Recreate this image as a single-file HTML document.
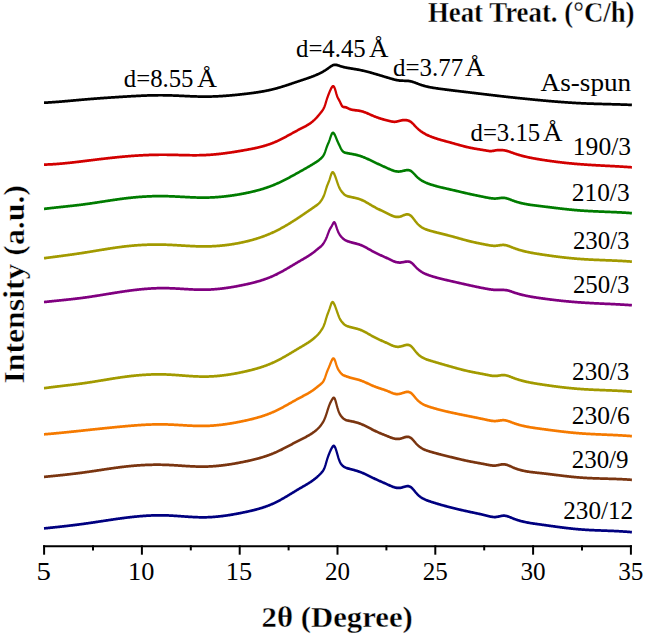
<!DOCTYPE html>
<html><head><meta charset="utf-8"><style>
html,body{margin:0;padding:0;background:#fff;}
svg{display:block;}
</style></head><body>
<svg width="645" height="638" viewBox="0 0 645 638">
<rect width="645" height="638" fill="#fff"/>
<g fill="none" stroke-width="2.2" stroke-linejoin="round" stroke-linecap="butt" transform="scale(1,1.24)">
<path d="M44.0,82.86 L44.5,82.84 L45.0,82.82 L45.5,82.79 L46.0,82.77 L46.5,82.75 L47.0,82.73 L47.5,82.70 L48.0,82.68 L48.5,82.65 L49.0,82.63 L49.5,82.60 L50.0,82.58 L50.5,82.55 L51.0,82.52 L51.5,82.50 L52.0,82.47 L52.5,82.44 L53.0,82.41 L53.5,82.38 L54.0,82.35 L54.5,82.32 L55.0,82.30 L55.5,82.26 L56.0,82.23 L56.5,82.20 L57.0,82.17 L57.5,82.14 L58.0,82.11 L58.5,82.08 L59.0,82.05 L59.5,82.01 L60.0,81.98 L60.5,81.95 L61.0,81.91 L61.5,81.88 L62.0,81.85 L62.5,81.81 L63.0,81.78 L63.5,81.75 L64.0,81.71 L64.5,81.68 L65.0,81.64 L65.5,81.61 L66.0,81.57 L66.5,81.54 L67.0,81.50 L67.5,81.47 L68.0,81.43 L68.5,81.39 L69.0,81.36 L69.5,81.32 L70.0,81.29 L70.5,81.25 L71.0,81.21 L71.5,81.18 L72.0,81.14 L72.5,81.11 L73.0,81.07 L73.5,81.03 L74.0,81.00 L74.5,80.96 L75.0,80.92 L75.5,80.89 L76.0,80.85 L76.5,80.81 L77.0,80.78 L77.5,80.74 L78.0,80.71 L78.5,80.67 L79.0,80.63 L79.5,80.60 L80.0,80.56 L80.5,80.53 L81.0,80.49 L81.5,80.45 L82.0,80.42 L82.5,80.38 L83.0,80.35 L83.5,80.31 L84.0,80.28 L84.5,80.24 L85.0,80.21 L85.5,80.18 L86.0,80.14 L86.5,80.11 L87.0,80.07 L87.5,80.04 L88.0,80.01 L88.5,79.97 L89.0,79.94 L89.5,79.91 L90.0,79.87 L90.5,79.84 L91.0,79.81 L91.5,79.78 L92.0,79.74 L92.5,79.71 L93.0,79.68 L93.5,79.65 L94.0,79.62 L94.5,79.59 L95.0,79.56 L95.5,79.52 L96.0,79.49 L96.5,79.46 L97.0,79.43 L97.5,79.40 L98.0,79.37 L98.5,79.34 L99.0,79.31 L99.5,79.28 L100.0,79.25 L100.5,79.22 L101.0,79.19 L101.5,79.16 L102.0,79.13 L102.5,79.10 L103.0,79.08 L103.5,79.05 L104.0,79.02 L104.5,78.99 L105.0,78.96 L105.5,78.93 L106.0,78.91 L106.5,78.88 L107.0,78.85 L107.5,78.82 L108.0,78.79 L108.5,78.77 L109.0,78.74 L109.5,78.71 L110.0,78.68 L110.5,78.66 L111.0,78.63 L111.5,78.60 L112.0,78.58 L112.5,78.55 L113.0,78.52 L113.5,78.50 L114.0,78.47 L114.5,78.44 L115.0,78.42 L115.5,78.39 L116.0,78.37 L116.5,78.34 L117.0,78.31 L117.5,78.29 L118.0,78.26 L118.5,78.24 L119.0,78.21 L119.5,78.19 L120.0,78.16 L120.5,78.14 L121.0,78.11 L121.5,78.09 L122.0,78.06 L122.5,78.04 L123.0,78.01 L123.5,77.99 L124.0,77.96 L124.5,77.94 L125.0,77.91 L125.5,77.89 L126.0,77.86 L126.5,77.84 L127.0,77.82 L127.5,77.79 L128.0,77.77 L128.5,77.74 L129.0,77.72 L129.5,77.70 L130.0,77.67 L130.5,77.65 L131.0,77.63 L131.5,77.60 L132.0,77.58 L132.5,77.56 L133.0,77.54 L133.5,77.51 L134.0,77.49 L134.5,77.47 L135.0,77.45 L135.5,77.43 L136.0,77.41 L136.5,77.38 L137.0,77.36 L137.5,77.34 L138.0,77.32 L138.5,77.30 L139.0,77.28 L139.5,77.26 L140.0,77.25 L140.5,77.23 L141.0,77.21 L141.5,77.19 L142.0,77.17 L142.5,77.16 L143.0,77.14 L143.5,77.12 L144.0,77.11 L144.5,77.09 L145.0,77.07 L145.5,77.06 L146.0,77.04 L146.5,77.03 L147.0,77.02 L147.5,77.00 L148.0,76.99 L148.5,76.98 L149.0,76.96 L149.5,76.95 L150.0,76.94 L150.5,76.93 L151.0,76.92 L151.5,76.91 L152.0,76.90 L152.5,76.89 L153.0,76.88 L153.5,76.87 L154.0,76.87 L154.5,76.86 L155.0,76.85 L155.5,76.85 L156.0,76.84 L156.5,76.84 L157.0,76.83 L157.5,76.83 L158.0,76.83 L158.5,76.82 L159.0,76.82 L159.5,76.82 L160.0,76.82 L160.5,76.82 L161.0,76.82 L161.5,76.82 L162.0,76.82 L162.5,76.82 L163.0,76.83 L163.5,76.83 L164.0,76.84 L164.5,76.84 L165.0,76.85 L165.5,76.85 L166.0,76.86 L166.5,76.87 L167.0,76.88 L167.5,76.89 L168.0,76.90 L168.5,76.91 L169.0,76.92 L169.5,76.93 L170.0,76.94 L170.5,76.95 L171.0,76.96 L171.5,76.98 L172.0,76.99 L172.5,77.01 L173.0,77.02 L173.5,77.04 L174.0,77.05 L174.5,77.07 L175.0,77.08 L175.5,77.10 L176.0,77.12 L176.5,77.13 L177.0,77.15 L177.5,77.17 L178.0,77.18 L178.5,77.20 L179.0,77.22 L179.5,77.24 L180.0,77.26 L180.5,77.27 L181.0,77.29 L181.5,77.31 L182.0,77.33 L182.5,77.35 L183.0,77.37 L183.5,77.39 L184.0,77.40 L184.5,77.42 L185.0,77.44 L185.5,77.46 L186.0,77.48 L186.5,77.50 L187.0,77.52 L187.5,77.53 L188.0,77.55 L188.5,77.57 L189.0,77.59 L189.5,77.60 L190.0,77.62 L190.5,77.64 L191.0,77.65 L191.5,77.67 L192.0,77.68 L192.5,77.70 L193.0,77.71 L193.5,77.73 L194.0,77.74 L194.5,77.76 L195.0,77.77 L195.5,77.78 L196.0,77.79 L196.5,77.81 L197.0,77.82 L197.5,77.83 L198.0,77.84 L198.5,77.85 L199.0,77.86 L199.5,77.87 L200.0,77.87 L200.5,77.88 L201.0,77.89 L201.5,77.89 L202.0,77.90 L202.5,77.90 L203.0,77.90 L203.5,77.91 L204.0,77.91 L204.5,77.91 L205.0,77.91 L205.5,77.91 L206.0,77.91 L206.5,77.91 L207.0,77.90 L207.5,77.90 L208.0,77.89 L208.5,77.89 L209.0,77.88 L209.5,77.88 L210.0,77.87 L210.5,77.86 L211.0,77.85 L211.5,77.84 L212.0,77.83 L212.5,77.82 L213.0,77.80 L213.5,77.79 L214.0,77.78 L214.5,77.76 L215.0,77.74 L215.5,77.73 L216.0,77.71 L216.5,77.69 L217.0,77.68 L217.5,77.66 L218.0,77.64 L218.5,77.62 L219.0,77.59 L219.5,77.57 L220.0,77.55 L220.5,77.53 L221.0,77.50 L221.5,77.48 L222.0,77.45 L222.5,77.43 L223.0,77.40 L223.5,77.38 L224.0,77.35 L224.5,77.32 L225.0,77.29 L225.5,77.26 L226.0,77.23 L226.5,77.20 L227.0,77.17 L227.5,77.14 L228.0,77.11 L228.5,77.08 L229.0,77.04 L229.5,77.01 L230.0,76.97 L230.5,76.94 L231.0,76.90 L231.5,76.87 L232.0,76.83 L232.5,76.80 L233.0,76.76 L233.5,76.72 L234.0,76.68 L234.5,76.64 L235.0,76.61 L235.5,76.57 L236.0,76.53 L236.5,76.49 L237.0,76.45 L237.5,76.40 L238.0,76.36 L238.5,76.32 L239.0,76.28 L239.5,76.24 L240.0,76.19 L240.5,76.15 L241.0,76.10 L241.5,76.06 L242.0,76.02 L242.5,75.97 L243.0,75.93 L243.5,75.88 L244.0,75.83 L244.5,75.79 L245.0,75.74 L245.5,75.69 L246.0,75.65 L246.5,75.60 L247.0,75.55 L247.5,75.50 L248.0,75.45 L248.5,75.40 L249.0,75.35 L249.5,75.30 L250.0,75.25 L250.5,75.20 L251.0,75.15 L251.5,75.10 L252.0,75.05 L252.5,74.99 L253.0,74.94 L253.5,74.88 L254.0,74.83 L254.5,74.77 L255.0,74.71 L255.5,74.66 L256.0,74.60 L256.5,74.54 L257.0,74.48 L257.5,74.42 L258.0,74.35 L258.5,74.29 L259.0,74.23 L259.5,74.16 L260.0,74.10 L260.5,74.03 L261.0,73.96 L261.5,73.89 L262.0,73.83 L262.5,73.75 L263.0,73.68 L263.5,73.61 L264.0,73.54 L264.5,73.46 L265.0,73.38 L265.5,73.31 L266.0,73.23 L266.5,73.15 L267.0,73.07 L267.5,72.98 L268.0,72.90 L268.5,72.81 L269.0,72.73 L269.5,72.64 L270.0,72.55 L270.5,72.46 L271.0,72.37 L271.5,72.27 L272.0,72.18 L272.5,72.08 L273.0,71.98 L273.5,71.88 L274.0,71.78 L274.5,71.68 L275.0,71.57 L275.5,71.47 L276.0,71.36 L276.5,71.25 L277.0,71.14 L277.5,71.03 L278.0,70.91 L278.5,70.80 L279.0,70.68 L279.5,70.56 L280.0,70.45 L280.5,70.33 L281.0,70.20 L281.5,70.08 L282.0,69.96 L282.5,69.83 L283.0,69.71 L283.5,69.58 L284.0,69.45 L284.5,69.32 L285.0,69.19 L285.5,69.06 L286.0,68.93 L286.5,68.80 L287.0,68.67 L287.5,68.54 L288.0,68.40 L288.5,68.27 L289.0,68.14 L289.5,68.00 L290.0,67.87 L290.5,67.73 L291.0,67.59 L291.5,67.46 L292.0,67.32 L292.5,67.18 L293.0,67.05 L293.5,66.91 L294.0,66.77 L294.5,66.64 L295.0,66.50 L295.5,66.36 L296.0,66.23 L296.5,66.09 L297.0,65.95 L297.5,65.82 L298.0,65.68 L298.5,65.55 L299.0,65.41 L299.5,65.28 L300.0,65.14 L300.5,65.01 L301.0,64.88 L301.5,64.74 L302.0,64.61 L302.5,64.48 L303.0,64.34 L303.5,64.21 L304.0,64.08 L304.5,63.94 L305.0,63.81 L305.5,63.67 L306.0,63.54 L306.5,63.40 L307.0,63.27 L307.5,63.13 L308.0,62.99 L308.5,62.85 L309.0,62.71 L309.5,62.57 L310.0,62.42 L310.5,62.27 L311.0,62.13 L311.5,61.98 L312.0,61.83 L312.5,61.67 L313.0,61.52 L313.5,61.36 L314.0,61.20 L314.5,61.03 L315.0,60.87 L315.5,60.70 L316.0,60.53 L316.5,60.36 L317.0,60.18 L317.5,60.00 L318.0,59.82 L318.5,59.63 L319.0,59.44 L319.5,59.25 L320.0,59.05 L320.5,58.85 L321.0,58.64 L321.5,58.43 L322.0,58.22 L322.5,58.00 L323.0,57.78 L323.5,57.55 L324.0,57.31 L324.5,57.07 L325.0,56.83 L325.5,56.57 L326.0,56.31 L326.5,56.05 L327.0,55.77 L327.5,55.49 L328.0,55.20 L328.5,54.90 L329.0,54.60 L329.5,54.30 L330.0,54.00 L330.5,53.71 L331.0,53.44 L331.5,53.18 L332.0,52.95 L332.5,52.74 L333.0,52.56 L333.5,52.42 L334.0,52.32 L334.5,52.26 L335.0,52.24 L335.5,52.25 L336.0,52.29 L336.5,52.36 L337.0,52.46 L337.5,52.57 L338.0,52.69 L338.5,52.83 L339.0,52.97 L339.5,53.11 L340.0,53.25 L340.5,53.39 L341.0,53.52 L341.5,53.64 L342.0,53.75 L342.5,53.86 L343.0,53.97 L343.5,54.07 L344.0,54.16 L344.5,54.26 L345.0,54.34 L345.5,54.43 L346.0,54.51 L346.5,54.59 L347.0,54.66 L347.5,54.74 L348.0,54.81 L348.5,54.88 L349.0,54.95 L349.5,55.02 L350.0,55.09 L350.5,55.15 L351.0,55.22 L351.5,55.29 L352.0,55.35 L352.5,55.42 L353.0,55.48 L353.5,55.55 L354.0,55.61 L354.5,55.68 L355.0,55.74 L355.5,55.81 L356.0,55.88 L356.5,55.95 L357.0,56.01 L357.5,56.09 L358.0,56.16 L358.5,56.23 L359.0,56.31 L359.5,56.38 L360.0,56.46 L360.5,56.54 L361.0,56.63 L361.5,56.71 L362.0,56.80 L362.5,56.89 L363.0,56.98 L363.5,57.07 L364.0,57.16 L364.5,57.26 L365.0,57.36 L365.5,57.46 L366.0,57.56 L366.5,57.66 L367.0,57.76 L367.5,57.87 L368.0,57.97 L368.5,58.08 L369.0,58.19 L369.5,58.30 L370.0,58.41 L370.5,58.52 L371.0,58.63 L371.5,58.75 L372.0,58.86 L372.5,58.97 L373.0,59.09 L373.5,59.21 L374.0,59.32 L374.5,59.44 L375.0,59.56 L375.5,59.68 L376.0,59.80 L376.5,59.92 L377.0,60.04 L377.5,60.16 L378.0,60.28 L378.5,60.40 L379.0,60.52 L379.5,60.64 L380.0,60.76 L380.5,60.88 L381.0,61.00 L381.5,61.13 L382.0,61.25 L382.5,61.37 L383.0,61.49 L383.5,61.61 L384.0,61.73 L384.5,61.86 L385.0,61.98 L385.5,62.10 L386.0,62.22 L386.5,62.34 L387.0,62.46 L387.5,62.58 L388.0,62.70 L388.5,62.82 L389.0,62.94 L389.5,63.06 L390.0,63.18 L390.5,63.30 L391.0,63.42 L391.5,63.53 L392.0,63.65 L392.5,63.76 L393.0,63.87 L393.5,63.98 L394.0,64.09 L394.5,64.19 L395.0,64.29 L395.5,64.38 L396.0,64.47 L396.5,64.55 L397.0,64.63 L397.5,64.71 L398.0,64.78 L398.5,64.84 L399.0,64.90 L399.5,64.95 L400.0,64.99 L400.5,65.02 L401.0,65.05 L401.5,65.07 L402.0,65.09 L402.5,65.10 L403.0,65.11 L403.5,65.12 L404.0,65.13 L404.5,65.13 L405.0,65.14 L405.5,65.15 L406.0,65.17 L406.5,65.18 L407.0,65.20 L407.5,65.23 L408.0,65.26 L408.5,65.30 L409.0,65.35 L409.5,65.41 L410.0,65.48 L410.5,65.56 L411.0,65.65 L411.5,65.75 L412.0,65.86 L412.5,65.98 L413.0,66.10 L413.5,66.23 L414.0,66.37 L414.5,66.51 L415.0,66.66 L415.5,66.81 L416.0,66.96 L416.5,67.11 L417.0,67.27 L417.5,67.42 L418.0,67.58 L418.5,67.73 L419.0,67.89 L419.5,68.04 L420.0,68.18 L420.5,68.32 L421.0,68.46 L421.5,68.60 L422.0,68.73 L422.5,68.85 L423.0,68.97 L423.5,69.09 L424.0,69.21 L424.5,69.32 L425.0,69.43 L425.5,69.53 L426.0,69.63 L426.5,69.73 L427.0,69.83 L427.5,69.92 L428.0,70.01 L428.5,70.10 L429.0,70.19 L429.5,70.27 L430.0,70.35 L430.5,70.43 L431.0,70.50 L431.5,70.58 L432.0,70.65 L432.5,70.72 L433.0,70.79 L433.5,70.85 L434.0,70.92 L434.5,70.98 L435.0,71.04 L435.5,71.11 L436.0,71.17 L436.5,71.22 L437.0,71.28 L437.5,71.34 L438.0,71.40 L438.5,71.45 L439.0,71.51 L439.5,71.56 L440.0,71.62 L440.5,71.67 L441.0,71.72 L441.5,71.78 L442.0,71.83 L442.5,71.88 L443.0,71.94 L443.5,71.99 L444.0,72.04 L444.5,72.09 L445.0,72.15 L445.5,72.20 L446.0,72.25 L446.5,72.30 L447.0,72.35 L447.5,72.40 L448.0,72.45 L448.5,72.50 L449.0,72.55 L449.5,72.61 L450.0,72.66 L450.5,72.71 L451.0,72.76 L451.5,72.81 L452.0,72.86 L452.5,72.90 L453.0,72.95 L453.5,73.00 L454.0,73.05 L454.5,73.10 L455.0,73.15 L455.5,73.20 L456.0,73.25 L456.5,73.30 L457.0,73.35 L457.5,73.39 L458.0,73.44 L458.5,73.49 L459.0,73.54 L459.5,73.59 L460.0,73.64 L460.5,73.68 L461.0,73.73 L461.5,73.78 L462.0,73.83 L462.5,73.88 L463.0,73.92 L463.5,73.97 L464.0,74.02 L464.5,74.07 L465.0,74.12 L465.5,74.16 L466.0,74.21 L466.5,74.26 L467.0,74.31 L467.5,74.35 L468.0,74.40 L468.5,74.45 L469.0,74.50 L469.5,74.55 L470.0,74.59 L470.5,74.64 L471.0,74.69 L471.5,74.74 L472.0,74.79 L472.5,74.84 L473.0,74.88 L473.5,74.93 L474.0,74.98 L474.5,75.03 L475.0,75.08 L475.5,75.13 L476.0,75.17 L476.5,75.22 L477.0,75.27 L477.5,75.32 L478.0,75.37 L478.5,75.42 L479.0,75.47 L479.5,75.51 L480.0,75.56 L480.5,75.61 L481.0,75.66 L481.5,75.71 L482.0,75.76 L482.5,75.80 L483.0,75.85 L483.5,75.90 L484.0,75.95 L484.5,76.00 L485.0,76.05 L485.5,76.09 L486.0,76.14 L486.5,76.19 L487.0,76.24 L487.5,76.29 L488.0,76.34 L488.5,76.38 L489.0,76.43 L489.5,76.48 L490.0,76.53 L490.5,76.58 L491.0,76.62 L491.5,76.67 L492.0,76.72 L492.5,76.77 L493.0,76.81 L493.5,76.86 L494.0,76.91 L494.5,76.96 L495.0,77.00 L495.5,77.05 L496.0,77.10 L496.5,77.14 L497.0,77.19 L497.5,77.24 L498.0,77.28 L498.5,77.33 L499.0,77.38 L499.5,77.42 L500.0,77.47 L500.5,77.52 L501.0,77.56 L501.5,77.61 L502.0,77.65 L502.5,77.70 L503.0,77.75 L503.5,77.79 L504.0,77.84 L504.5,77.88 L505.0,77.93 L505.5,77.97 L506.0,78.02 L506.5,78.06 L507.0,78.11 L507.5,78.15 L508.0,78.20 L508.5,78.24 L509.0,78.28 L509.5,78.33 L510.0,78.37 L510.5,78.42 L511.0,78.46 L511.5,78.50 L512.0,78.55 L512.5,78.59 L513.0,78.63 L513.5,78.68 L514.0,78.72 L514.5,78.76 L515.0,78.81 L515.5,78.85 L516.0,78.89 L516.5,78.94 L517.0,78.98 L517.5,79.02 L518.0,79.06 L518.5,79.11 L519.0,79.15 L519.5,79.19 L520.0,79.23 L520.5,79.27 L521.0,79.31 L521.5,79.36 L522.0,79.40 L522.5,79.44 L523.0,79.48 L523.5,79.52 L524.0,79.56 L524.5,79.60 L525.0,79.64 L525.5,79.68 L526.0,79.73 L526.5,79.77 L527.0,79.81 L527.5,79.85 L528.0,79.89 L528.5,79.93 L529.0,79.97 L529.5,80.01 L530.0,80.05 L530.5,80.09 L531.0,80.13 L531.5,80.16 L532.0,80.20 L532.5,80.24 L533.0,80.28 L533.5,80.32 L534.0,80.36 L534.5,80.40 L535.0,80.44 L535.5,80.48 L536.0,80.51 L536.5,80.55 L537.0,80.59 L537.5,80.63 L538.0,80.67 L538.5,80.70 L539.0,80.74 L539.5,80.78 L540.0,80.82 L540.5,80.85 L541.0,80.89 L541.5,80.93 L542.0,80.97 L542.5,81.00 L543.0,81.04 L543.5,81.08 L544.0,81.11 L544.5,81.15 L545.0,81.19 L545.5,81.22 L546.0,81.26 L546.5,81.29 L547.0,81.33 L547.5,81.37 L548.0,81.40 L548.5,81.44 L549.0,81.47 L549.5,81.51 L550.0,81.54 L550.5,81.58 L551.0,81.61 L551.5,81.65 L552.0,81.68 L552.5,81.71 L553.0,81.75 L553.5,81.78 L554.0,81.81 L554.5,81.85 L555.0,81.88 L555.5,81.91 L556.0,81.95 L556.5,81.98 L557.0,82.01 L557.5,82.04 L558.0,82.08 L558.5,82.11 L559.0,82.14 L559.5,82.17 L560.0,82.20 L560.5,82.23 L561.0,82.26 L561.5,82.29 L562.0,82.32 L562.5,82.35 L563.0,82.38 L563.5,82.41 L564.0,82.44 L564.5,82.47 L565.0,82.50 L565.5,82.53 L566.0,82.55 L566.5,82.58 L567.0,82.61 L567.5,82.64 L568.0,82.66 L568.5,82.69 L569.0,82.72 L569.5,82.74 L570.0,82.77 L570.5,82.80 L571.0,82.82 L571.5,82.85 L572.0,82.87 L572.5,82.90 L573.0,82.92 L573.5,82.95 L574.0,82.97 L574.5,82.99 L575.0,83.02 L575.5,83.04 L576.0,83.06 L576.5,83.08 L577.0,83.11 L577.5,83.13 L578.0,83.15 L578.5,83.17 L579.0,83.19 L579.5,83.21 L580.0,83.23 L580.5,83.25 L581.0,83.27 L581.5,83.29 L582.0,83.31 L582.5,83.33 L583.0,83.34 L583.5,83.36 L584.0,83.38 L584.5,83.40 L585.0,83.41 L585.5,83.43 L586.0,83.45 L586.5,83.46 L587.0,83.48 L587.5,83.49 L588.0,83.51 L588.5,83.52 L589.0,83.54 L589.5,83.55 L590.0,83.57 L590.5,83.58 L591.0,83.60 L591.5,83.61 L592.0,83.62 L592.5,83.64 L593.0,83.65 L593.5,83.66 L594.0,83.68 L594.5,83.69 L595.0,83.70 L595.5,83.72 L596.0,83.73 L596.5,83.74 L597.0,83.75 L597.5,83.76 L598.0,83.78 L598.5,83.79 L599.0,83.80 L599.5,83.81 L600.0,83.82 L600.5,83.83 L601.0,83.84 L601.5,83.86 L602.0,83.87 L602.5,83.88 L603.0,83.89 L603.5,83.90 L604.0,83.91 L604.5,83.92 L605.0,83.93 L605.5,83.94 L606.0,83.95 L606.5,83.96 L607.0,83.97 L607.5,83.98 L608.0,83.99 L608.5,84.01 L609.0,84.02 L609.5,84.03 L610.0,84.04 L610.5,84.05 L611.0,84.06 L611.5,84.07 L612.0,84.08 L612.5,84.09 L613.0,84.10 L613.5,84.11 L614.0,84.12 L614.5,84.13 L615.0,84.15 L615.5,84.16 L616.0,84.17 L616.5,84.18 L617.0,84.19 L617.5,84.20 L618.0,84.21 L618.5,84.23 L619.0,84.24 L619.5,84.25 L620.0,84.26 L620.5,84.27 L621.0,84.29 L621.5,84.30 L622.0,84.31 L622.5,84.32 L623.0,84.34 L623.5,84.35 L624.0,84.36 L624.5,84.38 L625.0,84.39 L625.5,84.41 L626.0,84.42 L626.5,84.44 L627.0,84.45 L627.5,84.47 L628.0,84.48 L628.5,84.50 L629.0,84.51 L629.5,84.53 L630.0,84.54 L630.5,84.56 L631.0,84.58 L631.5,84.59 L631.9,84.61" stroke="#000000"/>
<path d="M44.0,132.75 L44.5,132.74 L45.0,132.73 L45.5,132.72 L46.0,132.71 L46.5,132.69 L47.0,132.68 L47.5,132.66 L48.0,132.65 L48.5,132.63 L49.0,132.61 L49.5,132.59 L50.0,132.58 L50.5,132.56 L51.0,132.53 L51.5,132.51 L52.0,132.49 L52.5,132.47 L53.0,132.44 L53.5,132.42 L54.0,132.39 L54.5,132.37 L55.0,132.34 L55.5,132.31 L56.0,132.28 L56.5,132.25 L57.0,132.22 L57.5,132.19 L58.0,132.16 L58.5,132.13 L59.0,132.10 L59.5,132.06 L60.0,132.03 L60.5,132.00 L61.0,131.96 L61.5,131.93 L62.0,131.89 L62.5,131.85 L63.0,131.82 L63.5,131.78 L64.0,131.74 L64.5,131.70 L65.0,131.66 L65.5,131.62 L66.0,131.58 L66.5,131.54 L67.0,131.50 L67.5,131.46 L68.0,131.42 L68.5,131.37 L69.0,131.33 L69.5,131.29 L70.0,131.24 L70.5,131.20 L71.0,131.16 L71.5,131.11 L72.0,131.07 L72.5,131.02 L73.0,130.98 L73.5,130.93 L74.0,130.88 L74.5,130.84 L75.0,130.79 L75.5,130.74 L76.0,130.70 L76.5,130.65 L77.0,130.60 L77.5,130.55 L78.0,130.50 L78.5,130.46 L79.0,130.41 L79.5,130.36 L80.0,130.31 L80.5,130.26 L81.0,130.21 L81.5,130.16 L82.0,130.11 L82.5,130.07 L83.0,130.02 L83.5,129.97 L84.0,129.92 L84.5,129.87 L85.0,129.82 L85.5,129.77 L86.0,129.72 L86.5,129.67 L87.0,129.62 L87.5,129.57 L88.0,129.52 L88.5,129.47 L89.0,129.42 L89.5,129.37 L90.0,129.32 L90.5,129.27 L91.0,129.22 L91.5,129.17 L92.0,129.12 L92.5,129.07 L93.0,129.03 L93.5,128.98 L94.0,128.93 L94.5,128.88 L95.0,128.83 L95.5,128.78 L96.0,128.73 L96.5,128.68 L97.0,128.63 L97.5,128.59 L98.0,128.54 L98.5,128.49 L99.0,128.44 L99.5,128.39 L100.0,128.34 L100.5,128.30 L101.0,128.25 L101.5,128.20 L102.0,128.15 L102.5,128.11 L103.0,128.06 L103.5,128.01 L104.0,127.96 L104.5,127.92 L105.0,127.87 L105.5,127.83 L106.0,127.78 L106.5,127.73 L107.0,127.69 L107.5,127.64 L108.0,127.60 L108.5,127.55 L109.0,127.51 L109.5,127.46 L110.0,127.42 L110.5,127.37 L111.0,127.33 L111.5,127.28 L112.0,127.24 L112.5,127.20 L113.0,127.15 L113.5,127.11 L114.0,127.07 L114.5,127.03 L115.0,126.98 L115.5,126.94 L116.0,126.90 L116.5,126.86 L117.0,126.82 L117.5,126.78 L118.0,126.74 L118.5,126.70 L119.0,126.66 L119.5,126.62 L120.0,126.58 L120.5,126.54 L121.0,126.50 L121.5,126.47 L122.0,126.43 L122.5,126.39 L123.0,126.35 L123.5,126.32 L124.0,126.28 L124.5,126.25 L125.0,126.21 L125.5,126.17 L126.0,126.14 L126.5,126.11 L127.0,126.07 L127.5,126.04 L128.0,126.00 L128.5,125.97 L129.0,125.94 L129.5,125.91 L130.0,125.88 L130.5,125.84 L131.0,125.81 L131.5,125.78 L132.0,125.75 L132.5,125.72 L133.0,125.69 L133.5,125.67 L134.0,125.64 L134.5,125.61 L135.0,125.58 L135.5,125.55 L136.0,125.53 L136.5,125.50 L137.0,125.48 L137.5,125.45 L138.0,125.42 L138.5,125.40 L139.0,125.38 L139.5,125.35 L140.0,125.33 L140.5,125.31 L141.0,125.28 L141.5,125.26 L142.0,125.24 L142.5,125.22 L143.0,125.20 L143.5,125.18 L144.0,125.16 L144.5,125.14 L145.0,125.12 L145.5,125.10 L146.0,125.09 L146.5,125.07 L147.0,125.05 L147.5,125.04 L148.0,125.02 L148.5,125.01 L149.0,124.99 L149.5,124.98 L150.0,124.96 L150.5,124.95 L151.0,124.94 L151.5,124.92 L152.0,124.91 L152.5,124.90 L153.0,124.89 L153.5,124.88 L154.0,124.87 L154.5,124.86 L155.0,124.85 L155.5,124.84 L156.0,124.84 L156.5,124.83 L157.0,124.82 L157.5,124.82 L158.0,124.81 L158.5,124.81 L159.0,124.80 L159.5,124.80 L160.0,124.80 L160.5,124.79 L161.0,124.79 L161.5,124.79 L162.0,124.79 L162.5,124.79 L163.0,124.79 L163.5,124.79 L164.0,124.79 L164.5,124.79 L165.0,124.79 L165.5,124.79 L166.0,124.80 L166.5,124.80 L167.0,124.81 L167.5,124.81 L168.0,124.82 L168.5,124.82 L169.0,124.83 L169.5,124.83 L170.0,124.84 L170.5,124.85 L171.0,124.86 L171.5,124.86 L172.0,124.87 L172.5,124.88 L173.0,124.89 L173.5,124.90 L174.0,124.91 L174.5,124.92 L175.0,124.93 L175.5,124.94 L176.0,124.95 L176.5,124.96 L177.0,124.97 L177.5,124.98 L178.0,124.99 L178.5,125.00 L179.0,125.01 L179.5,125.02 L180.0,125.03 L180.5,125.04 L181.0,125.05 L181.5,125.06 L182.0,125.07 L182.5,125.08 L183.0,125.09 L183.5,125.10 L184.0,125.11 L184.5,125.12 L185.0,125.13 L185.5,125.13 L186.0,125.14 L186.5,125.15 L187.0,125.16 L187.5,125.17 L188.0,125.17 L188.5,125.18 L189.0,125.19 L189.5,125.19 L190.0,125.20 L190.5,125.20 L191.0,125.21 L191.5,125.21 L192.0,125.21 L192.5,125.22 L193.0,125.22 L193.5,125.22 L194.0,125.22 L194.5,125.22 L195.0,125.22 L195.5,125.22 L196.0,125.22 L196.5,125.22 L197.0,125.21 L197.5,125.21 L198.0,125.21 L198.5,125.20 L199.0,125.20 L199.5,125.19 L200.0,125.18 L200.5,125.17 L201.0,125.16 L201.5,125.15 L202.0,125.14 L202.5,125.13 L203.0,125.12 L203.5,125.10 L204.0,125.09 L204.5,125.07 L205.0,125.05 L205.5,125.03 L206.0,125.01 L206.5,124.99 L207.0,124.97 L207.5,124.95 L208.0,124.93 L208.5,124.90 L209.0,124.88 L209.5,124.85 L210.0,124.82 L210.5,124.79 L211.0,124.76 L211.5,124.73 L212.0,124.70 L212.5,124.67 L213.0,124.64 L213.5,124.60 L214.0,124.57 L214.5,124.53 L215.0,124.49 L215.5,124.46 L216.0,124.42 L216.5,124.38 L217.0,124.34 L217.5,124.30 L218.0,124.25 L218.5,124.21 L219.0,124.17 L219.5,124.12 L220.0,124.08 L220.5,124.03 L221.0,123.98 L221.5,123.94 L222.0,123.89 L222.5,123.84 L223.0,123.79 L223.5,123.74 L224.0,123.69 L224.5,123.64 L225.0,123.58 L225.5,123.53 L226.0,123.48 L226.5,123.42 L227.0,123.37 L227.5,123.31 L228.0,123.26 L228.5,123.20 L229.0,123.14 L229.5,123.08 L230.0,123.02 L230.5,122.97 L231.0,122.91 L231.5,122.84 L232.0,122.78 L232.5,122.72 L233.0,122.66 L233.5,122.60 L234.0,122.53 L234.5,122.47 L235.0,122.41 L235.5,122.34 L236.0,122.28 L236.5,122.21 L237.0,122.15 L237.5,122.08 L238.0,122.01 L238.5,121.95 L239.0,121.88 L239.5,121.81 L240.0,121.74 L240.5,121.67 L241.0,121.61 L241.5,121.54 L242.0,121.47 L242.5,121.40 L243.0,121.33 L243.5,121.26 L244.0,121.18 L244.5,121.11 L245.0,121.04 L245.5,120.97 L246.0,120.90 L246.5,120.83 L247.0,120.75 L247.5,120.68 L248.0,120.61 L248.5,120.53 L249.0,120.46 L249.5,120.38 L250.0,120.30 L250.5,120.23 L251.0,120.15 L251.5,120.07 L252.0,119.99 L252.5,119.91 L253.0,119.83 L253.5,119.75 L254.0,119.66 L254.5,119.58 L255.0,119.49 L255.5,119.41 L256.0,119.32 L256.5,119.23 L257.0,119.14 L257.5,119.05 L258.0,118.95 L258.5,118.86 L259.0,118.76 L259.5,118.66 L260.0,118.56 L260.5,118.46 L261.0,118.36 L261.5,118.25 L262.0,118.14 L262.5,118.04 L263.0,117.93 L263.5,117.81 L264.0,117.70 L264.5,117.58 L265.0,117.46 L265.5,117.34 L266.0,117.22 L266.5,117.09 L267.0,116.96 L267.5,116.83 L268.0,116.70 L268.5,116.57 L269.0,116.43 L269.5,116.29 L270.0,116.15 L270.5,116.00 L271.0,115.86 L271.5,115.70 L272.0,115.55 L272.5,115.40 L273.0,115.24 L273.5,115.08 L274.0,114.91 L274.5,114.74 L275.0,114.57 L275.5,114.40 L276.0,114.22 L276.5,114.04 L277.0,113.86 L277.5,113.67 L278.0,113.49 L278.5,113.30 L279.0,113.10 L279.5,112.91 L280.0,112.71 L280.5,112.51 L281.0,112.31 L281.5,112.11 L282.0,111.90 L282.5,111.70 L283.0,111.49 L283.5,111.28 L284.0,111.07 L284.5,110.85 L285.0,110.64 L285.5,110.42 L286.0,110.21 L286.5,109.99 L287.0,109.77 L287.5,109.55 L288.0,109.33 L288.5,109.11 L289.0,108.89 L289.5,108.67 L290.0,108.45 L290.5,108.22 L291.0,108.00 L291.5,107.78 L292.0,107.56 L292.5,107.34 L293.0,107.11 L293.5,106.89 L294.0,106.67 L294.5,106.45 L295.0,106.23 L295.5,106.01 L296.0,105.79 L296.5,105.58 L297.0,105.36 L297.5,105.14 L298.0,104.93 L298.5,104.72 L299.0,104.50 L299.5,104.29 L300.0,104.09 L300.5,103.88 L301.0,103.67 L301.5,103.47 L302.0,103.26 L302.5,103.06 L303.0,102.85 L303.5,102.64 L304.0,102.43 L304.5,102.22 L305.0,102.00 L305.5,101.79 L306.0,101.56 L306.5,101.33 L307.0,101.10 L307.5,100.86 L308.0,100.61 L308.5,100.36 L309.0,100.10 L309.5,99.83 L310.0,99.56 L310.5,99.27 L311.0,98.98 L311.5,98.67 L312.0,98.35 L312.5,98.03 L313.0,97.69 L313.5,97.34 L314.0,96.98 L314.5,96.60 L315.0,96.21 L315.5,95.80 L316.0,95.39 L316.5,94.95 L317.0,94.51 L317.5,94.06 L318.0,93.60 L318.5,93.12 L319.0,92.64 L319.5,92.16 L320.0,91.66 L320.5,91.15 L321.0,90.64 L321.5,90.11 L322.0,89.57 L322.5,89.02 L323.0,88.41 L323.5,87.73 L324.0,86.92 L324.5,85.97 L325.0,84.85 L325.5,83.60 L326.0,82.28 L326.5,80.95 L327.0,79.67 L327.5,78.49 L328.0,77.38 L328.5,76.34 L329.0,75.34 L329.5,74.36 L330.0,73.38 L330.5,72.43 L331.0,71.56 L331.5,70.79 L332.0,70.18 L332.5,69.76 L333.0,69.56 L333.5,69.63 L334.0,70.01 L334.5,70.73 L335.0,71.80 L335.5,73.12 L336.0,74.57 L336.5,76.00 L337.0,77.28 L337.5,78.33 L338.0,79.18 L338.5,79.91 L339.0,80.61 L339.5,81.35 L340.0,82.18 L340.5,83.07 L341.0,83.94 L341.5,84.73 L342.0,85.38 L342.5,85.83 L343.0,86.12 L343.5,86.27 L344.0,86.35 L344.5,86.38 L345.0,86.42 L345.5,86.50 L346.0,86.62 L346.5,86.77 L347.0,86.95 L347.5,87.14 L348.0,87.33 L348.5,87.53 L349.0,87.71 L349.5,87.88 L350.0,88.03 L350.5,88.17 L351.0,88.29 L351.5,88.39 L352.0,88.49 L352.5,88.57 L353.0,88.65 L353.5,88.72 L354.0,88.78 L354.5,88.83 L355.0,88.88 L355.5,88.93 L356.0,88.97 L356.5,89.02 L357.0,89.06 L357.5,89.11 L358.0,89.16 L358.5,89.22 L359.0,89.28 L359.5,89.34 L360.0,89.42 L360.5,89.50 L361.0,89.60 L361.5,89.70 L362.0,89.81 L362.5,89.93 L363.0,90.05 L363.5,90.19 L364.0,90.32 L364.5,90.47 L365.0,90.62 L365.5,90.77 L366.0,90.93 L366.5,91.10 L367.0,91.26 L367.5,91.43 L368.0,91.60 L368.5,91.78 L369.0,91.96 L369.5,92.13 L370.0,92.31 L370.5,92.49 L371.0,92.67 L371.5,92.85 L372.0,93.03 L372.5,93.20 L373.0,93.38 L373.5,93.55 L374.0,93.72 L374.5,93.89 L375.0,94.05 L375.5,94.21 L376.0,94.37 L376.5,94.52 L377.0,94.66 L377.5,94.81 L378.0,94.95 L378.5,95.09 L379.0,95.22 L379.5,95.35 L380.0,95.48 L380.5,95.61 L381.0,95.73 L381.5,95.86 L382.0,95.98 L382.5,96.09 L383.0,96.21 L383.5,96.32 L384.0,96.44 L384.5,96.55 L385.0,96.66 L385.5,96.77 L386.0,96.88 L386.5,96.98 L387.0,97.09 L387.5,97.20 L388.0,97.30 L388.5,97.41 L389.0,97.51 L389.5,97.61 L390.0,97.71 L390.5,97.80 L391.0,97.89 L391.5,97.97 L392.0,98.04 L392.5,98.10 L393.0,98.15 L393.5,98.19 L394.0,98.21 L394.5,98.22 L395.0,98.21 L395.5,98.19 L396.0,98.14 L396.5,98.08 L397.0,98.00 L397.5,97.91 L398.0,97.81 L398.5,97.70 L399.0,97.58 L399.5,97.47 L400.0,97.36 L400.5,97.26 L401.0,97.16 L401.5,97.08 L402.0,97.01 L402.5,96.95 L403.0,96.90 L403.5,96.87 L404.0,96.85 L404.5,96.84 L405.0,96.85 L405.5,96.87 L406.0,96.91 L406.5,96.95 L407.0,97.02 L407.5,97.10 L408.0,97.20 L408.5,97.33 L409.0,97.48 L409.5,97.66 L410.0,97.87 L410.5,98.12 L411.0,98.40 L411.5,98.71 L412.0,99.06 L412.5,99.44 L413.0,99.84 L413.5,100.26 L414.0,100.69 L414.5,101.12 L415.0,101.56 L415.5,101.99 L416.0,102.41 L416.5,102.82 L417.0,103.22 L417.5,103.60 L418.0,103.97 L418.5,104.33 L419.0,104.67 L419.5,105.00 L420.0,105.32 L420.5,105.63 L421.0,105.93 L421.5,106.21 L422.0,106.49 L422.5,106.76 L423.0,107.02 L423.5,107.27 L424.0,107.51 L424.5,107.74 L425.0,107.96 L425.5,108.18 L426.0,108.39 L426.5,108.59 L427.0,108.79 L427.5,108.98 L428.0,109.17 L428.5,109.35 L429.0,109.52 L429.5,109.70 L430.0,109.86 L430.5,110.03 L431.0,110.19 L431.5,110.35 L432.0,110.50 L432.5,110.65 L433.0,110.80 L433.5,110.95 L434.0,111.09 L434.5,111.23 L435.0,111.37 L435.5,111.51 L436.0,111.64 L436.5,111.77 L437.0,111.90 L437.5,112.03 L438.0,112.15 L438.5,112.27 L439.0,112.40 L439.5,112.52 L440.0,112.63 L440.5,112.75 L441.0,112.87 L441.5,112.98 L442.0,113.10 L442.5,113.21 L443.0,113.32 L443.5,113.43 L444.0,113.54 L444.5,113.65 L445.0,113.76 L445.5,113.87 L446.0,113.98 L446.5,114.09 L447.0,114.20 L447.5,114.30 L448.0,114.41 L448.5,114.52 L449.0,114.63 L449.5,114.74 L450.0,114.85 L450.5,114.96 L451.0,115.07 L451.5,115.19 L452.0,115.30 L452.5,115.41 L453.0,115.53 L453.5,115.64 L454.0,115.76 L454.5,115.87 L455.0,115.98 L455.5,116.10 L456.0,116.21 L456.5,116.33 L457.0,116.44 L457.5,116.55 L458.0,116.67 L458.5,116.78 L459.0,116.89 L459.5,117.01 L460.0,117.12 L460.5,117.23 L461.0,117.34 L461.5,117.45 L462.0,117.56 L462.5,117.67 L463.0,117.77 L463.5,117.88 L464.0,117.98 L464.5,118.09 L465.0,118.19 L465.5,118.29 L466.0,118.39 L466.5,118.49 L467.0,118.58 L467.5,118.68 L468.0,118.77 L468.5,118.86 L469.0,118.95 L469.5,119.04 L470.0,119.12 L470.5,119.21 L471.0,119.29 L471.5,119.37 L472.0,119.45 L472.5,119.53 L473.0,119.60 L473.5,119.68 L474.0,119.75 L474.5,119.82 L475.0,119.89 L475.5,119.96 L476.0,120.03 L476.5,120.10 L477.0,120.16 L477.5,120.23 L478.0,120.30 L478.5,120.36 L479.0,120.43 L479.5,120.49 L480.0,120.56 L480.5,120.62 L481.0,120.69 L481.5,120.75 L482.0,120.82 L482.5,120.88 L483.0,120.95 L483.5,121.02 L484.0,121.09 L484.5,121.16 L485.0,121.23 L485.5,121.30 L486.0,121.37 L486.5,121.44 L487.0,121.51 L487.5,121.58 L488.0,121.65 L488.5,121.71 L489.0,121.76 L489.5,121.80 L490.0,121.82 L490.5,121.84 L491.0,121.83 L491.5,121.81 L492.0,121.77 L492.5,121.72 L493.0,121.66 L493.5,121.60 L494.0,121.52 L494.5,121.45 L495.0,121.37 L495.5,121.30 L496.0,121.23 L496.5,121.17 L497.0,121.12 L497.5,121.08 L498.0,121.04 L498.5,121.02 L499.0,121.00 L499.5,120.98 L500.0,120.98 L500.5,120.99 L501.0,121.00 L501.5,121.02 L502.0,121.05 L502.5,121.08 L503.0,121.12 L503.5,121.17 L504.0,121.23 L504.5,121.30 L505.0,121.37 L505.5,121.45 L506.0,121.54 L506.5,121.64 L507.0,121.74 L507.5,121.85 L508.0,121.97 L508.5,122.09 L509.0,122.22 L509.5,122.36 L510.0,122.50 L510.5,122.65 L511.0,122.79 L511.5,122.94 L512.0,123.09 L512.5,123.24 L513.0,123.38 L513.5,123.53 L514.0,123.67 L514.5,123.81 L515.0,123.95 L515.5,124.08 L516.0,124.21 L516.5,124.34 L517.0,124.47 L517.5,124.60 L518.0,124.72 L518.5,124.84 L519.0,124.96 L519.5,125.08 L520.0,125.19 L520.5,125.31 L521.0,125.42 L521.5,125.53 L522.0,125.64 L522.5,125.74 L523.0,125.85 L523.5,125.95 L524.0,126.05 L524.5,126.15 L525.0,126.24 L525.5,126.34 L526.0,126.43 L526.5,126.53 L527.0,126.62 L527.5,126.71 L528.0,126.80 L528.5,126.88 L529.0,126.97 L529.5,127.05 L530.0,127.14 L530.5,127.22 L531.0,127.30 L531.5,127.38 L532.0,127.46 L532.5,127.53 L533.0,127.61 L533.5,127.69 L534.0,127.76 L534.5,127.83 L535.0,127.91 L535.5,127.98 L536.0,128.05 L536.5,128.12 L537.0,128.19 L537.5,128.26 L538.0,128.33 L538.5,128.39 L539.0,128.46 L539.5,128.53 L540.0,128.59 L540.5,128.66 L541.0,128.72 L541.5,128.79 L542.0,128.85 L542.5,128.91 L543.0,128.98 L543.5,129.04 L544.0,129.10 L544.5,129.16 L545.0,129.23 L545.5,129.29 L546.0,129.35 L546.5,129.41 L547.0,129.47 L547.5,129.53 L548.0,129.58 L548.5,129.64 L549.0,129.70 L549.5,129.76 L550.0,129.81 L550.5,129.87 L551.0,129.93 L551.5,129.98 L552.0,130.04 L552.5,130.09 L553.0,130.14 L553.5,130.20 L554.0,130.25 L554.5,130.30 L555.0,130.36 L555.5,130.41 L556.0,130.46 L556.5,130.51 L557.0,130.56 L557.5,130.61 L558.0,130.66 L558.5,130.71 L559.0,130.76 L559.5,130.81 L560.0,130.86 L560.5,130.90 L561.0,130.95 L561.5,131.00 L562.0,131.04 L562.5,131.09 L563.0,131.14 L563.5,131.18 L564.0,131.23 L564.5,131.27 L565.0,131.31 L565.5,131.36 L566.0,131.40 L566.5,131.44 L567.0,131.48 L567.5,131.53 L568.0,131.57 L568.5,131.61 L569.0,131.65 L569.5,131.69 L570.0,131.73 L570.5,131.77 L571.0,131.81 L571.5,131.84 L572.0,131.88 L572.5,131.92 L573.0,131.96 L573.5,131.99 L574.0,132.03 L574.5,132.07 L575.0,132.10 L575.5,132.14 L576.0,132.17 L576.5,132.21 L577.0,132.24 L577.5,132.27 L578.0,132.31 L578.5,132.34 L579.0,132.37 L579.5,132.40 L580.0,132.43 L580.5,132.47 L581.0,132.50 L581.5,132.53 L582.0,132.56 L582.5,132.59 L583.0,132.62 L583.5,132.64 L584.0,132.67 L584.5,132.70 L585.0,132.73 L585.5,132.76 L586.0,132.78 L586.5,132.81 L587.0,132.84 L587.5,132.86 L588.0,132.89 L588.5,132.92 L589.0,132.94 L589.5,132.97 L590.0,132.99 L590.5,133.02 L591.0,133.04 L591.5,133.07 L592.0,133.09 L592.5,133.11 L593.0,133.14 L593.5,133.16 L594.0,133.18 L594.5,133.21 L595.0,133.23 L595.5,133.25 L596.0,133.28 L596.5,133.30 L597.0,133.32 L597.5,133.34 L598.0,133.36 L598.5,133.39 L599.0,133.41 L599.5,133.43 L600.0,133.45 L600.5,133.47 L601.0,133.49 L601.5,133.52 L602.0,133.54 L602.5,133.56 L603.0,133.58 L603.5,133.60 L604.0,133.62 L604.5,133.64 L605.0,133.66 L605.5,133.68 L606.0,133.70 L606.5,133.72 L607.0,133.75 L607.5,133.77 L608.0,133.79 L608.5,133.81 L609.0,133.83 L609.5,133.85 L610.0,133.87 L610.5,133.89 L611.0,133.91 L611.5,133.93 L612.0,133.95 L612.5,133.98 L613.0,134.00 L613.5,134.02 L614.0,134.04 L614.5,134.06 L615.0,134.08 L615.5,134.11 L616.0,134.13 L616.5,134.15 L617.0,134.17 L617.5,134.19 L618.0,134.22 L618.5,134.24 L619.0,134.26 L619.5,134.28 L620.0,134.31 L620.5,134.33 L621.0,134.36 L621.5,134.38 L622.0,134.40 L622.5,134.43 L623.0,134.45 L623.5,134.48 L624.0,134.50 L624.5,134.53 L625.0,134.55 L625.5,134.58 L626.0,134.60 L626.5,134.63 L627.0,134.66 L627.5,134.68 L628.0,134.71 L628.5,134.74 L629.0,134.77 L629.5,134.79 L630.0,134.82 L630.5,134.85 L631.0,134.88 L631.5,134.91 L631.9,134.93" stroke="#d20000"/>
<path d="M44.0,168.47 L44.5,168.42 L45.0,168.37 L45.5,168.32 L46.0,168.27 L46.5,168.22 L47.0,168.18 L47.5,168.13 L48.0,168.08 L48.5,168.03 L49.0,167.99 L49.5,167.94 L50.0,167.89 L50.5,167.85 L51.0,167.80 L51.5,167.75 L52.0,167.71 L52.5,167.66 L53.0,167.62 L53.5,167.57 L54.0,167.53 L54.5,167.48 L55.0,167.44 L55.5,167.40 L56.0,167.35 L56.5,167.31 L57.0,167.26 L57.5,167.22 L58.0,167.18 L58.5,167.13 L59.0,167.09 L59.5,167.05 L60.0,167.00 L60.5,166.96 L61.0,166.92 L61.5,166.88 L62.0,166.83 L62.5,166.79 L63.0,166.75 L63.5,166.70 L64.0,166.66 L64.5,166.62 L65.0,166.57 L65.5,166.53 L66.0,166.49 L66.5,166.45 L67.0,166.40 L67.5,166.36 L68.0,166.31 L68.5,166.27 L69.0,166.23 L69.5,166.18 L70.0,166.14 L70.5,166.10 L71.0,166.05 L71.5,166.01 L72.0,165.96 L72.5,165.92 L73.0,165.87 L73.5,165.83 L74.0,165.78 L74.5,165.73 L75.0,165.69 L75.5,165.64 L76.0,165.60 L76.5,165.55 L77.0,165.50 L77.5,165.45 L78.0,165.41 L78.5,165.36 L79.0,165.31 L79.5,165.26 L80.0,165.21 L80.5,165.16 L81.0,165.11 L81.5,165.06 L82.0,165.01 L82.5,164.96 L83.0,164.91 L83.5,164.85 L84.0,164.80 L84.5,164.75 L85.0,164.70 L85.5,164.64 L86.0,164.59 L86.5,164.53 L87.0,164.48 L87.5,164.42 L88.0,164.36 L88.5,164.31 L89.0,164.25 L89.5,164.19 L90.0,164.14 L90.5,164.08 L91.0,164.02 L91.5,163.96 L92.0,163.90 L92.5,163.84 L93.0,163.78 L93.5,163.72 L94.0,163.66 L94.5,163.60 L95.0,163.54 L95.5,163.48 L96.0,163.42 L96.5,163.36 L97.0,163.30 L97.5,163.23 L98.0,163.17 L98.5,163.11 L99.0,163.05 L99.5,162.99 L100.0,162.92 L100.5,162.86 L101.0,162.80 L101.5,162.74 L102.0,162.67 L102.5,162.61 L103.0,162.55 L103.5,162.49 L104.0,162.42 L104.5,162.36 L105.0,162.30 L105.5,162.24 L106.0,162.18 L106.5,162.11 L107.0,162.05 L107.5,161.99 L108.0,161.93 L108.5,161.87 L109.0,161.80 L109.5,161.74 L110.0,161.68 L110.5,161.62 L111.0,161.56 L111.5,161.50 L112.0,161.44 L112.5,161.38 L113.0,161.32 L113.5,161.26 L114.0,161.20 L114.5,161.14 L115.0,161.08 L115.5,161.02 L116.0,160.96 L116.5,160.91 L117.0,160.85 L117.5,160.79 L118.0,160.74 L118.5,160.68 L119.0,160.62 L119.5,160.57 L120.0,160.51 L120.5,160.46 L121.0,160.41 L121.5,160.35 L122.0,160.30 L122.5,160.25 L123.0,160.19 L123.5,160.14 L124.0,160.09 L124.5,160.04 L125.0,159.99 L125.5,159.94 L126.0,159.90 L126.5,159.85 L127.0,159.80 L127.5,159.75 L128.0,159.71 L128.5,159.66 L129.0,159.62 L129.5,159.57 L130.0,159.53 L130.5,159.49 L131.0,159.44 L131.5,159.40 L132.0,159.36 L132.5,159.32 L133.0,159.28 L133.5,159.24 L134.0,159.20 L134.5,159.16 L135.0,159.13 L135.5,159.09 L136.0,159.05 L136.5,159.02 L137.0,158.98 L137.5,158.95 L138.0,158.92 L138.5,158.88 L139.0,158.85 L139.5,158.82 L140.0,158.79 L140.5,158.76 L141.0,158.73 L141.5,158.70 L142.0,158.68 L142.5,158.65 L143.0,158.62 L143.5,158.60 L144.0,158.57 L144.5,158.55 L145.0,158.52 L145.5,158.50 L146.0,158.48 L146.5,158.46 L147.0,158.43 L147.5,158.41 L148.0,158.40 L148.5,158.38 L149.0,158.36 L149.5,158.34 L150.0,158.33 L150.5,158.31 L151.0,158.29 L151.5,158.28 L152.0,158.27 L152.5,158.25 L153.0,158.24 L153.5,158.23 L154.0,158.22 L154.5,158.21 L155.0,158.20 L155.5,158.19 L156.0,158.19 L156.5,158.18 L157.0,158.17 L157.5,158.17 L158.0,158.16 L158.5,158.16 L159.0,158.16 L159.5,158.16 L160.0,158.15 L160.5,158.15 L161.0,158.15 L161.5,158.16 L162.0,158.16 L162.5,158.16 L163.0,158.16 L163.5,158.17 L164.0,158.17 L164.5,158.18 L165.0,158.19 L165.5,158.19 L166.0,158.20 L166.5,158.21 L167.0,158.22 L167.5,158.23 L168.0,158.24 L168.5,158.26 L169.0,158.27 L169.5,158.28 L170.0,158.30 L170.5,158.31 L171.0,158.33 L171.5,158.34 L172.0,158.36 L172.5,158.38 L173.0,158.39 L173.5,158.41 L174.0,158.43 L174.5,158.45 L175.0,158.47 L175.5,158.48 L176.0,158.50 L176.5,158.52 L177.0,158.54 L177.5,158.56 L178.0,158.58 L178.5,158.60 L179.0,158.63 L179.5,158.65 L180.0,158.67 L180.5,158.69 L181.0,158.71 L181.5,158.73 L182.0,158.75 L182.5,158.77 L183.0,158.80 L183.5,158.82 L184.0,158.84 L184.5,158.86 L185.0,158.88 L185.5,158.90 L186.0,158.92 L186.5,158.94 L187.0,158.96 L187.5,158.98 L188.0,159.00 L188.5,159.02 L189.0,159.04 L189.5,159.06 L190.0,159.08 L190.5,159.10 L191.0,159.12 L191.5,159.13 L192.0,159.15 L192.5,159.17 L193.0,159.18 L193.5,159.20 L194.0,159.21 L194.5,159.23 L195.0,159.24 L195.5,159.26 L196.0,159.27 L196.5,159.28 L197.0,159.29 L197.5,159.30 L198.0,159.31 L198.5,159.32 L199.0,159.33 L199.5,159.34 L200.0,159.34 L200.5,159.35 L201.0,159.35 L201.5,159.36 L202.0,159.36 L202.5,159.36 L203.0,159.36 L203.5,159.36 L204.0,159.36 L204.5,159.36 L205.0,159.36 L205.5,159.35 L206.0,159.35 L206.5,159.34 L207.0,159.34 L207.5,159.33 L208.0,159.32 L208.5,159.31 L209.0,159.30 L209.5,159.28 L210.0,159.27 L210.5,159.25 L211.0,159.24 L211.5,159.22 L212.0,159.20 L212.5,159.18 L213.0,159.16 L213.5,159.14 L214.0,159.12 L214.5,159.10 L215.0,159.07 L215.5,159.05 L216.0,159.02 L216.5,158.99 L217.0,158.97 L217.5,158.94 L218.0,158.91 L218.5,158.87 L219.0,158.84 L219.5,158.81 L220.0,158.77 L220.5,158.74 L221.0,158.70 L221.5,158.67 L222.0,158.63 L222.5,158.59 L223.0,158.55 L223.5,158.51 L224.0,158.46 L224.5,158.42 L225.0,158.38 L225.5,158.33 L226.0,158.29 L226.5,158.24 L227.0,158.19 L227.5,158.14 L228.0,158.09 L228.5,158.04 L229.0,157.99 L229.5,157.94 L230.0,157.88 L230.5,157.83 L231.0,157.77 L231.5,157.72 L232.0,157.66 L232.5,157.60 L233.0,157.54 L233.5,157.48 L234.0,157.42 L234.5,157.36 L235.0,157.30 L235.5,157.24 L236.0,157.17 L236.5,157.11 L237.0,157.04 L237.5,156.97 L238.0,156.90 L238.5,156.84 L239.0,156.77 L239.5,156.70 L240.0,156.62 L240.5,156.55 L241.0,156.48 L241.5,156.41 L242.0,156.33 L242.5,156.26 L243.0,156.18 L243.5,156.10 L244.0,156.02 L244.5,155.95 L245.0,155.87 L245.5,155.78 L246.0,155.70 L246.5,155.62 L247.0,155.54 L247.5,155.45 L248.0,155.37 L248.5,155.28 L249.0,155.20 L249.5,155.11 L250.0,155.02 L250.5,154.93 L251.0,154.84 L251.5,154.75 L252.0,154.65 L252.5,154.56 L253.0,154.46 L253.5,154.37 L254.0,154.27 L254.5,154.17 L255.0,154.07 L255.5,153.97 L256.0,153.86 L256.5,153.76 L257.0,153.65 L257.5,153.55 L258.0,153.44 L258.5,153.33 L259.0,153.22 L259.5,153.11 L260.0,152.99 L260.5,152.88 L261.0,152.76 L261.5,152.64 L262.0,152.52 L262.5,152.40 L263.0,152.27 L263.5,152.15 L264.0,152.02 L264.5,151.89 L265.0,151.76 L265.5,151.63 L266.0,151.50 L266.5,151.36 L267.0,151.22 L267.5,151.08 L268.0,150.94 L268.5,150.80 L269.0,150.65 L269.5,150.51 L270.0,150.36 L270.5,150.21 L271.0,150.05 L271.5,149.90 L272.0,149.74 L272.5,149.58 L273.0,149.42 L273.5,149.26 L274.0,149.09 L274.5,148.92 L275.0,148.75 L275.5,148.58 L276.0,148.41 L276.5,148.23 L277.0,148.05 L277.5,147.87 L278.0,147.69 L278.5,147.51 L279.0,147.32 L279.5,147.13 L280.0,146.94 L280.5,146.75 L281.0,146.56 L281.5,146.36 L282.0,146.17 L282.5,145.97 L283.0,145.77 L283.5,145.57 L284.0,145.36 L284.5,145.16 L285.0,144.96 L285.5,144.75 L286.0,144.54 L286.5,144.33 L287.0,144.12 L287.5,143.91 L288.0,143.70 L288.5,143.48 L289.0,143.27 L289.5,143.05 L290.0,142.84 L290.5,142.62 L291.0,142.40 L291.5,142.18 L292.0,141.96 L292.5,141.74 L293.0,141.52 L293.5,141.30 L294.0,141.08 L294.5,140.85 L295.0,140.63 L295.5,140.41 L296.0,140.18 L296.5,139.96 L297.0,139.73 L297.5,139.51 L298.0,139.28 L298.5,139.06 L299.0,138.83 L299.5,138.61 L300.0,138.38 L300.5,138.15 L301.0,137.93 L301.5,137.70 L302.0,137.48 L302.5,137.25 L303.0,137.03 L303.5,136.80 L304.0,136.57 L304.5,136.34 L305.0,136.11 L305.5,135.89 L306.0,135.66 L306.5,135.43 L307.0,135.19 L307.5,134.96 L308.0,134.73 L308.5,134.49 L309.0,134.26 L309.5,134.02 L310.0,133.78 L310.5,133.54 L311.0,133.30 L311.5,133.06 L312.0,132.82 L312.5,132.57 L313.0,132.33 L313.5,132.08 L314.0,131.83 L314.5,131.57 L315.0,131.32 L315.5,131.06 L316.0,130.80 L316.5,130.54 L317.0,130.27 L317.5,129.99 L318.0,129.70 L318.5,129.40 L319.0,129.09 L319.5,128.76 L320.0,128.42 L320.5,128.07 L321.0,127.69 L321.5,127.30 L322.0,126.88 L322.5,126.44 L323.0,125.94 L323.5,125.35 L324.0,124.65 L324.5,123.79 L325.0,122.76 L325.5,121.62 L326.0,120.41 L326.5,119.20 L327.0,118.07 L327.5,117.04 L328.0,116.08 L328.5,115.14 L329.0,114.17 L329.5,113.10 L330.0,111.91 L330.5,110.68 L331.0,109.50 L331.5,108.47 L332.0,107.71 L332.5,107.27 L333.0,107.16 L333.5,107.33 L334.0,107.74 L334.5,108.36 L335.0,109.13 L335.5,110.03 L336.0,111.00 L336.5,112.00 L337.0,112.99 L337.5,113.93 L338.0,114.82 L338.5,115.69 L339.0,116.54 L339.5,117.39 L340.0,118.26 L340.5,119.11 L341.0,119.91 L341.5,120.65 L342.0,121.28 L342.5,121.79 L343.0,122.19 L343.5,122.49 L344.0,122.73 L344.5,122.90 L345.0,123.05 L345.5,123.17 L346.0,123.28 L346.5,123.38 L347.0,123.47 L347.5,123.55 L348.0,123.63 L348.5,123.70 L349.0,123.77 L349.5,123.84 L350.0,123.91 L350.5,123.98 L351.0,124.05 L351.5,124.13 L352.0,124.20 L352.5,124.28 L353.0,124.35 L353.5,124.43 L354.0,124.51 L354.5,124.60 L355.0,124.68 L355.5,124.77 L356.0,124.86 L356.5,124.96 L357.0,125.06 L357.5,125.16 L358.0,125.27 L358.5,125.38 L359.0,125.49 L359.5,125.61 L360.0,125.74 L360.5,125.87 L361.0,126.01 L361.5,126.15 L362.0,126.29 L362.5,126.44 L363.0,126.60 L363.5,126.76 L364.0,126.92 L364.5,127.08 L365.0,127.25 L365.5,127.42 L366.0,127.60 L366.5,127.78 L367.0,127.96 L367.5,128.14 L368.0,128.33 L368.5,128.51 L369.0,128.70 L369.5,128.89 L370.0,129.08 L370.5,129.28 L371.0,129.47 L371.5,129.66 L372.0,129.86 L372.5,130.05 L373.0,130.25 L373.5,130.44 L374.0,130.64 L374.5,130.83 L375.0,131.03 L375.5,131.22 L376.0,131.41 L376.5,131.60 L377.0,131.79 L377.5,131.98 L378.0,132.17 L378.5,132.35 L379.0,132.54 L379.5,132.73 L380.0,132.91 L380.5,133.10 L381.0,133.28 L381.5,133.46 L382.0,133.65 L382.5,133.83 L383.0,134.01 L383.5,134.20 L384.0,134.38 L384.5,134.56 L385.0,134.74 L385.5,134.92 L386.0,135.11 L386.5,135.29 L387.0,135.47 L387.5,135.65 L388.0,135.84 L388.5,136.02 L389.0,136.20 L389.5,136.38 L390.0,136.56 L390.5,136.73 L391.0,136.90 L391.5,137.07 L392.0,137.22 L392.5,137.38 L393.0,137.52 L393.5,137.65 L394.0,137.78 L394.5,137.89 L395.0,138.00 L395.5,138.09 L396.0,138.16 L396.5,138.22 L397.0,138.27 L397.5,138.31 L398.0,138.33 L398.5,138.33 L399.0,138.32 L399.5,138.30 L400.0,138.27 L400.5,138.22 L401.0,138.16 L401.5,138.09 L402.0,138.01 L402.5,137.91 L403.0,137.82 L403.5,137.72 L404.0,137.62 L404.5,137.53 L405.0,137.44 L405.5,137.36 L406.0,137.29 L406.5,137.23 L407.0,137.19 L407.5,137.17 L408.0,137.18 L408.5,137.21 L409.0,137.28 L409.5,137.38 L410.0,137.52 L410.5,137.70 L411.0,137.93 L411.5,138.21 L412.0,138.53 L412.5,138.89 L413.0,139.28 L413.5,139.69 L414.0,140.12 L414.5,140.56 L415.0,141.00 L415.5,141.43 L416.0,141.86 L416.5,142.27 L417.0,142.66 L417.5,143.03 L418.0,143.39 L418.5,143.73 L419.0,144.06 L419.5,144.38 L420.0,144.68 L420.5,144.96 L421.0,145.23 L421.5,145.50 L422.0,145.74 L422.5,145.98 L423.0,146.21 L423.5,146.43 L424.0,146.64 L424.5,146.83 L425.0,147.02 L425.5,147.21 L426.0,147.38 L426.5,147.55 L427.0,147.71 L427.5,147.87 L428.0,148.02 L428.5,148.17 L429.0,148.31 L429.5,148.45 L430.0,148.58 L430.5,148.72 L431.0,148.85 L431.5,148.98 L432.0,149.10 L432.5,149.23 L433.0,149.35 L433.5,149.47 L434.0,149.59 L434.5,149.70 L435.0,149.82 L435.5,149.93 L436.0,150.04 L436.5,150.15 L437.0,150.26 L437.5,150.37 L438.0,150.47 L438.5,150.58 L439.0,150.68 L439.5,150.78 L440.0,150.88 L440.5,150.98 L441.0,151.08 L441.5,151.18 L442.0,151.27 L442.5,151.37 L443.0,151.46 L443.5,151.56 L444.0,151.65 L444.5,151.74 L445.0,151.84 L445.5,151.93 L446.0,152.02 L446.5,152.11 L447.0,152.21 L447.5,152.30 L448.0,152.39 L448.5,152.48 L449.0,152.57 L449.5,152.66 L450.0,152.76 L450.5,152.85 L451.0,152.94 L451.5,153.04 L452.0,153.13 L452.5,153.22 L453.0,153.32 L453.5,153.41 L454.0,153.51 L454.5,153.60 L455.0,153.69 L455.5,153.79 L456.0,153.88 L456.5,153.98 L457.0,154.07 L457.5,154.17 L458.0,154.26 L458.5,154.36 L459.0,154.45 L459.5,154.55 L460.0,154.64 L460.5,154.74 L461.0,154.83 L461.5,154.93 L462.0,155.02 L462.5,155.12 L463.0,155.21 L463.5,155.30 L464.0,155.40 L464.5,155.49 L465.0,155.58 L465.5,155.68 L466.0,155.77 L466.5,155.86 L467.0,155.95 L467.5,156.05 L468.0,156.14 L468.5,156.23 L469.0,156.32 L469.5,156.41 L470.0,156.50 L470.5,156.59 L471.0,156.68 L471.5,156.76 L472.0,156.85 L472.5,156.94 L473.0,157.03 L473.5,157.11 L474.0,157.20 L474.5,157.28 L475.0,157.37 L475.5,157.45 L476.0,157.54 L476.5,157.62 L477.0,157.71 L477.5,157.79 L478.0,157.87 L478.5,157.96 L479.0,158.04 L479.5,158.12 L480.0,158.20 L480.5,158.29 L481.0,158.37 L481.5,158.45 L482.0,158.53 L482.5,158.61 L483.0,158.69 L483.5,158.77 L484.0,158.85 L484.5,158.93 L485.0,159.02 L485.5,159.10 L486.0,159.18 L486.5,159.26 L487.0,159.34 L487.5,159.41 L488.0,159.49 L488.5,159.57 L489.0,159.64 L489.5,159.71 L490.0,159.77 L490.5,159.83 L491.0,159.89 L491.5,159.94 L492.0,159.99 L492.5,160.03 L493.0,160.06 L493.5,160.09 L494.0,160.11 L494.5,160.12 L495.0,160.12 L495.5,160.11 L496.0,160.09 L496.5,160.07 L497.0,160.03 L497.5,159.99 L498.0,159.94 L498.5,159.89 L499.0,159.84 L499.5,159.79 L500.0,159.74 L500.5,159.69 L501.0,159.65 L501.5,159.61 L502.0,159.58 L502.5,159.57 L503.0,159.56 L503.5,159.57 L504.0,159.59 L504.5,159.64 L505.0,159.69 L505.5,159.76 L506.0,159.85 L506.5,159.94 L507.0,160.05 L507.5,160.17 L508.0,160.30 L508.5,160.43 L509.0,160.57 L509.5,160.72 L510.0,160.87 L510.5,161.02 L511.0,161.18 L511.5,161.34 L512.0,161.49 L512.5,161.65 L513.0,161.80 L513.5,161.95 L514.0,162.09 L514.5,162.23 L515.0,162.37 L515.5,162.50 L516.0,162.63 L516.5,162.76 L517.0,162.88 L517.5,163.00 L518.0,163.12 L518.5,163.23 L519.0,163.34 L519.5,163.45 L520.0,163.55 L520.5,163.65 L521.0,163.75 L521.5,163.85 L522.0,163.94 L522.5,164.03 L523.0,164.12 L523.5,164.21 L524.0,164.29 L524.5,164.37 L525.0,164.45 L525.5,164.53 L526.0,164.60 L526.5,164.68 L527.0,164.75 L527.5,164.82 L528.0,164.88 L528.5,164.95 L529.0,165.01 L529.5,165.08 L530.0,165.14 L530.5,165.20 L531.0,165.26 L531.5,165.32 L532.0,165.37 L532.5,165.43 L533.0,165.48 L533.5,165.54 L534.0,165.59 L534.5,165.64 L535.0,165.69 L535.5,165.74 L536.0,165.79 L536.5,165.84 L537.0,165.89 L537.5,165.94 L538.0,165.99 L538.5,166.04 L539.0,166.09 L539.5,166.14 L540.0,166.18 L540.5,166.23 L541.0,166.28 L541.5,166.33 L542.0,166.38 L542.5,166.43 L543.0,166.48 L543.5,166.53 L544.0,166.58 L544.5,166.63 L545.0,166.68 L545.5,166.73 L546.0,166.77 L546.5,166.82 L547.0,166.87 L547.5,166.92 L548.0,166.97 L548.5,167.02 L549.0,167.07 L549.5,167.12 L550.0,167.17 L550.5,167.22 L551.0,167.27 L551.5,167.32 L552.0,167.37 L552.5,167.42 L553.0,167.47 L553.5,167.52 L554.0,167.56 L554.5,167.61 L555.0,167.66 L555.5,167.71 L556.0,167.76 L556.5,167.81 L557.0,167.86 L557.5,167.90 L558.0,167.95 L558.5,168.00 L559.0,168.05 L559.5,168.09 L560.0,168.14 L560.5,168.19 L561.0,168.23 L561.5,168.28 L562.0,168.33 L562.5,168.37 L563.0,168.42 L563.5,168.46 L564.0,168.51 L564.5,168.55 L565.0,168.59 L565.5,168.64 L566.0,168.68 L566.5,168.73 L567.0,168.77 L567.5,168.81 L568.0,168.85 L568.5,168.90 L569.0,168.94 L569.5,168.98 L570.0,169.02 L570.5,169.06 L571.0,169.10 L571.5,169.14 L572.0,169.18 L572.5,169.22 L573.0,169.25 L573.5,169.29 L574.0,169.33 L574.5,169.37 L575.0,169.40 L575.5,169.44 L576.0,169.47 L576.5,169.51 L577.0,169.54 L577.5,169.58 L578.0,169.61 L578.5,169.64 L579.0,169.67 L579.5,169.71 L580.0,169.74 L580.5,169.77 L581.0,169.80 L581.5,169.83 L582.0,169.85 L582.5,169.88 L583.0,169.91 L583.5,169.94 L584.0,169.96 L584.5,169.99 L585.0,170.02 L585.5,170.04 L586.0,170.07 L586.5,170.09 L587.0,170.11 L587.5,170.14 L588.0,170.16 L588.5,170.18 L589.0,170.21 L589.5,170.23 L590.0,170.25 L590.5,170.27 L591.0,170.29 L591.5,170.31 L592.0,170.33 L592.5,170.35 L593.0,170.37 L593.5,170.39 L594.0,170.41 L594.5,170.43 L595.0,170.45 L595.5,170.46 L596.0,170.48 L596.5,170.50 L597.0,170.52 L597.5,170.54 L598.0,170.55 L598.5,170.57 L599.0,170.59 L599.5,170.60 L600.0,170.62 L600.5,170.64 L601.0,170.65 L601.5,170.67 L602.0,170.68 L602.5,170.70 L603.0,170.72 L603.5,170.73 L604.0,170.75 L604.5,170.76 L605.0,170.78 L605.5,170.80 L606.0,170.81 L606.5,170.83 L607.0,170.84 L607.5,170.86 L608.0,170.88 L608.5,170.89 L609.0,170.91 L609.5,170.92 L610.0,170.94 L610.5,170.96 L611.0,170.97 L611.5,170.99 L612.0,171.01 L612.5,171.02 L613.0,171.04 L613.5,171.06 L614.0,171.07 L614.5,171.09 L615.0,171.11 L615.5,171.13 L616.0,171.15 L616.5,171.16 L617.0,171.18 L617.5,171.20 L618.0,171.22 L618.5,171.24 L619.0,171.26 L619.5,171.28 L620.0,171.30 L620.5,171.32 L621.0,171.34 L621.5,171.36 L622.0,171.39 L622.5,171.41 L623.0,171.43 L623.5,171.45 L624.0,171.48 L624.5,171.50 L625.0,171.53 L625.5,171.55 L626.0,171.58 L626.5,171.60 L627.0,171.63 L627.5,171.65 L628.0,171.68 L628.5,171.71 L629.0,171.74 L629.5,171.77 L630.0,171.79 L630.5,171.82 L631.0,171.85 L631.5,171.89 L631.9,171.91" stroke="#007c00"/>
<path d="M44.0,208.24 L44.5,208.19 L45.0,208.13 L45.5,208.08 L46.0,208.03 L46.5,207.98 L47.0,207.92 L47.5,207.87 L48.0,207.82 L48.5,207.76 L49.0,207.71 L49.5,207.66 L50.0,207.61 L50.5,207.55 L51.0,207.50 L51.5,207.45 L52.0,207.39 L52.5,207.34 L53.0,207.29 L53.5,207.24 L54.0,207.18 L54.5,207.13 L55.0,207.08 L55.5,207.03 L56.0,206.97 L56.5,206.92 L57.0,206.87 L57.5,206.81 L58.0,206.76 L58.5,206.71 L59.0,206.65 L59.5,206.60 L60.0,206.55 L60.5,206.49 L61.0,206.44 L61.5,206.39 L62.0,206.33 L62.5,206.28 L63.0,206.22 L63.5,206.17 L64.0,206.12 L64.5,206.06 L65.0,206.01 L65.5,205.95 L66.0,205.90 L66.5,205.84 L67.0,205.79 L67.5,205.73 L68.0,205.68 L68.5,205.62 L69.0,205.57 L69.5,205.51 L70.0,205.45 L70.5,205.40 L71.0,205.34 L71.5,205.29 L72.0,205.23 L72.5,205.17 L73.0,205.11 L73.5,205.06 L74.0,205.00 L74.5,204.94 L75.0,204.88 L75.5,204.83 L76.0,204.77 L76.5,204.71 L77.0,204.65 L77.5,204.59 L78.0,204.53 L78.5,204.47 L79.0,204.41 L79.5,204.35 L80.0,204.29 L80.5,204.23 L81.0,204.17 L81.5,204.11 L82.0,204.05 L82.5,203.99 L83.0,203.93 L83.5,203.86 L84.0,203.80 L84.5,203.74 L85.0,203.67 L85.5,203.61 L86.0,203.55 L86.5,203.48 L87.0,203.42 L87.5,203.35 L88.0,203.29 L88.5,203.22 L89.0,203.16 L89.5,203.09 L90.0,203.03 L90.5,202.96 L91.0,202.90 L91.5,202.83 L92.0,202.76 L92.5,202.70 L93.0,202.63 L93.5,202.57 L94.0,202.50 L94.5,202.43 L95.0,202.36 L95.5,202.30 L96.0,202.23 L96.5,202.16 L97.0,202.10 L97.5,202.03 L98.0,201.96 L98.5,201.90 L99.0,201.83 L99.5,201.76 L100.0,201.70 L100.5,201.63 L101.0,201.56 L101.5,201.50 L102.0,201.43 L102.5,201.36 L103.0,201.30 L103.5,201.23 L104.0,201.17 L104.5,201.10 L105.0,201.03 L105.5,200.97 L106.0,200.90 L106.5,200.84 L107.0,200.78 L107.5,200.71 L108.0,200.65 L108.5,200.58 L109.0,200.52 L109.5,200.46 L110.0,200.39 L110.5,200.33 L111.0,200.27 L111.5,200.21 L112.0,200.15 L112.5,200.09 L113.0,200.03 L113.5,199.97 L114.0,199.91 L114.5,199.85 L115.0,199.79 L115.5,199.73 L116.0,199.67 L116.5,199.61 L117.0,199.56 L117.5,199.50 L118.0,199.45 L118.5,199.39 L119.0,199.34 L119.5,199.28 L120.0,199.23 L120.5,199.18 L121.0,199.12 L121.5,199.07 L122.0,199.02 L122.5,198.97 L123.0,198.92 L123.5,198.87 L124.0,198.82 L124.5,198.77 L125.0,198.73 L125.5,198.68 L126.0,198.64 L126.5,198.59 L127.0,198.55 L127.5,198.50 L128.0,198.46 L128.5,198.42 L129.0,198.38 L129.5,198.34 L130.0,198.30 L130.5,198.26 L131.0,198.22 L131.5,198.18 L132.0,198.14 L132.5,198.11 L133.0,198.07 L133.5,198.04 L134.0,198.00 L134.5,197.97 L135.0,197.94 L135.5,197.91 L136.0,197.88 L136.5,197.85 L137.0,197.82 L137.5,197.79 L138.0,197.76 L138.5,197.73 L139.0,197.70 L139.5,197.68 L140.0,197.65 L140.5,197.63 L141.0,197.61 L141.5,197.58 L142.0,197.56 L142.5,197.54 L143.0,197.52 L143.5,197.50 L144.0,197.48 L144.5,197.46 L145.0,197.44 L145.5,197.42 L146.0,197.41 L146.5,197.39 L147.0,197.38 L147.5,197.36 L148.0,197.35 L148.5,197.34 L149.0,197.33 L149.5,197.31 L150.0,197.30 L150.5,197.29 L151.0,197.28 L151.5,197.28 L152.0,197.27 L152.5,197.26 L153.0,197.26 L153.5,197.25 L154.0,197.25 L154.5,197.24 L155.0,197.24 L155.5,197.24 L156.0,197.23 L156.5,197.23 L157.0,197.23 L157.5,197.23 L158.0,197.23 L158.5,197.24 L159.0,197.24 L159.5,197.24 L160.0,197.25 L160.5,197.25 L161.0,197.26 L161.5,197.26 L162.0,197.27 L162.5,197.28 L163.0,197.29 L163.5,197.30 L164.0,197.31 L164.5,197.32 L165.0,197.33 L165.5,197.34 L166.0,197.36 L166.5,197.37 L167.0,197.38 L167.5,197.40 L168.0,197.42 L168.5,197.43 L169.0,197.45 L169.5,197.47 L170.0,197.48 L170.5,197.50 L171.0,197.52 L171.5,197.54 L172.0,197.56 L172.5,197.58 L173.0,197.60 L173.5,197.62 L174.0,197.65 L174.5,197.67 L175.0,197.69 L175.5,197.71 L176.0,197.74 L176.5,197.76 L177.0,197.78 L177.5,197.81 L178.0,197.83 L178.5,197.85 L179.0,197.88 L179.5,197.90 L180.0,197.92 L180.5,197.95 L181.0,197.97 L181.5,198.00 L182.0,198.02 L182.5,198.04 L183.0,198.07 L183.5,198.09 L184.0,198.12 L184.5,198.14 L185.0,198.16 L185.5,198.19 L186.0,198.21 L186.5,198.23 L187.0,198.26 L187.5,198.28 L188.0,198.30 L188.5,198.32 L189.0,198.34 L189.5,198.37 L190.0,198.39 L190.5,198.41 L191.0,198.43 L191.5,198.45 L192.0,198.46 L192.5,198.48 L193.0,198.50 L193.5,198.52 L194.0,198.54 L194.5,198.55 L195.0,198.57 L195.5,198.58 L196.0,198.60 L196.5,198.61 L197.0,198.62 L197.5,198.64 L198.0,198.65 L198.5,198.66 L199.0,198.67 L199.5,198.68 L200.0,198.69 L200.5,198.69 L201.0,198.70 L201.5,198.71 L202.0,198.71 L202.5,198.71 L203.0,198.72 L203.5,198.72 L204.0,198.72 L204.5,198.72 L205.0,198.72 L205.5,198.72 L206.0,198.71 L206.5,198.71 L207.0,198.70 L207.5,198.69 L208.0,198.69 L208.5,198.68 L209.0,198.67 L209.5,198.66 L210.0,198.64 L210.5,198.63 L211.0,198.62 L211.5,198.60 L212.0,198.58 L212.5,198.57 L213.0,198.55 L213.5,198.53 L214.0,198.50 L214.5,198.48 L215.0,198.46 L215.5,198.43 L216.0,198.41 L216.5,198.38 L217.0,198.35 L217.5,198.32 L218.0,198.29 L218.5,198.26 L219.0,198.23 L219.5,198.20 L220.0,198.16 L220.5,198.13 L221.0,198.09 L221.5,198.05 L222.0,198.01 L222.5,197.97 L223.0,197.93 L223.5,197.89 L224.0,197.84 L224.5,197.80 L225.0,197.75 L225.5,197.71 L226.0,197.66 L226.5,197.61 L227.0,197.56 L227.5,197.51 L228.0,197.45 L228.5,197.40 L229.0,197.34 L229.5,197.29 L230.0,197.23 L230.5,197.17 L231.0,197.11 L231.5,197.05 L232.0,196.99 L232.5,196.93 L233.0,196.86 L233.5,196.80 L234.0,196.73 L234.5,196.66 L235.0,196.59 L235.5,196.52 L236.0,196.45 L236.5,196.38 L237.0,196.31 L237.5,196.23 L238.0,196.16 L238.5,196.08 L239.0,196.00 L239.5,195.92 L240.0,195.84 L240.5,195.76 L241.0,195.68 L241.5,195.59 L242.0,195.51 L242.5,195.42 L243.0,195.33 L243.5,195.24 L244.0,195.15 L244.5,195.06 L245.0,194.97 L245.5,194.88 L246.0,194.78 L246.5,194.69 L247.0,194.59 L247.5,194.49 L248.0,194.39 L248.5,194.29 L249.0,194.19 L249.5,194.08 L250.0,193.98 L250.5,193.87 L251.0,193.76 L251.5,193.66 L252.0,193.54 L252.5,193.43 L253.0,193.32 L253.5,193.20 L254.0,193.09 L254.5,192.97 L255.0,192.85 L255.5,192.73 L256.0,192.61 L256.5,192.49 L257.0,192.36 L257.5,192.23 L258.0,192.10 L258.5,191.97 L259.0,191.84 L259.5,191.71 L260.0,191.57 L260.5,191.44 L261.0,191.30 L261.5,191.16 L262.0,191.02 L262.5,190.87 L263.0,190.73 L263.5,190.58 L264.0,190.43 L264.5,190.28 L265.0,190.13 L265.5,189.97 L266.0,189.81 L266.5,189.66 L267.0,189.50 L267.5,189.33 L268.0,189.17 L268.5,189.00 L269.0,188.83 L269.5,188.66 L270.0,188.49 L270.5,188.32 L271.0,188.14 L271.5,187.96 L272.0,187.78 L272.5,187.60 L273.0,187.42 L273.5,187.23 L274.0,187.04 L274.5,186.85 L275.0,186.66 L275.5,186.46 L276.0,186.26 L276.5,186.06 L277.0,185.86 L277.5,185.66 L278.0,185.45 L278.5,185.24 L279.0,185.03 L279.5,184.82 L280.0,184.61 L280.5,184.39 L281.0,184.17 L281.5,183.95 L282.0,183.73 L282.5,183.51 L283.0,183.28 L283.5,183.05 L284.0,182.83 L284.5,182.60 L285.0,182.36 L285.5,182.13 L286.0,181.89 L286.5,181.66 L287.0,181.42 L287.5,181.18 L288.0,180.94 L288.5,180.69 L289.0,180.45 L289.5,180.20 L290.0,179.96 L290.5,179.71 L291.0,179.46 L291.5,179.21 L292.0,178.95 L292.5,178.70 L293.0,178.44 L293.5,178.19 L294.0,177.93 L294.5,177.67 L295.0,177.41 L295.5,177.15 L296.0,176.89 L296.5,176.63 L297.0,176.36 L297.5,176.10 L298.0,175.83 L298.5,175.56 L299.0,175.30 L299.5,175.03 L300.0,174.76 L300.5,174.49 L301.0,174.22 L301.5,173.94 L302.0,173.67 L302.5,173.40 L303.0,173.12 L303.5,172.85 L304.0,172.57 L304.5,172.30 L305.0,172.02 L305.5,171.75 L306.0,171.47 L306.5,171.19 L307.0,170.91 L307.5,170.64 L308.0,170.36 L308.5,170.08 L309.0,169.80 L309.5,169.52 L310.0,169.24 L310.5,168.96 L311.0,168.69 L311.5,168.41 L312.0,168.13 L312.5,167.85 L313.0,167.57 L313.5,167.29 L314.0,167.01 L314.5,166.74 L315.0,166.46 L315.5,166.18 L316.0,165.90 L316.5,165.61 L317.0,165.31 L317.5,164.99 L318.0,164.66 L318.5,164.30 L319.0,163.92 L319.5,163.50 L320.0,163.05 L320.5,162.56 L321.0,162.03 L321.5,161.45 L322.0,160.82 L322.5,160.13 L323.0,159.37 L323.5,158.52 L324.0,157.56 L324.5,156.47 L325.0,155.25 L325.5,153.94 L326.0,152.61 L326.5,151.31 L327.0,150.10 L327.5,149.03 L328.0,148.04 L328.5,147.07 L329.0,146.06 L329.5,144.94 L330.0,143.67 L330.5,142.34 L331.0,141.09 L331.5,140.03 L332.0,139.28 L332.5,138.94 L333.0,138.98 L333.5,139.34 L334.0,139.96 L334.5,140.78 L335.0,141.74 L335.5,142.82 L336.0,143.97 L336.5,145.16 L337.0,146.37 L337.5,147.56 L338.0,148.71 L338.5,149.79 L339.0,150.79 L339.5,151.69 L340.0,152.47 L340.5,153.15 L341.0,153.75 L341.5,154.29 L342.0,154.79 L342.5,155.26 L343.0,155.71 L343.5,156.14 L344.0,156.53 L344.5,156.89 L345.0,157.20 L345.5,157.48 L346.0,157.71 L346.5,157.90 L347.0,158.07 L347.5,158.21 L348.0,158.33 L348.5,158.44 L349.0,158.53 L349.5,158.63 L350.0,158.72 L350.5,158.80 L351.0,158.89 L351.5,158.97 L352.0,159.06 L352.5,159.14 L353.0,159.22 L353.5,159.31 L354.0,159.39 L354.5,159.48 L355.0,159.57 L355.5,159.66 L356.0,159.76 L356.5,159.86 L357.0,159.96 L357.5,160.07 L358.0,160.19 L358.5,160.31 L359.0,160.44 L359.5,160.58 L360.0,160.72 L360.5,160.88 L361.0,161.04 L361.5,161.21 L362.0,161.39 L362.5,161.57 L363.0,161.76 L363.5,161.96 L364.0,162.16 L364.5,162.37 L365.0,162.58 L365.5,162.80 L366.0,163.02 L366.5,163.25 L367.0,163.48 L367.5,163.71 L368.0,163.94 L368.5,164.18 L369.0,164.42 L369.5,164.65 L370.0,164.89 L370.5,165.13 L371.0,165.37 L371.5,165.61 L372.0,165.84 L372.5,166.08 L373.0,166.31 L373.5,166.54 L374.0,166.77 L374.5,167.00 L375.0,167.22 L375.5,167.43 L376.0,167.65 L376.5,167.86 L377.0,168.06 L377.5,168.27 L378.0,168.47 L378.5,168.67 L379.0,168.86 L379.5,169.06 L380.0,169.25 L380.5,169.44 L381.0,169.63 L381.5,169.82 L382.0,170.00 L382.5,170.19 L383.0,170.38 L383.5,170.57 L384.0,170.76 L384.5,170.94 L385.0,171.13 L385.5,171.32 L386.0,171.52 L386.5,171.71 L387.0,171.91 L387.5,172.11 L388.0,172.31 L388.5,172.51 L389.0,172.71 L389.5,172.92 L390.0,173.12 L390.5,173.32 L391.0,173.52 L391.5,173.70 L392.0,173.89 L392.5,174.06 L393.0,174.22 L393.5,174.37 L394.0,174.51 L394.5,174.63 L395.0,174.73 L395.5,174.82 L396.0,174.89 L396.5,174.93 L397.0,174.96 L397.5,174.97 L398.0,174.95 L398.5,174.92 L399.0,174.86 L399.5,174.79 L400.0,174.70 L400.5,174.59 L401.0,174.46 L401.5,174.32 L402.0,174.16 L402.5,173.99 L403.0,173.82 L403.5,173.65 L404.0,173.49 L404.5,173.34 L405.0,173.20 L405.5,173.08 L406.0,172.98 L406.5,172.92 L407.0,172.89 L407.5,172.89 L408.0,172.92 L408.5,173.00 L409.0,173.12 L409.5,173.29 L410.0,173.51 L410.5,173.77 L411.0,174.09 L411.5,174.47 L412.0,174.89 L412.5,175.36 L413.0,175.85 L413.5,176.37 L414.0,176.91 L414.5,177.45 L415.0,177.99 L415.5,178.52 L416.0,179.03 L416.5,179.52 L417.0,179.98 L417.5,180.42 L418.0,180.84 L418.5,181.23 L419.0,181.60 L419.5,181.95 L420.0,182.28 L420.5,182.59 L421.0,182.88 L421.5,183.16 L422.0,183.42 L422.5,183.66 L423.0,183.89 L423.5,184.10 L424.0,184.31 L424.5,184.50 L425.0,184.67 L425.5,184.84 L426.0,185.00 L426.5,185.15 L427.0,185.30 L427.5,185.43 L428.0,185.56 L428.5,185.69 L429.0,185.81 L429.5,185.93 L430.0,186.05 L430.5,186.16 L431.0,186.28 L431.5,186.39 L432.0,186.50 L432.5,186.61 L433.0,186.72 L433.5,186.83 L434.0,186.94 L434.5,187.04 L435.0,187.15 L435.5,187.25 L436.0,187.36 L436.5,187.46 L437.0,187.56 L437.5,187.67 L438.0,187.77 L438.5,187.87 L439.0,187.97 L439.5,188.07 L440.0,188.17 L440.5,188.27 L441.0,188.37 L441.5,188.47 L442.0,188.57 L442.5,188.67 L443.0,188.77 L443.5,188.87 L444.0,188.97 L444.5,189.07 L445.0,189.17 L445.5,189.27 L446.0,189.37 L446.5,189.47 L447.0,189.58 L447.5,189.68 L448.0,189.78 L448.5,189.89 L449.0,189.99 L449.5,190.10 L450.0,190.20 L450.5,190.31 L451.0,190.42 L451.5,190.53 L452.0,190.64 L452.5,190.75 L453.0,190.86 L453.5,190.97 L454.0,191.08 L454.5,191.19 L455.0,191.30 L455.5,191.42 L456.0,191.53 L456.5,191.64 L457.0,191.76 L457.5,191.87 L458.0,191.99 L458.5,192.10 L459.0,192.21 L459.5,192.33 L460.0,192.44 L460.5,192.55 L461.0,192.67 L461.5,192.78 L462.0,192.89 L462.5,193.01 L463.0,193.12 L463.5,193.23 L464.0,193.34 L464.5,193.45 L465.0,193.56 L465.5,193.67 L466.0,193.77 L466.5,193.88 L467.0,193.99 L467.5,194.09 L468.0,194.20 L468.5,194.30 L469.0,194.40 L469.5,194.50 L470.0,194.60 L470.5,194.70 L471.0,194.80 L471.5,194.89 L472.0,194.99 L472.5,195.08 L473.0,195.17 L473.5,195.26 L474.0,195.36 L474.5,195.44 L475.0,195.53 L475.5,195.62 L476.0,195.71 L476.5,195.79 L477.0,195.88 L477.5,195.96 L478.0,196.05 L478.5,196.13 L479.0,196.21 L479.5,196.30 L480.0,196.38 L480.5,196.46 L481.0,196.54 L481.5,196.62 L482.0,196.70 L482.5,196.78 L483.0,196.86 L483.5,196.94 L484.0,197.02 L484.5,197.09 L485.0,197.17 L485.5,197.25 L486.0,197.33 L486.5,197.41 L487.0,197.49 L487.5,197.56 L488.0,197.64 L488.5,197.71 L489.0,197.78 L489.5,197.85 L490.0,197.91 L490.5,197.97 L491.0,198.03 L491.5,198.08 L492.0,198.12 L492.5,198.15 L493.0,198.18 L493.5,198.21 L494.0,198.22 L494.5,198.23 L495.0,198.22 L495.5,198.21 L496.0,198.19 L496.5,198.15 L497.0,198.11 L497.5,198.06 L498.0,198.00 L498.5,197.95 L499.0,197.88 L499.5,197.82 L500.0,197.76 L500.5,197.71 L501.0,197.66 L501.5,197.62 L502.0,197.58 L502.5,197.56 L503.0,197.55 L503.5,197.55 L504.0,197.57 L504.5,197.60 L505.0,197.65 L505.5,197.72 L506.0,197.80 L506.5,197.90 L507.0,198.01 L507.5,198.12 L508.0,198.25 L508.5,198.39 L509.0,198.53 L509.5,198.68 L510.0,198.83 L510.5,198.99 L511.0,199.15 L511.5,199.31 L512.0,199.47 L512.5,199.63 L513.0,199.79 L513.5,199.95 L514.0,200.10 L514.5,200.25 L515.0,200.40 L515.5,200.54 L516.0,200.68 L516.5,200.82 L517.0,200.95 L517.5,201.08 L518.0,201.21 L518.5,201.34 L519.0,201.46 L519.5,201.58 L520.0,201.70 L520.5,201.82 L521.0,201.93 L521.5,202.04 L522.0,202.15 L522.5,202.26 L523.0,202.37 L523.5,202.47 L524.0,202.57 L524.5,202.67 L525.0,202.76 L525.5,202.86 L526.0,202.95 L526.5,203.04 L527.0,203.13 L527.5,203.22 L528.0,203.30 L528.5,203.39 L529.0,203.47 L529.5,203.55 L530.0,203.63 L530.5,203.71 L531.0,203.79 L531.5,203.86 L532.0,203.94 L532.5,204.01 L533.0,204.08 L533.5,204.15 L534.0,204.22 L534.5,204.29 L535.0,204.36 L535.5,204.43 L536.0,204.50 L536.5,204.56 L537.0,204.63 L537.5,204.69 L538.0,204.76 L538.5,204.82 L539.0,204.88 L539.5,204.95 L540.0,205.01 L540.5,205.07 L541.0,205.14 L541.5,205.20 L542.0,205.26 L542.5,205.32 L543.0,205.38 L543.5,205.44 L544.0,205.50 L544.5,205.56 L545.0,205.62 L545.5,205.68 L546.0,205.74 L546.5,205.80 L547.0,205.86 L547.5,205.92 L548.0,205.98 L548.5,206.03 L549.0,206.09 L549.5,206.15 L550.0,206.20 L550.5,206.26 L551.0,206.32 L551.5,206.37 L552.0,206.43 L552.5,206.48 L553.0,206.54 L553.5,206.59 L554.0,206.64 L554.5,206.70 L555.0,206.75 L555.5,206.80 L556.0,206.86 L556.5,206.91 L557.0,206.96 L557.5,207.01 L558.0,207.06 L558.5,207.11 L559.0,207.16 L559.5,207.21 L560.0,207.26 L560.5,207.31 L561.0,207.36 L561.5,207.41 L562.0,207.45 L562.5,207.50 L563.0,207.55 L563.5,207.59 L564.0,207.64 L564.5,207.68 L565.0,207.73 L565.5,207.77 L566.0,207.82 L566.5,207.86 L567.0,207.90 L567.5,207.95 L568.0,207.99 L568.5,208.03 L569.0,208.07 L569.5,208.11 L570.0,208.15 L570.5,208.19 L571.0,208.23 L571.5,208.27 L572.0,208.31 L572.5,208.34 L573.0,208.38 L573.5,208.42 L574.0,208.45 L574.5,208.49 L575.0,208.52 L575.5,208.56 L576.0,208.59 L576.5,208.63 L577.0,208.66 L577.5,208.69 L578.0,208.72 L578.5,208.76 L579.0,208.79 L579.5,208.82 L580.0,208.85 L580.5,208.88 L581.0,208.90 L581.5,208.93 L582.0,208.96 L582.5,208.99 L583.0,209.01 L583.5,209.04 L584.0,209.06 L584.5,209.09 L585.0,209.11 L585.5,209.14 L586.0,209.16 L586.5,209.19 L587.0,209.21 L587.5,209.23 L588.0,209.25 L588.5,209.27 L589.0,209.30 L589.5,209.32 L590.0,209.34 L590.5,209.36 L591.0,209.38 L591.5,209.40 L592.0,209.42 L592.5,209.44 L593.0,209.46 L593.5,209.47 L594.0,209.49 L594.5,209.51 L595.0,209.53 L595.5,209.55 L596.0,209.56 L596.5,209.58 L597.0,209.60 L597.5,209.61 L598.0,209.63 L598.5,209.65 L599.0,209.66 L599.5,209.68 L600.0,209.70 L600.5,209.71 L601.0,209.73 L601.5,209.74 L602.0,209.76 L602.5,209.78 L603.0,209.79 L603.5,209.81 L604.0,209.82 L604.5,209.84 L605.0,209.85 L605.5,209.87 L606.0,209.89 L606.5,209.90 L607.0,209.92 L607.5,209.93 L608.0,209.95 L608.5,209.97 L609.0,209.98 L609.5,210.00 L610.0,210.01 L610.5,210.03 L611.0,210.05 L611.5,210.06 L612.0,210.08 L612.5,210.10 L613.0,210.11 L613.5,210.13 L614.0,210.15 L614.5,210.17 L615.0,210.19 L615.5,210.20 L616.0,210.22 L616.5,210.24 L617.0,210.26 L617.5,210.28 L618.0,210.30 L618.5,210.32 L619.0,210.34 L619.5,210.36 L620.0,210.38 L620.5,210.40 L621.0,210.42 L621.5,210.45 L622.0,210.47 L622.5,210.49 L623.0,210.51 L623.5,210.54 L624.0,210.56 L624.5,210.59 L625.0,210.61 L625.5,210.64 L626.0,210.66 L626.5,210.69 L627.0,210.72 L627.5,210.74 L628.0,210.77 L628.5,210.80 L629.0,210.83 L629.5,210.86 L630.0,210.89 L630.5,210.92 L631.0,210.95 L631.5,210.98 L631.9,211.01" stroke="#a29a00"/>
<path d="M44.0,243.60 L44.5,243.56 L45.0,243.51 L45.5,243.47 L46.0,243.43 L46.5,243.38 L47.0,243.34 L47.5,243.30 L48.0,243.25 L48.5,243.21 L49.0,243.17 L49.5,243.12 L50.0,243.08 L50.5,243.04 L51.0,243.00 L51.5,242.96 L52.0,242.91 L52.5,242.87 L53.0,242.83 L53.5,242.79 L54.0,242.75 L54.5,242.71 L55.0,242.67 L55.5,242.62 L56.0,242.58 L56.5,242.54 L57.0,242.50 L57.5,242.46 L58.0,242.42 L58.5,242.38 L59.0,242.34 L59.5,242.29 L60.0,242.25 L60.5,242.21 L61.0,242.17 L61.5,242.13 L62.0,242.09 L62.5,242.05 L63.0,242.00 L63.5,241.96 L64.0,241.92 L64.5,241.88 L65.0,241.84 L65.5,241.79 L66.0,241.75 L66.5,241.71 L67.0,241.67 L67.5,241.62 L68.0,241.58 L68.5,241.54 L69.0,241.49 L69.5,241.45 L70.0,241.41 L70.5,241.36 L71.0,241.32 L71.5,241.27 L72.0,241.23 L72.5,241.18 L73.0,241.14 L73.5,241.09 L74.0,241.05 L74.5,241.00 L75.0,240.95 L75.5,240.91 L76.0,240.86 L76.5,240.81 L77.0,240.76 L77.5,240.71 L78.0,240.66 L78.5,240.62 L79.0,240.57 L79.5,240.52 L80.0,240.47 L80.5,240.41 L81.0,240.36 L81.5,240.31 L82.0,240.26 L82.5,240.21 L83.0,240.15 L83.5,240.10 L84.0,240.05 L84.5,239.99 L85.0,239.94 L85.5,239.88 L86.0,239.83 L86.5,239.77 L87.0,239.71 L87.5,239.65 L88.0,239.60 L88.5,239.54 L89.0,239.48 L89.5,239.42 L90.0,239.36 L90.5,239.30 L91.0,239.24 L91.5,239.18 L92.0,239.12 L92.5,239.06 L93.0,239.00 L93.5,238.93 L94.0,238.87 L94.5,238.81 L95.0,238.75 L95.5,238.68 L96.0,238.62 L96.5,238.55 L97.0,238.49 L97.5,238.43 L98.0,238.36 L98.5,238.30 L99.0,238.23 L99.5,238.17 L100.0,238.10 L100.5,238.04 L101.0,237.97 L101.5,237.91 L102.0,237.84 L102.5,237.77 L103.0,237.71 L103.5,237.64 L104.0,237.58 L104.5,237.51 L105.0,237.44 L105.5,237.38 L106.0,237.31 L106.5,237.25 L107.0,237.18 L107.5,237.11 L108.0,237.05 L108.5,236.98 L109.0,236.91 L109.5,236.85 L110.0,236.78 L110.5,236.72 L111.0,236.65 L111.5,236.58 L112.0,236.52 L112.5,236.45 L113.0,236.39 L113.5,236.32 L114.0,236.26 L114.5,236.19 L115.0,236.13 L115.5,236.06 L116.0,236.00 L116.5,235.94 L117.0,235.87 L117.5,235.81 L118.0,235.75 L118.5,235.68 L119.0,235.62 L119.5,235.56 L120.0,235.50 L120.5,235.43 L121.0,235.37 L121.5,235.31 L122.0,235.25 L122.5,235.19 L123.0,235.13 L123.5,235.07 L124.0,235.01 L124.5,234.95 L125.0,234.89 L125.5,234.84 L126.0,234.78 L126.5,234.72 L127.0,234.67 L127.5,234.61 L128.0,234.55 L128.5,234.50 L129.0,234.44 L129.5,234.39 L130.0,234.34 L130.5,234.28 L131.0,234.23 L131.5,234.18 L132.0,234.13 L132.5,234.08 L133.0,234.03 L133.5,233.98 L134.0,233.93 L134.5,233.88 L135.0,233.83 L135.5,233.78 L136.0,233.74 L136.5,233.69 L137.0,233.65 L137.5,233.60 L138.0,233.56 L138.5,233.51 L139.0,233.47 L139.5,233.43 L140.0,233.39 L140.5,233.35 L141.0,233.31 L141.5,233.27 L142.0,233.23 L142.5,233.19 L143.0,233.16 L143.5,233.12 L144.0,233.08 L144.5,233.05 L145.0,233.01 L145.5,232.98 L146.0,232.95 L146.5,232.92 L147.0,232.89 L147.5,232.86 L148.0,232.83 L148.5,232.80 L149.0,232.77 L149.5,232.74 L150.0,232.72 L150.5,232.69 L151.0,232.67 L151.5,232.65 L152.0,232.62 L152.5,232.60 L153.0,232.58 L153.5,232.56 L154.0,232.54 L154.5,232.53 L155.0,232.51 L155.5,232.49 L156.0,232.48 L156.5,232.46 L157.0,232.45 L157.5,232.44 L158.0,232.43 L158.5,232.42 L159.0,232.41 L159.5,232.40 L160.0,232.39 L160.5,232.39 L161.0,232.38 L161.5,232.38 L162.0,232.38 L162.5,232.37 L163.0,232.37 L163.5,232.37 L164.0,232.38 L164.5,232.38 L165.0,232.38 L165.5,232.39 L166.0,232.39 L166.5,232.40 L167.0,232.41 L167.5,232.42 L168.0,232.43 L168.5,232.44 L169.0,232.45 L169.5,232.46 L170.0,232.47 L170.5,232.49 L171.0,232.50 L171.5,232.52 L172.0,232.54 L172.5,232.55 L173.0,232.57 L173.5,232.59 L174.0,232.61 L174.5,232.63 L175.0,232.65 L175.5,232.67 L176.0,232.69 L176.5,232.71 L177.0,232.73 L177.5,232.75 L178.0,232.78 L178.5,232.80 L179.0,232.82 L179.5,232.85 L180.0,232.87 L180.5,232.89 L181.0,232.92 L181.5,232.94 L182.0,232.97 L182.5,232.99 L183.0,233.01 L183.5,233.04 L184.0,233.06 L184.5,233.09 L185.0,233.11 L185.5,233.13 L186.0,233.16 L186.5,233.18 L187.0,233.21 L187.5,233.23 L188.0,233.25 L188.5,233.27 L189.0,233.30 L189.5,233.32 L190.0,233.34 L190.5,233.36 L191.0,233.38 L191.5,233.40 L192.0,233.42 L192.5,233.44 L193.0,233.46 L193.5,233.47 L194.0,233.49 L194.5,233.51 L195.0,233.52 L195.5,233.54 L196.0,233.55 L196.5,233.56 L197.0,233.58 L197.5,233.59 L198.0,233.60 L198.5,233.61 L199.0,233.61 L199.5,233.62 L200.0,233.63 L200.5,233.63 L201.0,233.64 L201.5,233.64 L202.0,233.64 L202.5,233.64 L203.0,233.64 L203.5,233.64 L204.0,233.64 L204.5,233.63 L205.0,233.63 L205.5,233.62 L206.0,233.61 L206.5,233.60 L207.0,233.59 L207.5,233.58 L208.0,233.57 L208.5,233.55 L209.0,233.53 L209.5,233.52 L210.0,233.50 L210.5,233.48 L211.0,233.46 L211.5,233.43 L212.0,233.41 L212.5,233.38 L213.0,233.36 L213.5,233.33 L214.0,233.30 L214.5,233.27 L215.0,233.24 L215.5,233.21 L216.0,233.17 L216.5,233.14 L217.0,233.10 L217.5,233.06 L218.0,233.02 L218.5,232.99 L219.0,232.94 L219.5,232.90 L220.0,232.86 L220.5,232.82 L221.0,232.77 L221.5,232.72 L222.0,232.68 L222.5,232.63 L223.0,232.58 L223.5,232.53 L224.0,232.48 L224.5,232.42 L225.0,232.37 L225.5,232.32 L226.0,232.26 L226.5,232.20 L227.0,232.15 L227.5,232.09 L228.0,232.03 L228.5,231.97 L229.0,231.91 L229.5,231.85 L230.0,231.78 L230.5,231.72 L231.0,231.65 L231.5,231.59 L232.0,231.52 L232.5,231.45 L233.0,231.38 L233.5,231.31 L234.0,231.24 L234.5,231.17 L235.0,231.10 L235.5,231.03 L236.0,230.96 L236.5,230.88 L237.0,230.81 L237.5,230.73 L238.0,230.65 L238.5,230.58 L239.0,230.50 L239.5,230.42 L240.0,230.34 L240.5,230.26 L241.0,230.18 L241.5,230.10 L242.0,230.01 L242.5,229.93 L243.0,229.85 L243.5,229.76 L244.0,229.68 L244.5,229.59 L245.0,229.51 L245.5,229.42 L246.0,229.33 L246.5,229.24 L247.0,229.15 L247.5,229.06 L248.0,228.97 L248.5,228.88 L249.0,228.79 L249.5,228.70 L250.0,228.60 L250.5,228.51 L251.0,228.41 L251.5,228.31 L252.0,228.21 L252.5,228.11 L253.0,228.01 L253.5,227.91 L254.0,227.81 L254.5,227.70 L255.0,227.60 L255.5,227.49 L256.0,227.38 L256.5,227.27 L257.0,227.16 L257.5,227.05 L258.0,226.93 L258.5,226.81 L259.0,226.70 L259.5,226.58 L260.0,226.46 L260.5,226.33 L261.0,226.21 L261.5,226.08 L262.0,225.95 L262.5,225.82 L263.0,225.69 L263.5,225.56 L264.0,225.42 L264.5,225.28 L265.0,225.14 L265.5,225.00 L266.0,224.85 L266.5,224.71 L267.0,224.56 L267.5,224.41 L268.0,224.25 L268.5,224.10 L269.0,223.94 L269.5,223.78 L270.0,223.62 L270.5,223.45 L271.0,223.28 L271.5,223.11 L272.0,222.94 L272.5,222.76 L273.0,222.59 L273.5,222.41 L274.0,222.22 L274.5,222.04 L275.0,221.85 L275.5,221.65 L276.0,221.46 L276.5,221.26 L277.0,221.06 L277.5,220.86 L278.0,220.65 L278.5,220.45 L279.0,220.24 L279.5,220.02 L280.0,219.81 L280.5,219.59 L281.0,219.38 L281.5,219.16 L282.0,218.93 L282.5,218.71 L283.0,218.49 L283.5,218.26 L284.0,218.03 L284.5,217.80 L285.0,217.57 L285.5,217.34 L286.0,217.10 L286.5,216.87 L287.0,216.63 L287.5,216.40 L288.0,216.16 L288.5,215.92 L289.0,215.68 L289.5,215.44 L290.0,215.20 L290.5,214.96 L291.0,214.72 L291.5,214.48 L292.0,214.24 L292.5,214.00 L293.0,213.76 L293.5,213.51 L294.0,213.27 L294.5,213.03 L295.0,212.79 L295.5,212.55 L296.0,212.31 L296.5,212.07 L297.0,211.83 L297.5,211.59 L298.0,211.35 L298.5,211.11 L299.0,210.88 L299.5,210.64 L300.0,210.41 L300.5,210.17 L301.0,209.94 L301.5,209.71 L302.0,209.47 L302.5,209.24 L303.0,209.01 L303.5,208.78 L304.0,208.54 L304.5,208.31 L305.0,208.07 L305.5,207.83 L306.0,207.59 L306.5,207.35 L307.0,207.11 L307.5,206.86 L308.0,206.61 L308.5,206.35 L309.0,206.10 L309.5,205.83 L310.0,205.57 L310.5,205.30 L311.0,205.02 L311.5,204.74 L312.0,204.46 L312.5,204.17 L313.0,203.87 L313.5,203.57 L314.0,203.26 L314.5,202.94 L315.0,202.62 L315.5,202.29 L316.0,201.95 L316.5,201.61 L317.0,201.27 L317.5,200.93 L318.0,200.60 L318.5,200.27 L319.0,199.95 L319.5,199.63 L320.0,199.31 L320.5,198.99 L321.0,198.63 L321.5,198.25 L322.0,197.82 L322.5,197.34 L323.0,196.81 L323.5,196.23 L324.0,195.61 L324.5,194.94 L325.0,194.22 L325.5,193.46 L326.0,192.63 L326.5,191.73 L327.0,190.74 L327.5,189.68 L328.0,188.56 L328.5,187.46 L329.0,186.41 L329.5,185.47 L330.0,184.67 L330.5,183.98 L331.0,183.33 L331.5,182.68 L332.0,181.97 L332.5,181.17 L333.0,180.39 L333.5,179.75 L334.0,179.39 L334.5,179.42 L335.0,179.95 L335.5,180.86 L336.0,182.02 L336.5,183.30 L337.0,184.56 L337.5,185.67 L338.0,186.65 L338.5,187.51 L339.0,188.26 L339.5,188.94 L340.0,189.57 L340.5,190.14 L341.0,190.66 L341.5,191.14 L342.0,191.58 L342.5,191.98 L343.0,192.34 L343.5,192.67 L344.0,192.97 L344.5,193.24 L345.0,193.49 L345.5,193.72 L346.0,193.93 L346.5,194.13 L347.0,194.31 L347.5,194.47 L348.0,194.62 L348.5,194.77 L349.0,194.90 L349.5,195.03 L350.0,195.15 L350.5,195.27 L351.0,195.38 L351.5,195.49 L352.0,195.60 L352.5,195.70 L353.0,195.80 L353.5,195.90 L354.0,196.00 L354.5,196.10 L355.0,196.20 L355.5,196.30 L356.0,196.41 L356.5,196.52 L357.0,196.63 L357.5,196.74 L358.0,196.86 L358.5,196.98 L359.0,197.12 L359.5,197.25 L360.0,197.40 L360.5,197.55 L361.0,197.71 L361.5,197.88 L362.0,198.05 L362.5,198.23 L363.0,198.42 L363.5,198.61 L364.0,198.81 L364.5,199.01 L365.0,199.22 L365.5,199.43 L366.0,199.65 L366.5,199.86 L367.0,200.09 L367.5,200.31 L368.0,200.53 L368.5,200.76 L369.0,200.99 L369.5,201.22 L370.0,201.45 L370.5,201.67 L371.0,201.90 L371.5,202.13 L372.0,202.36 L372.5,202.58 L373.0,202.81 L373.5,203.03 L374.0,203.24 L374.5,203.46 L375.0,203.67 L375.5,203.88 L376.0,204.08 L376.5,204.28 L377.0,204.47 L377.5,204.67 L378.0,204.86 L378.5,205.05 L379.0,205.23 L379.5,205.42 L380.0,205.60 L380.5,205.78 L381.0,205.96 L381.5,206.14 L382.0,206.32 L382.5,206.50 L383.0,206.68 L383.5,206.86 L384.0,207.04 L384.5,207.22 L385.0,207.40 L385.5,207.59 L386.0,207.77 L386.5,207.96 L387.0,208.15 L387.5,208.34 L388.0,208.53 L388.5,208.73 L389.0,208.93 L389.5,209.13 L390.0,209.33 L390.5,209.53 L391.0,209.73 L391.5,209.92 L392.0,210.11 L392.5,210.29 L393.0,210.47 L393.5,210.64 L394.0,210.80 L394.5,210.95 L395.0,211.09 L395.5,211.21 L396.0,211.33 L396.5,211.43 L397.0,211.51 L397.5,211.58 L398.0,211.64 L398.5,211.68 L399.0,211.71 L399.5,211.72 L400.0,211.72 L400.5,211.71 L401.0,211.67 L401.5,211.63 L402.0,211.57 L402.5,211.50 L403.0,211.43 L403.5,211.35 L404.0,211.27 L404.5,211.19 L405.0,211.12 L405.5,211.04 L406.0,210.98 L406.5,210.93 L407.0,210.90 L407.5,210.88 L408.0,210.89 L408.5,210.92 L409.0,210.99 L409.5,211.09 L410.0,211.23 L410.5,211.41 L411.0,211.64 L411.5,211.91 L412.0,212.24 L412.5,212.60 L413.0,212.99 L413.5,213.40 L414.0,213.83 L414.5,214.27 L415.0,214.71 L415.5,215.15 L416.0,215.58 L416.5,215.99 L417.0,216.38 L417.5,216.75 L418.0,217.11 L418.5,217.45 L419.0,217.78 L419.5,218.10 L420.0,218.39 L420.5,218.68 L421.0,218.95 L421.5,219.21 L422.0,219.46 L422.5,219.69 L423.0,219.92 L423.5,220.14 L424.0,220.34 L424.5,220.54 L425.0,220.73 L425.5,220.91 L426.0,221.08 L426.5,221.25 L427.0,221.41 L427.5,221.56 L428.0,221.71 L428.5,221.86 L429.0,222.00 L429.5,222.14 L430.0,222.27 L430.5,222.41 L431.0,222.54 L431.5,222.67 L432.0,222.79 L432.5,222.92 L433.0,223.04 L433.5,223.16 L434.0,223.28 L434.5,223.40 L435.0,223.52 L435.5,223.63 L436.0,223.75 L436.5,223.86 L437.0,223.97 L437.5,224.08 L438.0,224.18 L438.5,224.29 L439.0,224.40 L439.5,224.50 L440.0,224.60 L440.5,224.70 L441.0,224.81 L441.5,224.90 L442.0,225.00 L442.5,225.10 L443.0,225.20 L443.5,225.30 L444.0,225.39 L444.5,225.49 L445.0,225.58 L445.5,225.68 L446.0,225.77 L446.5,225.86 L447.0,225.96 L447.5,226.05 L448.0,226.14 L448.5,226.23 L449.0,226.33 L449.5,226.42 L450.0,226.51 L450.5,226.60 L451.0,226.69 L451.5,226.79 L452.0,226.88 L452.5,226.97 L453.0,227.06 L453.5,227.16 L454.0,227.25 L454.5,227.34 L455.0,227.43 L455.5,227.53 L456.0,227.62 L456.5,227.71 L457.0,227.80 L457.5,227.89 L458.0,227.99 L458.5,228.08 L459.0,228.17 L459.5,228.26 L460.0,228.35 L460.5,228.45 L461.0,228.54 L461.5,228.63 L462.0,228.72 L462.5,228.81 L463.0,228.90 L463.5,228.99 L464.0,229.09 L464.5,229.18 L465.0,229.27 L465.5,229.36 L466.0,229.45 L466.5,229.54 L467.0,229.63 L467.5,229.72 L468.0,229.81 L468.5,229.90 L469.0,229.99 L469.5,230.08 L470.0,230.17 L470.5,230.25 L471.0,230.34 L471.5,230.43 L472.0,230.52 L472.5,230.61 L473.0,230.69 L473.5,230.78 L474.0,230.87 L474.5,230.95 L475.0,231.04 L475.5,231.13 L476.0,231.21 L476.5,231.30 L477.0,231.38 L477.5,231.46 L478.0,231.55 L478.5,231.63 L479.0,231.71 L479.5,231.80 L480.0,231.88 L480.5,231.96 L481.0,232.04 L481.5,232.12 L482.0,232.20 L482.5,232.28 L483.0,232.35 L483.5,232.43 L484.0,232.51 L484.5,232.58 L485.0,232.66 L485.5,232.73 L486.0,232.81 L486.5,232.88 L487.0,232.95 L487.5,233.02 L488.0,233.09 L488.5,233.16 L489.0,233.22 L489.5,233.29 L490.0,233.35 L490.5,233.41 L491.0,233.46 L491.5,233.52 L492.0,233.57 L492.5,233.61 L493.0,233.65 L493.5,233.69 L494.0,233.73 L494.5,233.76 L495.0,233.78 L495.5,233.80 L496.0,233.82 L496.5,233.83 L497.0,233.84 L497.5,233.84 L498.0,233.84 L498.5,233.83 L499.0,233.83 L499.5,233.82 L500.0,233.82 L500.5,233.81 L501.0,233.81 L501.5,233.81 L502.0,233.81 L502.5,233.81 L503.0,233.82 L503.5,233.83 L504.0,233.85 L504.5,233.88 L505.0,233.91 L505.5,233.95 L506.0,234.00 L506.5,234.05 L507.0,234.12 L507.5,234.20 L508.0,234.29 L508.5,234.39 L509.0,234.50 L509.5,234.62 L510.0,234.75 L510.5,234.89 L511.0,235.03 L511.5,235.17 L512.0,235.31 L512.5,235.46 L513.0,235.60 L513.5,235.74 L514.0,235.88 L514.5,236.01 L515.0,236.15 L515.5,236.28 L516.0,236.40 L516.5,236.53 L517.0,236.65 L517.5,236.77 L518.0,236.89 L518.5,237.00 L519.0,237.12 L519.5,237.23 L520.0,237.34 L520.5,237.44 L521.0,237.55 L521.5,237.65 L522.0,237.75 L522.5,237.85 L523.0,237.95 L523.5,238.04 L524.0,238.13 L524.5,238.22 L525.0,238.31 L525.5,238.40 L526.0,238.49 L526.5,238.57 L527.0,238.65 L527.5,238.73 L528.0,238.81 L528.5,238.89 L529.0,238.97 L529.5,239.05 L530.0,239.12 L530.5,239.19 L531.0,239.26 L531.5,239.34 L532.0,239.40 L532.5,239.47 L533.0,239.54 L533.5,239.61 L534.0,239.67 L534.5,239.74 L535.0,239.80 L535.5,239.86 L536.0,239.93 L536.5,239.99 L537.0,240.05 L537.5,240.11 L538.0,240.17 L538.5,240.23 L539.0,240.29 L539.5,240.35 L540.0,240.40 L540.5,240.46 L541.0,240.52 L541.5,240.58 L542.0,240.63 L542.5,240.69 L543.0,240.75 L543.5,240.80 L544.0,240.86 L544.5,240.91 L545.0,240.97 L545.5,241.02 L546.0,241.08 L546.5,241.13 L547.0,241.18 L547.5,241.23 L548.0,241.29 L548.5,241.34 L549.0,241.39 L549.5,241.44 L550.0,241.49 L550.5,241.55 L551.0,241.60 L551.5,241.65 L552.0,241.70 L552.5,241.74 L553.0,241.79 L553.5,241.84 L554.0,241.89 L554.5,241.94 L555.0,241.99 L555.5,242.03 L556.0,242.08 L556.5,242.13 L557.0,242.17 L557.5,242.22 L558.0,242.26 L558.5,242.31 L559.0,242.35 L559.5,242.40 L560.0,242.44 L560.5,242.49 L561.0,242.53 L561.5,242.57 L562.0,242.61 L562.5,242.66 L563.0,242.70 L563.5,242.74 L564.0,242.78 L564.5,242.82 L565.0,242.86 L565.5,242.90 L566.0,242.94 L566.5,242.98 L567.0,243.02 L567.5,243.06 L568.0,243.10 L568.5,243.13 L569.0,243.17 L569.5,243.21 L570.0,243.24 L570.5,243.28 L571.0,243.31 L571.5,243.35 L572.0,243.38 L572.5,243.42 L573.0,243.45 L573.5,243.49 L574.0,243.52 L574.5,243.55 L575.0,243.59 L575.5,243.62 L576.0,243.65 L576.5,243.68 L577.0,243.71 L577.5,243.74 L578.0,243.77 L578.5,243.80 L579.0,243.83 L579.5,243.86 L580.0,243.89 L580.5,243.92 L581.0,243.94 L581.5,243.97 L582.0,244.00 L582.5,244.03 L583.0,244.05 L583.5,244.08 L584.0,244.10 L584.5,244.13 L585.0,244.15 L585.5,244.18 L586.0,244.20 L586.5,244.23 L587.0,244.25 L587.5,244.27 L588.0,244.29 L588.5,244.32 L589.0,244.34 L589.5,244.36 L590.0,244.38 L590.5,244.41 L591.0,244.43 L591.5,244.45 L592.0,244.47 L592.5,244.49 L593.0,244.51 L593.5,244.53 L594.0,244.55 L594.5,244.57 L595.0,244.59 L595.5,244.61 L596.0,244.63 L596.5,244.65 L597.0,244.67 L597.5,244.69 L598.0,244.71 L598.5,244.73 L599.0,244.75 L599.5,244.76 L600.0,244.78 L600.5,244.80 L601.0,244.82 L601.5,244.84 L602.0,244.86 L602.5,244.88 L603.0,244.89 L603.5,244.91 L604.0,244.93 L604.5,244.95 L605.0,244.97 L605.5,244.99 L606.0,245.00 L606.5,245.02 L607.0,245.04 L607.5,245.06 L608.0,245.08 L608.5,245.10 L609.0,245.11 L609.5,245.13 L610.0,245.15 L610.5,245.17 L611.0,245.19 L611.5,245.21 L612.0,245.23 L612.5,245.25 L613.0,245.27 L613.5,245.28 L614.0,245.30 L614.5,245.32 L615.0,245.34 L615.5,245.36 L616.0,245.38 L616.5,245.40 L617.0,245.43 L617.5,245.45 L618.0,245.47 L618.5,245.49 L619.0,245.51 L619.5,245.53 L620.0,245.55 L620.5,245.58 L621.0,245.60 L621.5,245.62 L622.0,245.64 L622.5,245.67 L623.0,245.69 L623.5,245.71 L624.0,245.74 L624.5,245.76 L625.0,245.79 L625.5,245.81 L626.0,245.84 L626.5,245.86 L627.0,245.89 L627.5,245.92 L628.0,245.94 L628.5,245.97 L629.0,246.00 L629.5,246.03 L630.0,246.05 L630.5,246.08 L631.0,246.11 L631.5,246.14 L631.9,246.17" stroke="#800080"/>
<path d="M44.0,313.08 L44.5,313.02 L45.0,312.96 L45.5,312.91 L46.0,312.85 L46.5,312.80 L47.0,312.74 L47.5,312.69 L48.0,312.63 L48.5,312.58 L49.0,312.53 L49.5,312.48 L50.0,312.42 L50.5,312.37 L51.0,312.32 L51.5,312.27 L52.0,312.22 L52.5,312.17 L53.0,312.12 L53.5,312.06 L54.0,312.01 L54.5,311.96 L55.0,311.92 L55.5,311.87 L56.0,311.82 L56.5,311.77 L57.0,311.72 L57.5,311.67 L58.0,311.62 L58.5,311.57 L59.0,311.52 L59.5,311.48 L60.0,311.43 L60.5,311.38 L61.0,311.33 L61.5,311.28 L62.0,311.24 L62.5,311.19 L63.0,311.14 L63.5,311.09 L64.0,311.05 L64.5,311.00 L65.0,310.95 L65.5,310.90 L66.0,310.86 L66.5,310.81 L67.0,310.76 L67.5,310.71 L68.0,310.66 L68.5,310.62 L69.0,310.57 L69.5,310.52 L70.0,310.47 L70.5,310.42 L71.0,310.37 L71.5,310.33 L72.0,310.28 L72.5,310.23 L73.0,310.18 L73.5,310.13 L74.0,310.08 L74.5,310.03 L75.0,309.98 L75.5,309.93 L76.0,309.88 L76.5,309.82 L77.0,309.77 L77.5,309.72 L78.0,309.67 L78.5,309.62 L79.0,309.56 L79.5,309.51 L80.0,309.46 L80.5,309.40 L81.0,309.35 L81.5,309.30 L82.0,309.24 L82.5,309.18 L83.0,309.13 L83.5,309.07 L84.0,309.02 L84.5,308.96 L85.0,308.90 L85.5,308.84 L86.0,308.78 L86.5,308.72 L87.0,308.67 L87.5,308.61 L88.0,308.54 L88.5,308.48 L89.0,308.42 L89.5,308.36 L90.0,308.30 L90.5,308.24 L91.0,308.17 L91.5,308.11 L92.0,308.05 L92.5,307.98 L93.0,307.92 L93.5,307.86 L94.0,307.79 L94.5,307.73 L95.0,307.66 L95.5,307.60 L96.0,307.53 L96.5,307.46 L97.0,307.40 L97.5,307.33 L98.0,307.27 L98.5,307.20 L99.0,307.13 L99.5,307.07 L100.0,307.00 L100.5,306.93 L101.0,306.87 L101.5,306.80 L102.0,306.73 L102.5,306.67 L103.0,306.60 L103.5,306.53 L104.0,306.47 L104.5,306.40 L105.0,306.33 L105.5,306.27 L106.0,306.20 L106.5,306.13 L107.0,306.07 L107.5,306.00 L108.0,305.93 L108.5,305.87 L109.0,305.80 L109.5,305.74 L110.0,305.67 L110.5,305.61 L111.0,305.54 L111.5,305.48 L112.0,305.41 L112.5,305.35 L113.0,305.28 L113.5,305.22 L114.0,305.16 L114.5,305.09 L115.0,305.03 L115.5,304.97 L116.0,304.90 L116.5,304.84 L117.0,304.78 L117.5,304.72 L118.0,304.66 L118.5,304.60 L119.0,304.54 L119.5,304.48 L120.0,304.42 L120.5,304.36 L121.0,304.30 L121.5,304.24 L122.0,304.19 L122.5,304.13 L123.0,304.07 L123.5,304.02 L124.0,303.96 L124.5,303.91 L125.0,303.86 L125.5,303.80 L126.0,303.75 L126.5,303.70 L127.0,303.65 L127.5,303.59 L128.0,303.54 L128.5,303.50 L129.0,303.45 L129.5,303.40 L130.0,303.35 L130.5,303.30 L131.0,303.26 L131.5,303.21 L132.0,303.17 L132.5,303.12 L133.0,303.08 L133.5,303.04 L134.0,302.99 L134.5,302.95 L135.0,302.91 L135.5,302.87 L136.0,302.83 L136.5,302.79 L137.0,302.76 L137.5,302.72 L138.0,302.68 L138.5,302.65 L139.0,302.61 L139.5,302.58 L140.0,302.54 L140.5,302.51 L141.0,302.48 L141.5,302.45 L142.0,302.42 L142.5,302.39 L143.0,302.36 L143.5,302.33 L144.0,302.31 L144.5,302.28 L145.0,302.25 L145.5,302.23 L146.0,302.21 L146.5,302.18 L147.0,302.16 L147.5,302.14 L148.0,302.12 L148.5,302.10 L149.0,302.08 L149.5,302.06 L150.0,302.05 L150.5,302.03 L151.0,302.02 L151.5,302.00 L152.0,301.99 L152.5,301.98 L153.0,301.96 L153.5,301.95 L154.0,301.94 L154.5,301.94 L155.0,301.93 L155.5,301.92 L156.0,301.92 L156.5,301.91 L157.0,301.91 L157.5,301.90 L158.0,301.90 L158.5,301.90 L159.0,301.90 L159.5,301.90 L160.0,301.90 L160.5,301.91 L161.0,301.91 L161.5,301.91 L162.0,301.92 L162.5,301.93 L163.0,301.93 L163.5,301.94 L164.0,301.95 L164.5,301.96 L165.0,301.98 L165.5,301.99 L166.0,302.00 L166.5,302.02 L167.0,302.04 L167.5,302.05 L168.0,302.07 L168.5,302.09 L169.0,302.11 L169.5,302.13 L170.0,302.15 L170.5,302.17 L171.0,302.19 L171.5,302.22 L172.0,302.24 L172.5,302.27 L173.0,302.29 L173.5,302.32 L174.0,302.34 L174.5,302.37 L175.0,302.40 L175.5,302.42 L176.0,302.45 L176.5,302.48 L177.0,302.51 L177.5,302.54 L178.0,302.57 L178.5,302.60 L179.0,302.63 L179.5,302.66 L180.0,302.69 L180.5,302.72 L181.0,302.75 L181.5,302.78 L182.0,302.81 L182.5,302.84 L183.0,302.87 L183.5,302.90 L184.0,302.93 L184.5,302.96 L185.0,302.99 L185.5,303.02 L186.0,303.05 L186.5,303.08 L187.0,303.11 L187.5,303.14 L188.0,303.16 L188.5,303.19 L189.0,303.22 L189.5,303.25 L190.0,303.27 L190.5,303.30 L191.0,303.32 L191.5,303.35 L192.0,303.37 L192.5,303.40 L193.0,303.42 L193.5,303.44 L194.0,303.46 L194.5,303.48 L195.0,303.50 L195.5,303.52 L196.0,303.54 L196.5,303.56 L197.0,303.58 L197.5,303.59 L198.0,303.61 L198.5,303.62 L199.0,303.63 L199.5,303.65 L200.0,303.66 L200.5,303.67 L201.0,303.67 L201.5,303.68 L202.0,303.69 L202.5,303.69 L203.0,303.69 L203.5,303.70 L204.0,303.70 L204.5,303.70 L205.0,303.70 L205.5,303.69 L206.0,303.69 L206.5,303.68 L207.0,303.67 L207.5,303.66 L208.0,303.65 L208.5,303.64 L209.0,303.63 L209.5,303.61 L210.0,303.60 L210.5,303.58 L211.0,303.56 L211.5,303.54 L212.0,303.52 L212.5,303.50 L213.0,303.47 L213.5,303.45 L214.0,303.42 L214.5,303.39 L215.0,303.36 L215.5,303.33 L216.0,303.30 L216.5,303.27 L217.0,303.24 L217.5,303.20 L218.0,303.16 L218.5,303.13 L219.0,303.09 L219.5,303.05 L220.0,303.01 L220.5,302.96 L221.0,302.92 L221.5,302.87 L222.0,302.83 L222.5,302.78 L223.0,302.73 L223.5,302.68 L224.0,302.63 L224.5,302.58 L225.0,302.53 L225.5,302.47 L226.0,302.42 L226.5,302.36 L227.0,302.31 L227.5,302.25 L228.0,302.19 L228.5,302.13 L229.0,302.07 L229.5,302.00 L230.0,301.94 L230.5,301.88 L231.0,301.81 L231.5,301.75 L232.0,301.68 L232.5,301.61 L233.0,301.54 L233.5,301.47 L234.0,301.40 L234.5,301.33 L235.0,301.25 L235.5,301.18 L236.0,301.10 L236.5,301.03 L237.0,300.95 L237.5,300.87 L238.0,300.80 L238.5,300.72 L239.0,300.64 L239.5,300.56 L240.0,300.47 L240.5,300.39 L241.0,300.31 L241.5,300.22 L242.0,300.14 L242.5,300.05 L243.0,299.96 L243.5,299.88 L244.0,299.79 L244.5,299.70 L245.0,299.61 L245.5,299.52 L246.0,299.43 L246.5,299.33 L247.0,299.24 L247.5,299.15 L248.0,299.05 L248.5,298.96 L249.0,298.86 L249.5,298.76 L250.0,298.66 L250.5,298.56 L251.0,298.46 L251.5,298.36 L252.0,298.26 L252.5,298.15 L253.0,298.05 L253.5,297.94 L254.0,297.83 L254.5,297.72 L255.0,297.61 L255.5,297.50 L256.0,297.38 L256.5,297.27 L257.0,297.15 L257.5,297.03 L258.0,296.91 L258.5,296.79 L259.0,296.67 L259.5,296.55 L260.0,296.42 L260.5,296.29 L261.0,296.16 L261.5,296.03 L262.0,295.90 L262.5,295.76 L263.0,295.63 L263.5,295.49 L264.0,295.35 L264.5,295.21 L265.0,295.06 L265.5,294.92 L266.0,294.77 L266.5,294.62 L267.0,294.46 L267.5,294.31 L268.0,294.15 L268.5,293.99 L269.0,293.83 L269.5,293.67 L270.0,293.50 L270.5,293.34 L271.0,293.17 L271.5,292.99 L272.0,292.82 L272.5,292.64 L273.0,292.46 L273.5,292.28 L274.0,292.09 L274.5,291.91 L275.0,291.72 L275.5,291.52 L276.0,291.33 L276.5,291.13 L277.0,290.93 L277.5,290.73 L278.0,290.52 L278.5,290.32 L279.0,290.11 L279.5,289.90 L280.0,289.68 L280.5,289.47 L281.0,289.25 L281.5,289.03 L282.0,288.81 L282.5,288.59 L283.0,288.37 L283.5,288.14 L284.0,287.91 L284.5,287.69 L285.0,287.46 L285.5,287.23 L286.0,286.99 L286.5,286.76 L287.0,286.53 L287.5,286.29 L288.0,286.06 L288.5,285.82 L289.0,285.58 L289.5,285.34 L290.0,285.10 L290.5,284.86 L291.0,284.62 L291.5,284.38 L292.0,284.14 L292.5,283.90 L293.0,283.66 L293.5,283.42 L294.0,283.18 L294.5,282.93 L295.0,282.69 L295.5,282.45 L296.0,282.21 L296.5,281.97 L297.0,281.73 L297.5,281.48 L298.0,281.24 L298.5,281.00 L299.0,280.76 L299.5,280.53 L300.0,280.29 L300.5,280.05 L301.0,279.81 L301.5,279.58 L302.0,279.34 L302.5,279.10 L303.0,278.86 L303.5,278.62 L304.0,278.38 L304.5,278.14 L305.0,277.89 L305.5,277.65 L306.0,277.40 L306.5,277.14 L307.0,276.89 L307.5,276.63 L308.0,276.36 L308.5,276.10 L309.0,275.82 L309.5,275.55 L310.0,275.27 L310.5,274.98 L311.0,274.68 L311.5,274.38 L312.0,274.08 L312.5,273.77 L313.0,273.45 L313.5,273.12 L314.0,272.78 L314.5,272.44 L315.0,272.09 L315.5,271.73 L316.0,271.36 L316.5,270.98 L317.0,270.58 L317.5,270.17 L318.0,269.74 L318.5,269.29 L319.0,268.82 L319.5,268.33 L320.0,267.81 L320.5,267.27 L321.0,266.69 L321.5,266.09 L322.0,265.45 L322.5,264.78 L323.0,264.05 L323.5,263.23 L324.0,262.30 L324.5,261.23 L325.0,260.00 L325.5,258.68 L326.0,257.31 L326.5,255.95 L327.0,254.68 L327.5,253.53 L328.0,252.46 L328.5,251.42 L329.0,250.36 L329.5,249.22 L330.0,247.97 L330.5,246.70 L331.0,245.52 L331.5,244.56 L332.0,243.91 L332.5,243.68 L333.0,243.81 L333.5,244.25 L334.0,244.93 L334.5,245.77 L335.0,246.72 L335.5,247.76 L336.0,248.85 L336.5,250.00 L337.0,251.16 L337.5,252.34 L338.0,253.49 L338.5,254.59 L339.0,255.62 L339.5,256.55 L340.0,257.35 L340.5,258.05 L341.0,258.66 L341.5,259.20 L342.0,259.70 L342.5,260.16 L343.0,260.60 L343.5,261.01 L344.0,261.39 L344.5,261.73 L345.0,262.03 L345.5,262.30 L346.0,262.54 L346.5,262.74 L347.0,262.92 L347.5,263.08 L348.0,263.22 L348.5,263.35 L349.0,263.47 L349.5,263.58 L350.0,263.69 L350.5,263.80 L351.0,263.90 L351.5,264.00 L352.0,264.10 L352.5,264.20 L353.0,264.29 L353.5,264.39 L354.0,264.49 L354.5,264.59 L355.0,264.69 L355.5,264.79 L356.0,264.89 L356.5,265.00 L357.0,265.11 L357.5,265.23 L358.0,265.35 L358.5,265.48 L359.0,265.61 L359.5,265.75 L360.0,265.90 L360.5,266.06 L361.0,266.22 L361.5,266.39 L362.0,266.57 L362.5,266.75 L363.0,266.94 L363.5,267.14 L364.0,267.34 L364.5,267.54 L365.0,267.75 L365.5,267.97 L366.0,268.18 L366.5,268.40 L367.0,268.63 L367.5,268.85 L368.0,269.08 L368.5,269.31 L369.0,269.54 L369.5,269.77 L370.0,270.00 L370.5,270.23 L371.0,270.46 L371.5,270.69 L372.0,270.92 L372.5,271.14 L373.0,271.37 L373.5,271.59 L374.0,271.81 L374.5,272.02 L375.0,272.23 L375.5,272.44 L376.0,272.64 L376.5,272.84 L377.0,273.04 L377.5,273.23 L378.0,273.42 L378.5,273.61 L379.0,273.80 L379.5,273.98 L380.0,274.16 L380.5,274.34 L381.0,274.52 L381.5,274.70 L382.0,274.88 L382.5,275.05 L383.0,275.23 L383.5,275.41 L384.0,275.59 L384.5,275.76 L385.0,275.94 L385.5,276.12 L386.0,276.30 L386.5,276.48 L387.0,276.67 L387.5,276.85 L388.0,277.04 L388.5,277.23 L389.0,277.43 L389.5,277.62 L390.0,277.81 L390.5,278.00 L391.0,278.18 L391.5,278.36 L392.0,278.54 L392.5,278.70 L393.0,278.86 L393.5,279.00 L394.0,279.14 L394.5,279.26 L395.0,279.37 L395.5,279.46 L396.0,279.53 L396.5,279.59 L397.0,279.63 L397.5,279.65 L398.0,279.66 L398.5,279.65 L399.0,279.62 L399.5,279.57 L400.0,279.52 L400.5,279.44 L401.0,279.35 L401.5,279.25 L402.0,279.13 L402.5,279.01 L403.0,278.88 L403.5,278.76 L404.0,278.63 L404.5,278.51 L405.0,278.40 L405.5,278.31 L406.0,278.23 L406.5,278.17 L407.0,278.13 L407.5,278.12 L408.0,278.14 L408.5,278.20 L409.0,278.29 L409.5,278.43 L410.0,278.62 L410.5,278.86 L411.0,279.15 L411.5,279.50 L412.0,279.89 L412.5,280.33 L413.0,280.81 L413.5,281.30 L414.0,281.82 L414.5,282.34 L415.0,282.86 L415.5,283.38 L416.0,283.88 L416.5,284.35 L417.0,284.80 L417.5,285.22 L418.0,285.62 L418.5,286.00 L419.0,286.36 L419.5,286.70 L420.0,287.02 L420.5,287.32 L421.0,287.60 L421.5,287.87 L422.0,288.12 L422.5,288.36 L423.0,288.58 L423.5,288.79 L424.0,288.99 L424.5,289.18 L425.0,289.35 L425.5,289.52 L426.0,289.68 L426.5,289.83 L427.0,289.97 L427.5,290.11 L428.0,290.25 L428.5,290.38 L429.0,290.50 L429.5,290.63 L430.0,290.75 L430.5,290.88 L431.0,291.00 L431.5,291.12 L432.0,291.24 L432.5,291.36 L433.0,291.49 L433.5,291.61 L434.0,291.73 L434.5,291.85 L435.0,291.97 L435.5,292.09 L436.0,292.21 L436.5,292.33 L437.0,292.44 L437.5,292.56 L438.0,292.68 L438.5,292.80 L439.0,292.92 L439.5,293.04 L440.0,293.15 L440.5,293.27 L441.0,293.39 L441.5,293.50 L442.0,293.62 L442.5,293.74 L443.0,293.85 L443.5,293.97 L444.0,294.09 L444.5,294.20 L445.0,294.32 L445.5,294.43 L446.0,294.55 L446.5,294.66 L447.0,294.78 L447.5,294.89 L448.0,295.01 L448.5,295.12 L449.0,295.24 L449.5,295.35 L450.0,295.47 L450.5,295.58 L451.0,295.70 L451.5,295.81 L452.0,295.92 L452.5,296.04 L453.0,296.15 L453.5,296.27 L454.0,296.38 L454.5,296.49 L455.0,296.60 L455.5,296.72 L456.0,296.83 L456.5,296.94 L457.0,297.05 L457.5,297.16 L458.0,297.27 L458.5,297.38 L459.0,297.49 L459.5,297.59 L460.0,297.70 L460.5,297.81 L461.0,297.91 L461.5,298.02 L462.0,298.12 L462.5,298.22 L463.0,298.33 L463.5,298.43 L464.0,298.53 L464.5,298.63 L465.0,298.72 L465.5,298.82 L466.0,298.92 L466.5,299.01 L467.0,299.11 L467.5,299.20 L468.0,299.29 L468.5,299.38 L469.0,299.47 L469.5,299.56 L470.0,299.64 L470.5,299.73 L471.0,299.81 L471.5,299.89 L472.0,299.97 L472.5,300.05 L473.0,300.13 L473.5,300.21 L474.0,300.29 L474.5,300.36 L475.0,300.44 L475.5,300.52 L476.0,300.59 L476.5,300.67 L477.0,300.74 L477.5,300.81 L478.0,300.89 L478.5,300.96 L479.0,301.04 L479.5,301.11 L480.0,301.19 L480.5,301.26 L481.0,301.34 L481.5,301.41 L482.0,301.49 L482.5,301.56 L483.0,301.64 L483.5,301.72 L484.0,301.80 L484.5,301.88 L485.0,301.96 L485.5,302.05 L486.0,302.13 L486.5,302.22 L487.0,302.30 L487.5,302.39 L488.0,302.47 L488.5,302.56 L489.0,302.64 L489.5,302.72 L490.0,302.79 L490.5,302.87 L491.0,302.93 L491.5,302.99 L492.0,303.05 L492.5,303.10 L493.0,303.14 L493.5,303.17 L494.0,303.19 L494.5,303.21 L495.0,303.21 L495.5,303.20 L496.0,303.18 L496.5,303.15 L497.0,303.11 L497.5,303.06 L498.0,303.00 L498.5,302.94 L499.0,302.87 L499.5,302.81 L500.0,302.74 L500.5,302.68 L501.0,302.62 L501.5,302.57 L502.0,302.53 L502.5,302.50 L503.0,302.48 L503.5,302.48 L504.0,302.49 L504.5,302.52 L505.0,302.57 L505.5,302.63 L506.0,302.71 L506.5,302.80 L507.0,302.90 L507.5,303.02 L508.0,303.14 L508.5,303.27 L509.0,303.41 L509.5,303.56 L510.0,303.71 L510.5,303.87 L511.0,304.03 L511.5,304.19 L512.0,304.35 L512.5,304.51 L513.0,304.67 L513.5,304.82 L514.0,304.97 L514.5,305.12 L515.0,305.26 L515.5,305.41 L516.0,305.55 L516.5,305.68 L517.0,305.82 L517.5,305.95 L518.0,306.08 L518.5,306.20 L519.0,306.32 L519.5,306.44 L520.0,306.56 L520.5,306.68 L521.0,306.79 L521.5,306.90 L522.0,307.01 L522.5,307.11 L523.0,307.22 L523.5,307.32 L524.0,307.42 L524.5,307.52 L525.0,307.61 L525.5,307.71 L526.0,307.80 L526.5,307.89 L527.0,307.98 L527.5,308.06 L528.0,308.15 L528.5,308.23 L529.0,308.31 L529.5,308.40 L530.0,308.47 L530.5,308.55 L531.0,308.63 L531.5,308.70 L532.0,308.78 L532.5,308.85 L533.0,308.92 L533.5,308.99 L534.0,309.06 L534.5,309.13 L535.0,309.20 L535.5,309.27 L536.0,309.33 L536.5,309.40 L537.0,309.46 L537.5,309.53 L538.0,309.59 L538.5,309.66 L539.0,309.72 L539.5,309.78 L540.0,309.85 L540.5,309.91 L541.0,309.97 L541.5,310.03 L542.0,310.09 L542.5,310.15 L543.0,310.22 L543.5,310.28 L544.0,310.34 L544.5,310.40 L545.0,310.46 L545.5,310.52 L546.0,310.57 L546.5,310.63 L547.0,310.69 L547.5,310.75 L548.0,310.81 L548.5,310.87 L549.0,310.92 L549.5,310.98 L550.0,311.04 L550.5,311.09 L551.0,311.15 L551.5,311.21 L552.0,311.26 L552.5,311.32 L553.0,311.37 L553.5,311.42 L554.0,311.48 L554.5,311.53 L555.0,311.58 L555.5,311.64 L556.0,311.69 L556.5,311.74 L557.0,311.79 L557.5,311.85 L558.0,311.90 L558.5,311.95 L559.0,312.00 L559.5,312.05 L560.0,312.10 L560.5,312.14 L561.0,312.19 L561.5,312.24 L562.0,312.29 L562.5,312.34 L563.0,312.38 L563.5,312.43 L564.0,312.47 L564.5,312.52 L565.0,312.56 L565.5,312.61 L566.0,312.65 L566.5,312.70 L567.0,312.74 L567.5,312.78 L568.0,312.83 L568.5,312.87 L569.0,312.91 L569.5,312.95 L570.0,312.99 L570.5,313.03 L571.0,313.07 L571.5,313.11 L572.0,313.15 L572.5,313.18 L573.0,313.22 L573.5,313.26 L574.0,313.29 L574.5,313.33 L575.0,313.36 L575.5,313.40 L576.0,313.43 L576.5,313.47 L577.0,313.50 L577.5,313.53 L578.0,313.57 L578.5,313.60 L579.0,313.63 L579.5,313.66 L580.0,313.69 L580.5,313.72 L581.0,313.75 L581.5,313.77 L582.0,313.80 L582.5,313.83 L583.0,313.85 L583.5,313.88 L584.0,313.91 L584.5,313.93 L585.0,313.96 L585.5,313.98 L586.0,314.00 L586.5,314.03 L587.0,314.05 L587.5,314.07 L588.0,314.09 L588.5,314.12 L589.0,314.14 L589.5,314.16 L590.0,314.18 L590.5,314.20 L591.0,314.22 L591.5,314.24 L592.0,314.26 L592.5,314.28 L593.0,314.30 L593.5,314.31 L594.0,314.33 L594.5,314.35 L595.0,314.37 L595.5,314.39 L596.0,314.40 L596.5,314.42 L597.0,314.44 L597.5,314.45 L598.0,314.47 L598.5,314.49 L599.0,314.50 L599.5,314.52 L600.0,314.54 L600.5,314.55 L601.0,314.57 L601.5,314.58 L602.0,314.60 L602.5,314.62 L603.0,314.63 L603.5,314.65 L604.0,314.66 L604.5,314.68 L605.0,314.69 L605.5,314.71 L606.0,314.72 L606.5,314.74 L607.0,314.76 L607.5,314.77 L608.0,314.79 L608.5,314.80 L609.0,314.82 L609.5,314.84 L610.0,314.85 L610.5,314.87 L611.0,314.88 L611.5,314.90 L612.0,314.92 L612.5,314.93 L613.0,314.95 L613.5,314.97 L614.0,314.99 L614.5,315.00 L615.0,315.02 L615.5,315.04 L616.0,315.06 L616.5,315.08 L617.0,315.10 L617.5,315.12 L618.0,315.14 L618.5,315.16 L619.0,315.18 L619.5,315.20 L620.0,315.22 L620.5,315.24 L621.0,315.26 L621.5,315.28 L622.0,315.31 L622.5,315.33 L623.0,315.35 L623.5,315.38 L624.0,315.40 L624.5,315.42 L625.0,315.45 L625.5,315.48 L626.0,315.50 L626.5,315.53 L627.0,315.55 L627.5,315.58 L628.0,315.61 L628.5,315.64 L629.0,315.67 L629.5,315.70 L630.0,315.73 L630.5,315.76 L631.0,315.79 L631.5,315.82 L631.9,315.85" stroke="#a29a00"/>
<path d="M44.0,350.28 L44.5,350.25 L45.0,350.21 L45.5,350.18 L46.0,350.15 L46.5,350.11 L47.0,350.08 L47.5,350.04 L48.0,350.01 L48.5,349.97 L49.0,349.94 L49.5,349.90 L50.0,349.86 L50.5,349.83 L51.0,349.79 L51.5,349.76 L52.0,349.72 L52.5,349.68 L53.0,349.64 L53.5,349.61 L54.0,349.57 L54.5,349.53 L55.0,349.49 L55.5,349.46 L56.0,349.42 L56.5,349.38 L57.0,349.34 L57.5,349.30 L58.0,349.27 L58.5,349.23 L59.0,349.19 L59.5,349.15 L60.0,349.11 L60.5,349.07 L61.0,349.03 L61.5,348.99 L62.0,348.95 L62.5,348.91 L63.0,348.87 L63.5,348.83 L64.0,348.79 L64.5,348.75 L65.0,348.71 L65.5,348.67 L66.0,348.63 L66.5,348.59 L67.0,348.55 L67.5,348.51 L68.0,348.47 L68.5,348.42 L69.0,348.38 L69.5,348.34 L70.0,348.30 L70.5,348.26 L71.0,348.22 L71.5,348.17 L72.0,348.13 L72.5,348.09 L73.0,348.05 L73.5,348.01 L74.0,347.97 L74.5,347.92 L75.0,347.88 L75.5,347.84 L76.0,347.80 L76.5,347.75 L77.0,347.71 L77.5,347.67 L78.0,347.63 L78.5,347.58 L79.0,347.54 L79.5,347.50 L80.0,347.46 L80.5,347.41 L81.0,347.37 L81.5,347.33 L82.0,347.28 L82.5,347.24 L83.0,347.20 L83.5,347.16 L84.0,347.11 L84.5,347.07 L85.0,347.03 L85.5,346.98 L86.0,346.94 L86.5,346.90 L87.0,346.86 L87.5,346.81 L88.0,346.77 L88.5,346.73 L89.0,346.68 L89.5,346.64 L90.0,346.60 L90.5,346.56 L91.0,346.51 L91.5,346.47 L92.0,346.43 L92.5,346.38 L93.0,346.34 L93.5,346.30 L94.0,346.26 L94.5,346.21 L95.0,346.17 L95.5,346.13 L96.0,346.08 L96.5,346.04 L97.0,346.00 L97.5,345.96 L98.0,345.91 L98.5,345.87 L99.0,345.83 L99.5,345.79 L100.0,345.75 L100.5,345.70 L101.0,345.66 L101.5,345.62 L102.0,345.58 L102.5,345.54 L103.0,345.49 L103.5,345.45 L104.0,345.41 L104.5,345.37 L105.0,345.33 L105.5,345.29 L106.0,345.24 L106.5,345.20 L107.0,345.16 L107.5,345.12 L108.0,345.08 L108.5,345.04 L109.0,345.00 L109.5,344.96 L110.0,344.92 L110.5,344.88 L111.0,344.84 L111.5,344.80 L112.0,344.76 L112.5,344.72 L113.0,344.68 L113.5,344.64 L114.0,344.60 L114.5,344.56 L115.0,344.52 L115.5,344.48 L116.0,344.44 L116.5,344.40 L117.0,344.36 L117.5,344.32 L118.0,344.29 L118.5,344.25 L119.0,344.21 L119.5,344.17 L120.0,344.13 L120.5,344.10 L121.0,344.06 L121.5,344.02 L122.0,343.98 L122.5,343.95 L123.0,343.91 L123.5,343.87 L124.0,343.84 L124.5,343.80 L125.0,343.77 L125.5,343.73 L126.0,343.69 L126.5,343.66 L127.0,343.62 L127.5,343.59 L128.0,343.55 L128.5,343.52 L129.0,343.48 L129.5,343.45 L130.0,343.42 L130.5,343.38 L131.0,343.35 L131.5,343.32 L132.0,343.28 L132.5,343.25 L133.0,343.22 L133.5,343.19 L134.0,343.16 L134.5,343.12 L135.0,343.09 L135.5,343.06 L136.0,343.03 L136.5,343.00 L137.0,342.97 L137.5,342.95 L138.0,342.92 L138.5,342.89 L139.0,342.86 L139.5,342.84 L140.0,342.81 L140.5,342.78 L141.0,342.76 L141.5,342.73 L142.0,342.71 L142.5,342.68 L143.0,342.66 L143.5,342.64 L144.0,342.61 L144.5,342.59 L145.0,342.57 L145.5,342.55 L146.0,342.53 L146.5,342.51 L147.0,342.49 L147.5,342.47 L148.0,342.45 L148.5,342.44 L149.0,342.42 L149.5,342.40 L150.0,342.39 L150.5,342.37 L151.0,342.36 L151.5,342.34 L152.0,342.33 L152.5,342.32 L153.0,342.31 L153.5,342.30 L154.0,342.29 L154.5,342.28 L155.0,342.27 L155.5,342.26 L156.0,342.25 L156.5,342.25 L157.0,342.24 L157.5,342.24 L158.0,342.23 L158.5,342.23 L159.0,342.23 L159.5,342.23 L160.0,342.23 L160.5,342.23 L161.0,342.23 L161.5,342.23 L162.0,342.23 L162.5,342.24 L163.0,342.24 L163.5,342.25 L164.0,342.25 L164.5,342.26 L165.0,342.27 L165.5,342.28 L166.0,342.29 L166.5,342.30 L167.0,342.31 L167.5,342.32 L168.0,342.33 L168.5,342.35 L169.0,342.36 L169.5,342.38 L170.0,342.39 L170.5,342.41 L171.0,342.43 L171.5,342.45 L172.0,342.46 L172.5,342.48 L173.0,342.50 L173.5,342.52 L174.0,342.54 L174.5,342.56 L175.0,342.59 L175.5,342.61 L176.0,342.63 L176.5,342.65 L177.0,342.67 L177.5,342.70 L178.0,342.72 L178.5,342.74 L179.0,342.77 L179.5,342.79 L180.0,342.81 L180.5,342.84 L181.0,342.86 L181.5,342.88 L182.0,342.91 L182.5,342.93 L183.0,342.95 L183.5,342.98 L184.0,343.00 L184.5,343.02 L185.0,343.05 L185.5,343.07 L186.0,343.09 L186.5,343.11 L187.0,343.14 L187.5,343.16 L188.0,343.18 L188.5,343.20 L189.0,343.22 L189.5,343.24 L190.0,343.26 L190.5,343.28 L191.0,343.30 L191.5,343.32 L192.0,343.33 L192.5,343.35 L193.0,343.37 L193.5,343.38 L194.0,343.40 L194.5,343.41 L195.0,343.42 L195.5,343.44 L196.0,343.45 L196.5,343.46 L197.0,343.47 L197.5,343.48 L198.0,343.49 L198.5,343.49 L199.0,343.50 L199.5,343.51 L200.0,343.51 L200.5,343.51 L201.0,343.52 L201.5,343.52 L202.0,343.52 L202.5,343.51 L203.0,343.51 L203.5,343.51 L204.0,343.50 L204.5,343.50 L205.0,343.49 L205.5,343.48 L206.0,343.47 L206.5,343.46 L207.0,343.44 L207.5,343.43 L208.0,343.41 L208.5,343.40 L209.0,343.38 L209.5,343.36 L210.0,343.34 L210.5,343.32 L211.0,343.29 L211.5,343.27 L212.0,343.24 L212.5,343.21 L213.0,343.19 L213.5,343.16 L214.0,343.13 L214.5,343.09 L215.0,343.06 L215.5,343.03 L216.0,342.99 L216.5,342.95 L217.0,342.92 L217.5,342.88 L218.0,342.84 L218.5,342.80 L219.0,342.75 L219.5,342.71 L220.0,342.67 L220.5,342.62 L221.0,342.57 L221.5,342.53 L222.0,342.48 L222.5,342.43 L223.0,342.38 L223.5,342.32 L224.0,342.27 L224.5,342.22 L225.0,342.16 L225.5,342.11 L226.0,342.05 L226.5,341.99 L227.0,341.93 L227.5,341.87 L228.0,341.81 L228.5,341.75 L229.0,341.69 L229.5,341.62 L230.0,341.56 L230.5,341.49 L231.0,341.43 L231.5,341.36 L232.0,341.29 L232.5,341.22 L233.0,341.15 L233.5,341.08 L234.0,341.01 L234.5,340.94 L235.0,340.87 L235.5,340.79 L236.0,340.72 L236.5,340.64 L237.0,340.57 L237.5,340.49 L238.0,340.41 L238.5,340.33 L239.0,340.25 L239.5,340.17 L240.0,340.09 L240.5,340.01 L241.0,339.93 L241.5,339.85 L242.0,339.76 L242.5,339.68 L243.0,339.59 L243.5,339.51 L244.0,339.42 L244.5,339.33 L245.0,339.25 L245.5,339.16 L246.0,339.07 L246.5,338.98 L247.0,338.89 L247.5,338.80 L248.0,338.71 L248.5,338.61 L249.0,338.52 L249.5,338.43 L250.0,338.33 L250.5,338.23 L251.0,338.14 L251.5,338.04 L252.0,337.94 L252.5,337.84 L253.0,337.74 L253.5,337.63 L254.0,337.53 L254.5,337.42 L255.0,337.32 L255.5,337.21 L256.0,337.10 L256.5,336.99 L257.0,336.88 L257.5,336.76 L258.0,336.65 L258.5,336.53 L259.0,336.41 L259.5,336.29 L260.0,336.17 L260.5,336.05 L261.0,335.93 L261.5,335.80 L262.0,335.67 L262.5,335.54 L263.0,335.41 L263.5,335.28 L264.0,335.14 L264.5,335.00 L265.0,334.87 L265.5,334.72 L266.0,334.58 L266.5,334.44 L267.0,334.29 L267.5,334.14 L268.0,333.99 L268.5,333.83 L269.0,333.68 L269.5,333.52 L270.0,333.36 L270.5,333.20 L271.0,333.03 L271.5,332.86 L272.0,332.69 L272.5,332.52 L273.0,332.35 L273.5,332.17 L274.0,331.99 L274.5,331.81 L275.0,331.62 L275.5,331.43 L276.0,331.24 L276.5,331.05 L277.0,330.86 L277.5,330.66 L278.0,330.46 L278.5,330.26 L279.0,330.05 L279.5,329.85 L280.0,329.64 L280.5,329.43 L281.0,329.22 L281.5,329.01 L282.0,328.79 L282.5,328.57 L283.0,328.36 L283.5,328.14 L284.0,327.92 L284.5,327.70 L285.0,327.47 L285.5,327.25 L286.0,327.03 L286.5,326.80 L287.0,326.58 L287.5,326.35 L288.0,326.12 L288.5,325.90 L289.0,325.67 L289.5,325.44 L290.0,325.21 L290.5,324.98 L291.0,324.75 L291.5,324.53 L292.0,324.30 L292.5,324.07 L293.0,323.84 L293.5,323.61 L294.0,323.39 L294.5,323.16 L295.0,322.93 L295.5,322.71 L296.0,322.48 L296.5,322.26 L297.0,322.03 L297.5,321.81 L298.0,321.59 L298.5,321.37 L299.0,321.15 L299.5,320.94 L300.0,320.72 L300.5,320.51 L301.0,320.29 L301.5,320.08 L302.0,319.87 L302.5,319.66 L303.0,319.45 L303.5,319.23 L304.0,319.02 L304.5,318.81 L305.0,318.59 L305.5,318.38 L306.0,318.16 L306.5,317.94 L307.0,317.71 L307.5,317.49 L308.0,317.26 L308.5,317.02 L309.0,316.78 L309.5,316.54 L310.0,316.30 L310.5,316.05 L311.0,315.79 L311.5,315.53 L312.0,315.26 L312.5,314.99 L313.0,314.71 L313.5,314.42 L314.0,314.13 L314.5,313.83 L315.0,313.52 L315.5,313.20 L316.0,312.88 L316.5,312.55 L317.0,312.22 L317.5,311.89 L318.0,311.56 L318.5,311.24 L319.0,310.92 L319.5,310.60 L320.0,310.28 L320.5,309.96 L321.0,309.61 L321.5,309.24 L322.0,308.84 L322.5,308.40 L323.0,307.88 L323.5,307.27 L324.0,306.54 L324.5,305.65 L325.0,304.61 L325.5,303.44 L326.0,302.23 L326.5,301.02 L327.0,299.88 L327.5,298.85 L328.0,297.91 L328.5,297.01 L329.0,296.10 L329.5,295.15 L330.0,294.12 L330.5,293.05 L331.0,292.02 L331.5,291.06 L332.0,290.26 L332.5,289.65 L333.0,289.28 L333.5,289.18 L334.0,289.39 L334.5,289.93 L335.0,290.82 L335.5,291.97 L336.0,293.25 L336.5,294.55 L337.0,295.75 L337.5,296.76 L338.0,297.60 L338.5,298.30 L339.0,298.91 L339.5,299.47 L340.0,300.01 L340.5,300.52 L341.0,301.00 L341.5,301.43 L342.0,301.81 L342.5,302.13 L343.0,302.39 L343.5,302.61 L344.0,302.79 L344.5,302.95 L345.0,303.10 L345.5,303.25 L346.0,303.40 L346.5,303.55 L347.0,303.69 L347.5,303.84 L348.0,303.98 L348.5,304.11 L349.0,304.24 L349.5,304.37 L350.0,304.49 L350.5,304.61 L351.0,304.72 L351.5,304.83 L352.0,304.93 L352.5,305.04 L353.0,305.14 L353.5,305.24 L354.0,305.34 L354.5,305.44 L355.0,305.54 L355.5,305.63 L356.0,305.74 L356.5,305.84 L357.0,305.94 L357.5,306.05 L358.0,306.16 L358.5,306.28 L359.0,306.40 L359.5,306.53 L360.0,306.66 L360.5,306.79 L361.0,306.94 L361.5,307.08 L362.0,307.24 L362.5,307.40 L363.0,307.56 L363.5,307.72 L364.0,307.89 L364.5,308.07 L365.0,308.24 L365.5,308.42 L366.0,308.60 L366.5,308.79 L367.0,308.97 L367.5,309.16 L368.0,309.34 L368.5,309.53 L369.0,309.72 L369.5,309.90 L370.0,310.09 L370.5,310.27 L371.0,310.46 L371.5,310.64 L372.0,310.82 L372.5,310.99 L373.0,311.17 L373.5,311.34 L374.0,311.51 L374.5,311.67 L375.0,311.83 L375.5,311.99 L376.0,312.14 L376.5,312.28 L377.0,312.43 L377.5,312.57 L378.0,312.71 L378.5,312.84 L379.0,312.98 L379.5,313.11 L380.0,313.24 L380.5,313.37 L381.0,313.50 L381.5,313.63 L382.0,313.76 L382.5,313.89 L383.0,314.02 L383.5,314.16 L384.0,314.30 L384.5,314.43 L385.0,314.57 L385.5,314.72 L386.0,314.87 L386.5,315.02 L387.0,315.17 L387.5,315.33 L388.0,315.50 L388.5,315.67 L389.0,315.84 L389.5,316.02 L390.0,316.20 L390.5,316.37 L391.0,316.55 L391.5,316.71 L392.0,316.88 L392.5,317.03 L393.0,317.18 L393.5,317.31 L394.0,317.43 L394.5,317.54 L395.0,317.63 L395.5,317.70 L396.0,317.76 L396.5,317.79 L397.0,317.81 L397.5,317.80 L398.0,317.78 L398.5,317.74 L399.0,317.69 L399.5,317.62 L400.0,317.53 L400.5,317.44 L401.0,317.33 L401.5,317.22 L402.0,317.10 L402.5,316.97 L403.0,316.84 L403.5,316.71 L404.0,316.58 L404.5,316.47 L405.0,316.36 L405.5,316.26 L406.0,316.17 L406.5,316.11 L407.0,316.06 L407.5,316.04 L408.0,316.05 L408.5,316.10 L409.0,316.18 L409.5,316.30 L410.0,316.46 L410.5,316.67 L411.0,316.94 L411.5,317.26 L412.0,317.62 L412.5,318.03 L413.0,318.47 L413.5,318.94 L414.0,319.42 L414.5,319.91 L415.0,320.40 L415.5,320.89 L416.0,321.36 L416.5,321.81 L417.0,322.24 L417.5,322.65 L418.0,323.03 L418.5,323.40 L419.0,323.75 L419.5,324.08 L420.0,324.40 L420.5,324.69 L421.0,324.98 L421.5,325.24 L422.0,325.50 L422.5,325.74 L423.0,325.96 L423.5,326.18 L424.0,326.38 L424.5,326.58 L425.0,326.76 L425.5,326.94 L426.0,327.10 L426.5,327.26 L427.0,327.42 L427.5,327.56 L428.0,327.70 L428.5,327.84 L429.0,327.98 L429.5,328.11 L430.0,328.23 L430.5,328.36 L431.0,328.49 L431.5,328.61 L432.0,328.74 L432.5,328.86 L433.0,328.98 L433.5,329.10 L434.0,329.21 L434.5,329.33 L435.0,329.45 L435.5,329.56 L436.0,329.67 L436.5,329.79 L437.0,329.90 L437.5,330.01 L438.0,330.12 L438.5,330.22 L439.0,330.33 L439.5,330.44 L440.0,330.54 L440.5,330.65 L441.0,330.75 L441.5,330.85 L442.0,330.95 L442.5,331.05 L443.0,331.15 L443.5,331.25 L444.0,331.35 L444.5,331.45 L445.0,331.54 L445.5,331.64 L446.0,331.73 L446.5,331.83 L447.0,331.92 L447.5,332.01 L448.0,332.11 L448.5,332.20 L449.0,332.29 L449.5,332.38 L450.0,332.47 L450.5,332.56 L451.0,332.65 L451.5,332.74 L452.0,332.83 L452.5,332.91 L453.0,333.00 L453.5,333.09 L454.0,333.18 L454.5,333.26 L455.0,333.35 L455.5,333.43 L456.0,333.52 L456.5,333.60 L457.0,333.69 L457.5,333.77 L458.0,333.85 L458.5,333.94 L459.0,334.02 L459.5,334.10 L460.0,334.19 L460.5,334.27 L461.0,334.35 L461.5,334.43 L462.0,334.52 L462.5,334.60 L463.0,334.68 L463.5,334.76 L464.0,334.84 L464.5,334.92 L465.0,335.00 L465.5,335.08 L466.0,335.17 L466.5,335.25 L467.0,335.33 L467.5,335.41 L468.0,335.49 L468.5,335.57 L469.0,335.65 L469.5,335.73 L470.0,335.81 L470.5,335.89 L471.0,335.97 L471.5,336.05 L472.0,336.13 L472.5,336.22 L473.0,336.30 L473.5,336.38 L474.0,336.46 L474.5,336.54 L475.0,336.62 L475.5,336.70 L476.0,336.79 L476.5,336.87 L477.0,336.95 L477.5,337.03 L478.0,337.12 L478.5,337.20 L479.0,337.28 L479.5,337.37 L480.0,337.45 L480.5,337.53 L481.0,337.62 L481.5,337.70 L482.0,337.79 L482.5,337.87 L483.0,337.96 L483.5,338.04 L484.0,338.13 L484.5,338.22 L485.0,338.30 L485.5,338.39 L486.0,338.48 L486.5,338.57 L487.0,338.66 L487.5,338.74 L488.0,338.83 L488.5,338.91 L489.0,338.99 L489.5,339.07 L490.0,339.15 L490.5,339.22 L491.0,339.28 L491.5,339.34 L492.0,339.39 L492.5,339.44 L493.0,339.48 L493.5,339.51 L494.0,339.53 L494.5,339.54 L495.0,339.55 L495.5,339.54 L496.0,339.52 L496.5,339.49 L497.0,339.45 L497.5,339.40 L498.0,339.35 L498.5,339.29 L499.0,339.23 L499.5,339.17 L500.0,339.11 L500.5,339.05 L501.0,339.00 L501.5,338.96 L502.0,338.92 L502.5,338.89 L503.0,338.88 L503.5,338.88 L504.0,338.89 L504.5,338.92 L505.0,338.97 L505.5,339.04 L506.0,339.11 L506.5,339.21 L507.0,339.31 L507.5,339.42 L508.0,339.54 L508.5,339.68 L509.0,339.81 L509.5,339.96 L510.0,340.11 L510.5,340.26 L511.0,340.41 L511.5,340.57 L512.0,340.72 L512.5,340.88 L513.0,341.03 L513.5,341.18 L514.0,341.33 L514.5,341.47 L515.0,341.61 L515.5,341.74 L516.0,341.87 L516.5,342.00 L517.0,342.13 L517.5,342.25 L518.0,342.37 L518.5,342.49 L519.0,342.61 L519.5,342.72 L520.0,342.83 L520.5,342.93 L521.0,343.04 L521.5,343.14 L522.0,343.24 L522.5,343.33 L523.0,343.43 L523.5,343.52 L524.0,343.61 L524.5,343.70 L525.0,343.78 L525.5,343.87 L526.0,343.95 L526.5,344.03 L527.0,344.11 L527.5,344.19 L528.0,344.26 L528.5,344.33 L529.0,344.41 L529.5,344.48 L530.0,344.55 L530.5,344.61 L531.0,344.68 L531.5,344.75 L532.0,344.81 L532.5,344.87 L533.0,344.94 L533.5,345.00 L534.0,345.06 L534.5,345.12 L535.0,345.18 L535.5,345.23 L536.0,345.29 L536.5,345.35 L537.0,345.41 L537.5,345.46 L538.0,345.52 L538.5,345.57 L539.0,345.63 L539.5,345.68 L540.0,345.74 L540.5,345.79 L541.0,345.85 L541.5,345.90 L542.0,345.96 L542.5,346.01 L543.0,346.07 L543.5,346.12 L544.0,346.18 L544.5,346.23 L545.0,346.28 L545.5,346.34 L546.0,346.39 L546.5,346.45 L547.0,346.50 L547.5,346.55 L548.0,346.61 L548.5,346.66 L549.0,346.72 L549.5,346.77 L550.0,346.82 L550.5,346.87 L551.0,346.93 L551.5,346.98 L552.0,347.03 L552.5,347.08 L553.0,347.14 L553.5,347.19 L554.0,347.24 L554.5,347.29 L555.0,347.34 L555.5,347.39 L556.0,347.44 L556.5,347.49 L557.0,347.54 L557.5,347.59 L558.0,347.64 L558.5,347.69 L559.0,347.74 L559.5,347.79 L560.0,347.84 L560.5,347.89 L561.0,347.93 L561.5,347.98 L562.0,348.03 L562.5,348.08 L563.0,348.12 L563.5,348.17 L564.0,348.21 L564.5,348.26 L565.0,348.31 L565.5,348.35 L566.0,348.39 L566.5,348.44 L567.0,348.48 L567.5,348.53 L568.0,348.57 L568.5,348.61 L569.0,348.65 L569.5,348.69 L570.0,348.74 L570.5,348.78 L571.0,348.82 L571.5,348.86 L572.0,348.90 L572.5,348.93 L573.0,348.97 L573.5,349.01 L574.0,349.05 L574.5,349.09 L575.0,349.12 L575.5,349.16 L576.0,349.19 L576.5,349.23 L577.0,349.26 L577.5,349.30 L578.0,349.33 L578.5,349.36 L579.0,349.40 L579.5,349.43 L580.0,349.46 L580.5,349.49 L581.0,349.52 L581.5,349.55 L582.0,349.58 L582.5,349.61 L583.0,349.63 L583.5,349.66 L584.0,349.69 L584.5,349.72 L585.0,349.74 L585.5,349.77 L586.0,349.79 L586.5,349.82 L587.0,349.84 L587.5,349.86 L588.0,349.89 L588.5,349.91 L589.0,349.93 L589.5,349.96 L590.0,349.98 L590.5,350.00 L591.0,350.02 L591.5,350.04 L592.0,350.06 L592.5,350.08 L593.0,350.10 L593.5,350.12 L594.0,350.14 L594.5,350.16 L595.0,350.18 L595.5,350.20 L596.0,350.22 L596.5,350.24 L597.0,350.26 L597.5,350.27 L598.0,350.29 L598.5,350.31 L599.0,350.33 L599.5,350.35 L600.0,350.36 L600.5,350.38 L601.0,350.40 L601.5,350.41 L602.0,350.43 L602.5,350.45 L603.0,350.47 L603.5,350.48 L604.0,350.50 L604.5,350.52 L605.0,350.53 L605.5,350.55 L606.0,350.57 L606.5,350.58 L607.0,350.60 L607.5,350.62 L608.0,350.63 L608.5,350.65 L609.0,350.67 L609.5,350.69 L610.0,350.70 L610.5,350.72 L611.0,350.74 L611.5,350.76 L612.0,350.77 L612.5,350.79 L613.0,350.81 L613.5,350.83 L614.0,350.85 L614.5,350.87 L615.0,350.89 L615.5,350.90 L616.0,350.92 L616.5,350.94 L617.0,350.96 L617.5,350.98 L618.0,351.01 L618.5,351.03 L619.0,351.05 L619.5,351.07 L620.0,351.09 L620.5,351.11 L621.0,351.14 L621.5,351.16 L622.0,351.18 L622.5,351.21 L623.0,351.23 L623.5,351.26 L624.0,351.28 L624.5,351.31 L625.0,351.33 L625.5,351.36 L626.0,351.39 L626.5,351.41 L627.0,351.44 L627.5,351.47 L628.0,351.50 L628.5,351.53 L629.0,351.56 L629.5,351.59 L630.0,351.62 L630.5,351.65 L631.0,351.68 L631.5,351.72 L631.9,351.74" stroke="#f57a00"/>
<path d="M44.0,384.59 L44.5,384.55 L45.0,384.51 L45.5,384.47 L46.0,384.43 L46.5,384.39 L47.0,384.35 L47.5,384.31 L48.0,384.27 L48.5,384.23 L49.0,384.19 L49.5,384.15 L50.0,384.11 L50.5,384.07 L51.0,384.03 L51.5,383.99 L52.0,383.95 L52.5,383.91 L53.0,383.87 L53.5,383.83 L54.0,383.79 L54.5,383.75 L55.0,383.71 L55.5,383.67 L56.0,383.62 L56.5,383.58 L57.0,383.54 L57.5,383.50 L58.0,383.46 L58.5,383.42 L59.0,383.37 L59.5,383.33 L60.0,383.29 L60.5,383.25 L61.0,383.21 L61.5,383.16 L62.0,383.12 L62.5,383.08 L63.0,383.03 L63.5,382.99 L64.0,382.95 L64.5,382.90 L65.0,382.86 L65.5,382.81 L66.0,382.77 L66.5,382.72 L67.0,382.68 L67.5,382.63 L68.0,382.59 L68.5,382.54 L69.0,382.50 L69.5,382.45 L70.0,382.41 L70.5,382.36 L71.0,382.31 L71.5,382.26 L72.0,382.22 L72.5,382.17 L73.0,382.12 L73.5,382.07 L74.0,382.03 L74.5,381.98 L75.0,381.93 L75.5,381.88 L76.0,381.83 L76.5,381.78 L77.0,381.73 L77.5,381.68 L78.0,381.63 L78.5,381.58 L79.0,381.53 L79.5,381.47 L80.0,381.42 L80.5,381.37 L81.0,381.32 L81.5,381.27 L82.0,381.21 L82.5,381.16 L83.0,381.10 L83.5,381.05 L84.0,381.00 L84.5,380.94 L85.0,380.88 L85.5,380.83 L86.0,380.77 L86.5,380.72 L87.0,380.66 L87.5,380.60 L88.0,380.55 L88.5,380.49 L89.0,380.43 L89.5,380.37 L90.0,380.31 L90.5,380.25 L91.0,380.20 L91.5,380.14 L92.0,380.08 L92.5,380.02 L93.0,379.96 L93.5,379.90 L94.0,379.84 L94.5,379.78 L95.0,379.72 L95.5,379.66 L96.0,379.59 L96.5,379.53 L97.0,379.47 L97.5,379.41 L98.0,379.35 L98.5,379.29 L99.0,379.23 L99.5,379.17 L100.0,379.11 L100.5,379.05 L101.0,378.99 L101.5,378.92 L102.0,378.86 L102.5,378.80 L103.0,378.74 L103.5,378.68 L104.0,378.62 L104.5,378.56 L105.0,378.50 L105.5,378.44 L106.0,378.38 L106.5,378.32 L107.0,378.26 L107.5,378.20 L108.0,378.14 L108.5,378.08 L109.0,378.02 L109.5,377.96 L110.0,377.90 L110.5,377.84 L111.0,377.78 L111.5,377.73 L112.0,377.67 L112.5,377.61 L113.0,377.55 L113.5,377.50 L114.0,377.44 L114.5,377.38 L115.0,377.33 L115.5,377.27 L116.0,377.22 L116.5,377.16 L117.0,377.11 L117.5,377.06 L118.0,377.00 L118.5,376.95 L119.0,376.90 L119.5,376.84 L120.0,376.79 L120.5,376.74 L121.0,376.69 L121.5,376.64 L122.0,376.59 L122.5,376.54 L123.0,376.49 L123.5,376.45 L124.0,376.40 L124.5,376.35 L125.0,376.31 L125.5,376.26 L126.0,376.22 L126.5,376.17 L127.0,376.13 L127.5,376.09 L128.0,376.04 L128.5,376.00 L129.0,375.96 L129.5,375.92 L130.0,375.88 L130.5,375.84 L131.0,375.80 L131.5,375.76 L132.0,375.73 L132.5,375.69 L133.0,375.65 L133.5,375.62 L134.0,375.58 L134.5,375.55 L135.0,375.52 L135.5,375.48 L136.0,375.45 L136.5,375.42 L137.0,375.39 L137.5,375.36 L138.0,375.33 L138.5,375.30 L139.0,375.27 L139.5,375.25 L140.0,375.22 L140.5,375.20 L141.0,375.17 L141.5,375.15 L142.0,375.12 L142.5,375.10 L143.0,375.08 L143.5,375.06 L144.0,375.04 L144.5,375.02 L145.0,375.00 L145.5,374.98 L146.0,374.96 L146.5,374.94 L147.0,374.93 L147.5,374.91 L148.0,374.90 L148.5,374.88 L149.0,374.87 L149.5,374.86 L150.0,374.85 L150.5,374.83 L151.0,374.82 L151.5,374.81 L152.0,374.81 L152.5,374.80 L153.0,374.79 L153.5,374.78 L154.0,374.78 L154.5,374.77 L155.0,374.77 L155.5,374.77 L156.0,374.76 L156.5,374.76 L157.0,374.76 L157.5,374.76 L158.0,374.76 L158.5,374.77 L159.0,374.77 L159.5,374.77 L160.0,374.78 L160.5,374.78 L161.0,374.79 L161.5,374.79 L162.0,374.80 L162.5,374.81 L163.0,374.82 L163.5,374.83 L164.0,374.84 L164.5,374.85 L165.0,374.86 L165.5,374.88 L166.0,374.89 L166.5,374.91 L167.0,374.92 L167.5,374.94 L168.0,374.96 L168.5,374.97 L169.0,374.99 L169.5,375.01 L170.0,375.03 L170.5,375.05 L171.0,375.07 L171.5,375.09 L172.0,375.12 L172.5,375.14 L173.0,375.16 L173.5,375.19 L174.0,375.21 L174.5,375.23 L175.0,375.26 L175.5,375.28 L176.0,375.31 L176.5,375.33 L177.0,375.36 L177.5,375.38 L178.0,375.41 L178.5,375.44 L179.0,375.46 L179.5,375.49 L180.0,375.52 L180.5,375.54 L181.0,375.57 L181.5,375.59 L182.0,375.62 L182.5,375.65 L183.0,375.67 L183.5,375.70 L184.0,375.72 L184.5,375.75 L185.0,375.78 L185.5,375.80 L186.0,375.82 L186.5,375.85 L187.0,375.87 L187.5,375.90 L188.0,375.92 L188.5,375.94 L189.0,375.97 L189.5,375.99 L190.0,376.01 L190.5,376.03 L191.0,376.05 L191.5,376.07 L192.0,376.09 L192.5,376.11 L193.0,376.13 L193.5,376.14 L194.0,376.16 L194.5,376.18 L195.0,376.19 L195.5,376.21 L196.0,376.22 L196.5,376.23 L197.0,376.24 L197.5,376.25 L198.0,376.26 L198.5,376.27 L199.0,376.28 L199.5,376.29 L200.0,376.29 L200.5,376.30 L201.0,376.30 L201.5,376.30 L202.0,376.30 L202.5,376.30 L203.0,376.30 L203.5,376.30 L204.0,376.30 L204.5,376.29 L205.0,376.29 L205.5,376.28 L206.0,376.27 L206.5,376.26 L207.0,376.25 L207.5,376.23 L208.0,376.22 L208.5,376.20 L209.0,376.19 L209.5,376.17 L210.0,376.15 L210.5,376.13 L211.0,376.11 L211.5,376.08 L212.0,376.06 L212.5,376.03 L213.0,376.01 L213.5,375.98 L214.0,375.95 L214.5,375.92 L215.0,375.89 L215.5,375.85 L216.0,375.82 L216.5,375.79 L217.0,375.75 L217.5,375.71 L218.0,375.67 L218.5,375.63 L219.0,375.59 L219.5,375.55 L220.0,375.51 L220.5,375.46 L221.0,375.42 L221.5,375.37 L222.0,375.33 L222.5,375.28 L223.0,375.23 L223.5,375.18 L224.0,375.13 L224.5,375.08 L225.0,375.02 L225.5,374.97 L226.0,374.92 L226.5,374.86 L227.0,374.80 L227.5,374.74 L228.0,374.69 L228.5,374.63 L229.0,374.57 L229.5,374.51 L230.0,374.44 L230.5,374.38 L231.0,374.32 L231.5,374.25 L232.0,374.19 L232.5,374.12 L233.0,374.05 L233.5,373.98 L234.0,373.92 L234.5,373.85 L235.0,373.78 L235.5,373.71 L236.0,373.63 L236.5,373.56 L237.0,373.49 L237.5,373.41 L238.0,373.34 L238.5,373.26 L239.0,373.19 L239.5,373.11 L240.0,373.03 L240.5,372.96 L241.0,372.88 L241.5,372.80 L242.0,372.72 L242.5,372.64 L243.0,372.56 L243.5,372.47 L244.0,372.39 L244.5,372.31 L245.0,372.22 L245.5,372.14 L246.0,372.06 L246.5,371.97 L247.0,371.88 L247.5,371.80 L248.0,371.71 L248.5,371.62 L249.0,371.53 L249.5,371.44 L250.0,371.35 L250.5,371.26 L251.0,371.17 L251.5,371.07 L252.0,370.98 L252.5,370.89 L253.0,370.79 L253.5,370.69 L254.0,370.59 L254.5,370.49 L255.0,370.39 L255.5,370.29 L256.0,370.19 L256.5,370.08 L257.0,369.98 L257.5,369.87 L258.0,369.76 L258.5,369.65 L259.0,369.54 L259.5,369.43 L260.0,369.31 L260.5,369.20 L261.0,369.08 L261.5,368.96 L262.0,368.84 L262.5,368.72 L263.0,368.59 L263.5,368.47 L264.0,368.34 L264.5,368.21 L265.0,368.08 L265.5,367.95 L266.0,367.81 L266.5,367.68 L267.0,367.54 L267.5,367.40 L268.0,367.26 L268.5,367.11 L269.0,366.97 L269.5,366.82 L270.0,366.67 L270.5,366.52 L271.0,366.36 L271.5,366.20 L272.0,366.04 L272.5,365.88 L273.0,365.72 L273.5,365.55 L274.0,365.38 L274.5,365.21 L275.0,365.04 L275.5,364.86 L276.0,364.69 L276.5,364.51 L277.0,364.32 L277.5,364.14 L278.0,363.95 L278.5,363.76 L279.0,363.57 L279.5,363.38 L280.0,363.18 L280.5,362.99 L281.0,362.79 L281.5,362.59 L282.0,362.39 L282.5,362.19 L283.0,361.98 L283.5,361.78 L284.0,361.57 L284.5,361.36 L285.0,361.16 L285.5,360.95 L286.0,360.74 L286.5,360.52 L287.0,360.31 L287.5,360.10 L288.0,359.89 L288.5,359.67 L289.0,359.46 L289.5,359.25 L290.0,359.03 L290.5,358.82 L291.0,358.60 L291.5,358.39 L292.0,358.17 L292.5,357.96 L293.0,357.74 L293.5,357.53 L294.0,357.31 L294.5,357.10 L295.0,356.88 L295.5,356.67 L296.0,356.46 L296.5,356.25 L297.0,356.04 L297.5,355.83 L298.0,355.62 L298.5,355.41 L299.0,355.20 L299.5,354.99 L300.0,354.79 L300.5,354.59 L301.0,354.38 L301.5,354.18 L302.0,353.98 L302.5,353.78 L303.0,353.57 L303.5,353.37 L304.0,353.17 L304.5,352.96 L305.0,352.75 L305.5,352.55 L306.0,352.33 L306.5,352.12 L307.0,351.90 L307.5,351.68 L308.0,351.45 L308.5,351.23 L309.0,350.99 L309.5,350.75 L310.0,350.51 L310.5,350.26 L311.0,350.01 L311.5,349.75 L312.0,349.48 L312.5,349.21 L313.0,348.92 L313.5,348.64 L314.0,348.34 L314.5,348.04 L315.0,347.72 L315.5,347.40 L316.0,347.07 L316.5,346.72 L317.0,346.37 L317.5,345.99 L318.0,345.60 L318.5,345.20 L319.0,344.77 L319.5,344.32 L320.0,343.84 L320.5,343.35 L321.0,342.82 L321.5,342.27 L322.0,341.69 L322.5,341.07 L323.0,340.41 L323.5,339.69 L324.0,338.90 L324.5,338.01 L325.0,337.03 L325.5,335.96 L326.0,334.82 L326.5,333.63 L327.0,332.39 L327.5,331.12 L328.0,329.86 L328.5,328.63 L329.0,327.46 L329.5,326.38 L330.0,325.42 L330.5,324.55 L331.0,323.77 L331.5,323.05 L332.0,322.36 L332.5,321.71 L333.0,321.18 L333.5,320.85 L334.0,320.82 L334.5,321.18 L335.0,321.98 L335.5,323.15 L336.0,324.56 L336.5,326.09 L337.0,327.62 L337.5,329.04 L338.0,330.33 L338.5,331.49 L339.0,332.52 L339.5,333.42 L340.0,334.20 L340.5,334.86 L341.0,335.43 L341.5,335.93 L342.0,336.38 L342.5,336.79 L343.0,337.18 L343.5,337.53 L344.0,337.85 L344.5,338.13 L345.0,338.38 L345.5,338.59 L346.0,338.76 L346.5,338.90 L347.0,339.02 L347.5,339.12 L348.0,339.21 L348.5,339.29 L349.0,339.36 L349.5,339.44 L350.0,339.51 L350.5,339.59 L351.0,339.67 L351.5,339.75 L352.0,339.83 L352.5,339.92 L353.0,340.00 L353.5,340.09 L354.0,340.19 L354.5,340.28 L355.0,340.38 L355.5,340.49 L356.0,340.60 L356.5,340.71 L357.0,340.82 L357.5,340.95 L358.0,341.07 L358.5,341.20 L359.0,341.34 L359.5,341.48 L360.0,341.63 L360.5,341.78 L361.0,341.94 L361.5,342.11 L362.0,342.28 L362.5,342.45 L363.0,342.63 L363.5,342.81 L364.0,343.00 L364.5,343.19 L365.0,343.38 L365.5,343.58 L366.0,343.78 L366.5,343.98 L367.0,344.19 L367.5,344.39 L368.0,344.60 L368.5,344.81 L369.0,345.02 L369.5,345.23 L370.0,345.44 L370.5,345.65 L371.0,345.86 L371.5,346.06 L372.0,346.27 L372.5,346.48 L373.0,346.68 L373.5,346.89 L374.0,347.09 L374.5,347.29 L375.0,347.48 L375.5,347.68 L376.0,347.87 L376.5,348.05 L377.0,348.24 L377.5,348.42 L378.0,348.60 L378.5,348.78 L379.0,348.95 L379.5,349.13 L380.0,349.30 L380.5,349.47 L381.0,349.64 L381.5,349.80 L382.0,349.97 L382.5,350.14 L383.0,350.30 L383.5,350.46 L384.0,350.63 L384.5,350.79 L385.0,350.95 L385.5,351.11 L386.0,351.27 L386.5,351.44 L387.0,351.60 L387.5,351.76 L388.0,351.93 L388.5,352.09 L389.0,352.25 L389.5,352.42 L390.0,352.58 L390.5,352.73 L391.0,352.88 L391.5,353.03 L392.0,353.17 L392.5,353.31 L393.0,353.43 L393.5,353.55 L394.0,353.65 L394.5,353.74 L395.0,353.83 L395.5,353.89 L396.0,353.95 L396.5,353.99 L397.0,354.01 L397.5,354.02 L398.0,354.01 L398.5,353.98 L399.0,353.94 L399.5,353.89 L400.0,353.82 L400.5,353.73 L401.0,353.63 L401.5,353.51 L402.0,353.39 L402.5,353.25 L403.0,353.11 L403.5,352.97 L404.0,352.83 L404.5,352.70 L405.0,352.58 L405.5,352.47 L406.0,352.39 L406.5,352.32 L407.0,352.28 L407.5,352.27 L408.0,352.29 L408.5,352.35 L409.0,352.44 L409.5,352.57 L410.0,352.75 L410.5,352.97 L411.0,353.24 L411.5,353.57 L412.0,353.93 L412.5,354.34 L413.0,354.77 L413.5,355.23 L414.0,355.70 L414.5,356.19 L415.0,356.67 L415.5,357.14 L416.0,357.60 L416.5,358.03 L417.0,358.45 L417.5,358.85 L418.0,359.22 L418.5,359.58 L419.0,359.91 L419.5,360.23 L420.0,360.53 L420.5,360.82 L421.0,361.09 L421.5,361.35 L422.0,361.59 L422.5,361.82 L423.0,362.03 L423.5,362.24 L424.0,362.43 L424.5,362.61 L425.0,362.79 L425.5,362.95 L426.0,363.11 L426.5,363.26 L427.0,363.40 L427.5,363.54 L428.0,363.67 L428.5,363.80 L429.0,363.93 L429.5,364.05 L430.0,364.17 L430.5,364.29 L431.0,364.41 L431.5,364.53 L432.0,364.64 L432.5,364.76 L433.0,364.88 L433.5,364.99 L434.0,365.10 L434.5,365.21 L435.0,365.33 L435.5,365.44 L436.0,365.55 L436.5,365.66 L437.0,365.76 L437.5,365.87 L438.0,365.98 L438.5,366.08 L439.0,366.19 L439.5,366.30 L440.0,366.40 L440.5,366.50 L441.0,366.61 L441.5,366.71 L442.0,366.81 L442.5,366.92 L443.0,367.02 L443.5,367.12 L444.0,367.22 L444.5,367.32 L445.0,367.42 L445.5,367.52 L446.0,367.62 L446.5,367.72 L447.0,367.82 L447.5,367.92 L448.0,368.02 L448.5,368.12 L449.0,368.22 L449.5,368.32 L450.0,368.42 L450.5,368.52 L451.0,368.62 L451.5,368.71 L452.0,368.81 L452.5,368.91 L453.0,369.01 L453.5,369.11 L454.0,369.21 L454.5,369.31 L455.0,369.40 L455.5,369.50 L456.0,369.60 L456.5,369.70 L457.0,369.79 L457.5,369.89 L458.0,369.99 L458.5,370.08 L459.0,370.18 L459.5,370.27 L460.0,370.37 L460.5,370.46 L461.0,370.56 L461.5,370.65 L462.0,370.74 L462.5,370.84 L463.0,370.93 L463.5,371.02 L464.0,371.11 L464.5,371.20 L465.0,371.29 L465.5,371.38 L466.0,371.46 L466.5,371.55 L467.0,371.64 L467.5,371.72 L468.0,371.80 L468.5,371.89 L469.0,371.97 L469.5,372.05 L470.0,372.13 L470.5,372.21 L471.0,372.29 L471.5,372.37 L472.0,372.45 L472.5,372.52 L473.0,372.60 L473.5,372.68 L474.0,372.75 L474.5,372.83 L475.0,372.90 L475.5,372.97 L476.0,373.05 L476.5,373.12 L477.0,373.19 L477.5,373.27 L478.0,373.34 L478.5,373.41 L479.0,373.49 L479.5,373.56 L480.0,373.63 L480.5,373.71 L481.0,373.78 L481.5,373.85 L482.0,373.93 L482.5,374.00 L483.0,374.08 L483.5,374.16 L484.0,374.24 L484.5,374.31 L485.0,374.39 L485.5,374.47 L486.0,374.55 L486.5,374.64 L487.0,374.72 L487.5,374.80 L488.0,374.88 L488.5,374.96 L489.0,375.03 L489.5,375.11 L490.0,375.18 L490.5,375.24 L491.0,375.30 L491.5,375.35 L492.0,375.39 L492.5,375.43 L493.0,375.46 L493.5,375.48 L494.0,375.48 L494.5,375.48 L495.0,375.47 L495.5,375.44 L496.0,375.40 L496.5,375.35 L497.0,375.29 L497.5,375.22 L498.0,375.14 L498.5,375.05 L499.0,374.97 L499.5,374.88 L500.0,374.79 L500.5,374.71 L501.0,374.64 L501.5,374.57 L502.0,374.52 L502.5,374.48 L503.0,374.45 L503.5,374.44 L504.0,374.46 L504.5,374.49 L505.0,374.55 L505.5,374.62 L506.0,374.71 L506.5,374.82 L507.0,374.94 L507.5,375.08 L508.0,375.22 L508.5,375.38 L509.0,375.55 L509.5,375.72 L510.0,375.90 L510.5,376.08 L511.0,376.26 L511.5,376.45 L512.0,376.63 L512.5,376.81 L513.0,376.99 L513.5,377.16 L514.0,377.33 L514.5,377.49 L515.0,377.65 L515.5,377.80 L516.0,377.95 L516.5,378.09 L517.0,378.23 L517.5,378.37 L518.0,378.50 L518.5,378.62 L519.0,378.74 L519.5,378.86 L520.0,378.97 L520.5,379.08 L521.0,379.19 L521.5,379.29 L522.0,379.39 L522.5,379.48 L523.0,379.57 L523.5,379.66 L524.0,379.75 L524.5,379.83 L525.0,379.91 L525.5,379.99 L526.0,380.06 L526.5,380.13 L527.0,380.20 L527.5,380.27 L528.0,380.33 L528.5,380.40 L529.0,380.46 L529.5,380.51 L530.0,380.57 L530.5,380.63 L531.0,380.68 L531.5,380.73 L532.0,380.78 L532.5,380.83 L533.0,380.88 L533.5,380.93 L534.0,380.97 L534.5,381.02 L535.0,381.06 L535.5,381.11 L536.0,381.15 L536.5,381.19 L537.0,381.24 L537.5,381.28 L538.0,381.32 L538.5,381.36 L539.0,381.41 L539.5,381.45 L540.0,381.49 L540.5,381.53 L541.0,381.58 L541.5,381.62 L542.0,381.67 L542.5,381.71 L543.0,381.76 L543.5,381.81 L544.0,381.85 L544.5,381.90 L545.0,381.95 L545.5,381.99 L546.0,382.04 L546.5,382.09 L547.0,382.14 L547.5,382.18 L548.0,382.23 L548.5,382.28 L549.0,382.33 L549.5,382.38 L550.0,382.43 L550.5,382.48 L551.0,382.53 L551.5,382.58 L552.0,382.63 L552.5,382.68 L553.0,382.73 L553.5,382.78 L554.0,382.83 L554.5,382.88 L555.0,382.93 L555.5,382.98 L556.0,383.03 L556.5,383.08 L557.0,383.13 L557.5,383.18 L558.0,383.23 L558.5,383.28 L559.0,383.33 L559.5,383.38 L560.0,383.43 L560.5,383.48 L561.0,383.53 L561.5,383.57 L562.0,383.62 L562.5,383.67 L563.0,383.72 L563.5,383.77 L564.0,383.82 L564.5,383.86 L565.0,383.91 L565.5,383.96 L566.0,384.00 L566.5,384.05 L567.0,384.10 L567.5,384.14 L568.0,384.19 L568.5,384.23 L569.0,384.27 L569.5,384.32 L570.0,384.36 L570.5,384.40 L571.0,384.45 L571.5,384.49 L572.0,384.53 L572.5,384.57 L573.0,384.61 L573.5,384.65 L574.0,384.69 L574.5,384.73 L575.0,384.77 L575.5,384.81 L576.0,384.84 L576.5,384.88 L577.0,384.91 L577.5,384.95 L578.0,384.98 L578.5,385.02 L579.0,385.05 L579.5,385.08 L580.0,385.11 L580.5,385.14 L581.0,385.17 L581.5,385.20 L582.0,385.23 L582.5,385.26 L583.0,385.28 L583.5,385.31 L584.0,385.34 L584.5,385.36 L585.0,385.39 L585.5,385.41 L586.0,385.43 L586.5,385.45 L587.0,385.48 L587.5,385.50 L588.0,385.52 L588.5,385.54 L589.0,385.56 L589.5,385.58 L590.0,385.60 L590.5,385.61 L591.0,385.63 L591.5,385.65 L592.0,385.67 L592.5,385.68 L593.0,385.70 L593.5,385.72 L594.0,385.73 L594.5,385.75 L595.0,385.76 L595.5,385.78 L596.0,385.79 L596.5,385.80 L597.0,385.82 L597.5,385.83 L598.0,385.84 L598.5,385.86 L599.0,385.87 L599.5,385.88 L600.0,385.89 L600.5,385.91 L601.0,385.92 L601.5,385.93 L602.0,385.94 L602.5,385.95 L603.0,385.96 L603.5,385.98 L604.0,385.99 L604.5,386.00 L605.0,386.01 L605.5,386.02 L606.0,386.03 L606.5,386.04 L607.0,386.05 L607.5,386.07 L608.0,386.08 L608.5,386.09 L609.0,386.10 L609.5,386.11 L610.0,386.12 L610.5,386.14 L611.0,386.15 L611.5,386.16 L612.0,386.17 L612.5,386.19 L613.0,386.20 L613.5,386.21 L614.0,386.22 L614.5,386.24 L615.0,386.25 L615.5,386.27 L616.0,386.28 L616.5,386.29 L617.0,386.31 L617.5,386.33 L618.0,386.34 L618.5,386.36 L619.0,386.37 L619.5,386.39 L620.0,386.41 L620.5,386.43 L621.0,386.44 L621.5,386.46 L622.0,386.48 L622.5,386.50 L623.0,386.52 L623.5,386.54 L624.0,386.56 L624.5,386.58 L625.0,386.61 L625.5,386.63 L626.0,386.65 L626.5,386.68 L627.0,386.70 L627.5,386.73 L628.0,386.75 L628.5,386.78 L629.0,386.81 L629.5,386.84 L630.0,386.86 L630.5,386.89 L631.0,386.92 L631.5,386.95 L631.9,386.98" stroke="#7a3510"/>
<path d="M44.0,426.14 L44.5,426.09 L45.0,426.05 L45.5,426.01 L46.0,425.97 L46.5,425.93 L47.0,425.89 L47.5,425.84 L48.0,425.80 L48.5,425.76 L49.0,425.72 L49.5,425.68 L50.0,425.63 L50.5,425.59 L51.0,425.55 L51.5,425.51 L52.0,425.46 L52.5,425.42 L53.0,425.38 L53.5,425.34 L54.0,425.29 L54.5,425.25 L55.0,425.21 L55.5,425.16 L56.0,425.12 L56.5,425.08 L57.0,425.03 L57.5,424.99 L58.0,424.95 L58.5,424.90 L59.0,424.86 L59.5,424.82 L60.0,424.77 L60.5,424.73 L61.0,424.68 L61.5,424.64 L62.0,424.59 L62.5,424.55 L63.0,424.50 L63.5,424.46 L64.0,424.41 L64.5,424.37 L65.0,424.32 L65.5,424.27 L66.0,424.23 L66.5,424.18 L67.0,424.13 L67.5,424.09 L68.0,424.04 L68.5,423.99 L69.0,423.95 L69.5,423.90 L70.0,423.85 L70.5,423.80 L71.0,423.75 L71.5,423.71 L72.0,423.66 L72.5,423.61 L73.0,423.56 L73.5,423.51 L74.0,423.46 L74.5,423.41 L75.0,423.36 L75.5,423.31 L76.0,423.26 L76.5,423.21 L77.0,423.16 L77.5,423.11 L78.0,423.05 L78.5,423.00 L79.0,422.95 L79.5,422.90 L80.0,422.85 L80.5,422.79 L81.0,422.74 L81.5,422.68 L82.0,422.63 L82.5,422.58 L83.0,422.52 L83.5,422.47 L84.0,422.41 L84.5,422.36 L85.0,422.30 L85.5,422.24 L86.0,422.19 L86.5,422.13 L87.0,422.07 L87.5,422.02 L88.0,421.96 L88.5,421.90 L89.0,421.84 L89.5,421.78 L90.0,421.73 L90.5,421.67 L91.0,421.61 L91.5,421.55 L92.0,421.49 L92.5,421.43 L93.0,421.37 L93.5,421.31 L94.0,421.25 L94.5,421.19 L95.0,421.13 L95.5,421.07 L96.0,421.01 L96.5,420.95 L97.0,420.89 L97.5,420.82 L98.0,420.76 L98.5,420.70 L99.0,420.64 L99.5,420.58 L100.0,420.52 L100.5,420.46 L101.0,420.39 L101.5,420.33 L102.0,420.27 L102.5,420.21 L103.0,420.15 L103.5,420.09 L104.0,420.03 L104.5,419.96 L105.0,419.90 L105.5,419.84 L106.0,419.78 L106.5,419.72 L107.0,419.66 L107.5,419.60 L108.0,419.54 L108.5,419.48 L109.0,419.42 L109.5,419.35 L110.0,419.29 L110.5,419.23 L111.0,419.17 L111.5,419.11 L112.0,419.06 L112.5,419.00 L113.0,418.94 L113.5,418.88 L114.0,418.82 L114.5,418.76 L115.0,418.70 L115.5,418.64 L116.0,418.59 L116.5,418.53 L117.0,418.47 L117.5,418.41 L118.0,418.36 L118.5,418.30 L119.0,418.24 L119.5,418.19 L120.0,418.13 L120.5,418.08 L121.0,418.02 L121.5,417.97 L122.0,417.92 L122.5,417.86 L123.0,417.81 L123.5,417.76 L124.0,417.70 L124.5,417.65 L125.0,417.60 L125.5,417.55 L126.0,417.50 L126.5,417.45 L127.0,417.40 L127.5,417.35 L128.0,417.30 L128.5,417.25 L129.0,417.21 L129.5,417.16 L130.0,417.11 L130.5,417.07 L131.0,417.02 L131.5,416.97 L132.0,416.93 L132.5,416.89 L133.0,416.84 L133.5,416.80 L134.0,416.76 L134.5,416.72 L135.0,416.68 L135.5,416.63 L136.0,416.59 L136.5,416.56 L137.0,416.52 L137.5,416.48 L138.0,416.44 L138.5,416.41 L139.0,416.37 L139.5,416.33 L140.0,416.30 L140.5,416.27 L141.0,416.23 L141.5,416.20 L142.0,416.17 L142.5,416.14 L143.0,416.11 L143.5,416.08 L144.0,416.05 L144.5,416.02 L145.0,415.99 L145.5,415.97 L146.0,415.94 L146.5,415.91 L147.0,415.89 L147.5,415.87 L148.0,415.84 L148.5,415.82 L149.0,415.80 L149.5,415.78 L150.0,415.76 L150.5,415.74 L151.0,415.73 L151.5,415.71 L152.0,415.69 L152.5,415.68 L153.0,415.66 L153.5,415.65 L154.0,415.64 L154.5,415.63 L155.0,415.62 L155.5,415.61 L156.0,415.60 L156.5,415.59 L157.0,415.58 L157.5,415.58 L158.0,415.57 L158.5,415.57 L159.0,415.57 L159.5,415.57 L160.0,415.57 L160.5,415.57 L161.0,415.57 L161.5,415.57 L162.0,415.57 L162.5,415.58 L163.0,415.58 L163.5,415.59 L164.0,415.60 L164.5,415.60 L165.0,415.61 L165.5,415.63 L166.0,415.64 L166.5,415.65 L167.0,415.66 L167.5,415.68 L168.0,415.69 L168.5,415.71 L169.0,415.73 L169.5,415.75 L170.0,415.77 L170.5,415.79 L171.0,415.81 L171.5,415.83 L172.0,415.85 L172.5,415.87 L173.0,415.90 L173.5,415.92 L174.0,415.95 L174.5,415.97 L175.0,416.00 L175.5,416.02 L176.0,416.05 L176.5,416.08 L177.0,416.10 L177.5,416.13 L178.0,416.16 L178.5,416.19 L179.0,416.21 L179.5,416.24 L180.0,416.27 L180.5,416.30 L181.0,416.33 L181.5,416.36 L182.0,416.39 L182.5,416.41 L183.0,416.44 L183.5,416.47 L184.0,416.50 L184.5,416.53 L185.0,416.56 L185.5,416.58 L186.0,416.61 L186.5,416.64 L187.0,416.67 L187.5,416.69 L188.0,416.72 L188.5,416.75 L189.0,416.77 L189.5,416.80 L190.0,416.82 L190.5,416.85 L191.0,416.87 L191.5,416.89 L192.0,416.92 L192.5,416.94 L193.0,416.96 L193.5,416.98 L194.0,417.00 L194.5,417.02 L195.0,417.04 L195.5,417.05 L196.0,417.07 L196.5,417.09 L197.0,417.10 L197.5,417.11 L198.0,417.13 L198.5,417.14 L199.0,417.15 L199.5,417.16 L200.0,417.17 L200.5,417.17 L201.0,417.18 L201.5,417.18 L202.0,417.19 L202.5,417.19 L203.0,417.19 L203.5,417.19 L204.0,417.19 L204.5,417.18 L205.0,417.18 L205.5,417.17 L206.0,417.16 L206.5,417.15 L207.0,417.14 L207.5,417.13 L208.0,417.12 L208.5,417.10 L209.0,417.08 L209.5,417.07 L210.0,417.05 L210.5,417.02 L211.0,417.00 L211.5,416.98 L212.0,416.95 L212.5,416.93 L213.0,416.90 L213.5,416.87 L214.0,416.84 L214.5,416.81 L215.0,416.78 L215.5,416.74 L216.0,416.71 L216.5,416.67 L217.0,416.63 L217.5,416.60 L218.0,416.56 L218.5,416.51 L219.0,416.47 L219.5,416.43 L220.0,416.38 L220.5,416.34 L221.0,416.29 L221.5,416.24 L222.0,416.20 L222.5,416.15 L223.0,416.09 L223.5,416.04 L224.0,415.99 L224.5,415.94 L225.0,415.88 L225.5,415.82 L226.0,415.77 L226.5,415.71 L227.0,415.65 L227.5,415.59 L228.0,415.53 L228.5,415.47 L229.0,415.40 L229.5,415.34 L230.0,415.28 L230.5,415.21 L231.0,415.15 L231.5,415.08 L232.0,415.01 L232.5,414.94 L233.0,414.87 L233.5,414.80 L234.0,414.73 L234.5,414.66 L235.0,414.59 L235.5,414.51 L236.0,414.44 L236.5,414.36 L237.0,414.29 L237.5,414.21 L238.0,414.14 L238.5,414.06 L239.0,413.98 L239.5,413.90 L240.0,413.82 L240.5,413.74 L241.0,413.66 L241.5,413.58 L242.0,413.50 L242.5,413.42 L243.0,413.33 L243.5,413.25 L244.0,413.17 L244.5,413.08 L245.0,413.00 L245.5,412.91 L246.0,412.83 L246.5,412.74 L247.0,412.65 L247.5,412.57 L248.0,412.48 L248.5,412.39 L249.0,412.30 L249.5,412.21 L250.0,412.12 L250.5,412.02 L251.0,411.93 L251.5,411.83 L252.0,411.74 L252.5,411.64 L253.0,411.54 L253.5,411.45 L254.0,411.34 L254.5,411.24 L255.0,411.14 L255.5,411.04 L256.0,410.93 L256.5,410.82 L257.0,410.71 L257.5,410.60 L258.0,410.49 L258.5,410.38 L259.0,410.26 L259.5,410.15 L260.0,410.03 L260.5,409.91 L261.0,409.79 L261.5,409.66 L262.0,409.54 L262.5,409.41 L263.0,409.28 L263.5,409.15 L264.0,409.01 L264.5,408.88 L265.0,408.74 L265.5,408.60 L266.0,408.46 L266.5,408.31 L267.0,408.16 L267.5,408.01 L268.0,407.86 L268.5,407.71 L269.0,407.55 L269.5,407.39 L270.0,407.23 L270.5,407.06 L271.0,406.89 L271.5,406.72 L272.0,406.55 L272.5,406.37 L273.0,406.19 L273.5,406.01 L274.0,405.83 L274.5,405.64 L275.0,405.45 L275.5,405.25 L276.0,405.05 L276.5,404.85 L277.0,404.65 L277.5,404.44 L278.0,404.24 L278.5,404.03 L279.0,403.81 L279.5,403.60 L280.0,403.38 L280.5,403.16 L281.0,402.93 L281.5,402.71 L282.0,402.48 L282.5,402.25 L283.0,402.02 L283.5,401.79 L284.0,401.56 L284.5,401.32 L285.0,401.09 L285.5,400.85 L286.0,400.61 L286.5,400.37 L287.0,400.13 L287.5,399.89 L288.0,399.65 L288.5,399.40 L289.0,399.16 L289.5,398.91 L290.0,398.67 L290.5,398.42 L291.0,398.18 L291.5,397.93 L292.0,397.68 L292.5,397.44 L293.0,397.19 L293.5,396.94 L294.0,396.70 L294.5,396.45 L295.0,396.21 L295.5,395.96 L296.0,395.72 L296.5,395.47 L297.0,395.23 L297.5,394.99 L298.0,394.75 L298.5,394.51 L299.0,394.27 L299.5,394.03 L300.0,393.79 L300.5,393.56 L301.0,393.32 L301.5,393.09 L302.0,392.86 L302.5,392.63 L303.0,392.39 L303.5,392.16 L304.0,391.93 L304.5,391.69 L305.0,391.46 L305.5,391.22 L306.0,390.98 L306.5,390.74 L307.0,390.50 L307.5,390.25 L308.0,390.01 L308.5,389.76 L309.0,389.50 L309.5,389.24 L310.0,388.98 L310.5,388.72 L311.0,388.45 L311.5,388.17 L312.0,387.89 L312.5,387.60 L313.0,387.31 L313.5,387.02 L314.0,386.71 L314.5,386.40 L315.0,386.09 L315.5,385.76 L316.0,385.43 L316.5,385.09 L317.0,384.75 L317.5,384.39 L318.0,384.02 L318.5,383.65 L319.0,383.26 L319.5,382.86 L320.0,382.46 L320.5,382.03 L321.0,381.60 L321.5,381.15 L322.0,380.69 L322.5,380.21 L323.0,379.68 L323.5,379.05 L324.0,378.29 L324.5,377.36 L325.0,376.24 L325.5,374.97 L326.0,373.60 L326.5,372.22 L327.0,370.86 L327.5,369.59 L328.0,368.40 L328.5,367.28 L329.0,366.22 L329.5,365.22 L330.0,364.25 L330.5,363.34 L331.0,362.48 L331.5,361.69 L332.0,360.99 L332.5,360.38 L333.0,359.92 L333.5,359.65 L334.0,359.64 L334.5,359.94 L335.0,360.58 L335.5,361.50 L336.0,362.66 L336.5,363.96 L337.0,365.35 L337.5,366.77 L338.0,368.16 L338.5,369.49 L339.0,370.71 L339.5,371.79 L340.0,372.70 L340.5,373.45 L341.0,374.07 L341.5,374.60 L342.0,375.05 L342.5,375.45 L343.0,375.80 L343.5,376.12 L344.0,376.41 L344.5,376.66 L345.0,376.88 L345.5,377.08 L346.0,377.25 L346.5,377.40 L347.0,377.54 L347.5,377.67 L348.0,377.78 L348.5,377.89 L349.0,377.99 L349.5,378.10 L350.0,378.20 L350.5,378.30 L351.0,378.41 L351.5,378.51 L352.0,378.62 L352.5,378.72 L353.0,378.83 L353.5,378.94 L354.0,379.05 L354.5,379.16 L355.0,379.28 L355.5,379.40 L356.0,379.52 L356.5,379.64 L357.0,379.76 L357.5,379.89 L358.0,380.02 L358.5,380.16 L359.0,380.30 L359.5,380.44 L360.0,380.59 L360.5,380.74 L361.0,380.90 L361.5,381.06 L362.0,381.23 L362.5,381.40 L363.0,381.57 L363.5,381.74 L364.0,381.92 L364.5,382.10 L365.0,382.29 L365.5,382.47 L366.0,382.66 L366.5,382.85 L367.0,383.04 L367.5,383.24 L368.0,383.43 L368.5,383.63 L369.0,383.83 L369.5,384.02 L370.0,384.22 L370.5,384.42 L371.0,384.62 L371.5,384.82 L372.0,385.02 L372.5,385.21 L373.0,385.41 L373.5,385.61 L374.0,385.80 L374.5,385.99 L375.0,386.19 L375.5,386.37 L376.0,386.56 L376.5,386.75 L377.0,386.93 L377.5,387.12 L378.0,387.30 L378.5,387.48 L379.0,387.66 L379.5,387.84 L380.0,388.02 L380.5,388.20 L381.0,388.37 L381.5,388.55 L382.0,388.73 L382.5,388.90 L383.0,389.08 L383.5,389.26 L384.0,389.43 L384.5,389.61 L385.0,389.79 L385.5,389.97 L386.0,390.15 L386.5,390.33 L387.0,390.51 L387.5,390.69 L388.0,390.87 L388.5,391.06 L389.0,391.24 L389.5,391.43 L390.0,391.61 L390.5,391.79 L391.0,391.97 L391.5,392.14 L392.0,392.30 L392.5,392.46 L393.0,392.62 L393.5,392.76 L394.0,392.89 L394.5,393.02 L395.0,393.13 L395.5,393.23 L396.0,393.31 L396.5,393.38 L397.0,393.44 L397.5,393.48 L398.0,393.50 L398.5,393.51 L399.0,393.51 L399.5,393.49 L400.0,393.45 L400.5,393.39 L401.0,393.32 L401.5,393.23 L402.0,393.13 L402.5,393.01 L403.0,392.89 L403.5,392.77 L404.0,392.65 L404.5,392.53 L405.0,392.41 L405.5,392.31 L406.0,392.22 L406.5,392.15 L407.0,392.10 L407.5,392.07 L408.0,392.07 L408.5,392.11 L409.0,392.18 L409.5,392.30 L410.0,392.46 L410.5,392.67 L411.0,392.93 L411.5,393.25 L412.0,393.62 L412.5,394.04 L413.0,394.48 L413.5,394.95 L414.0,395.44 L414.5,395.94 L415.0,396.44 L415.5,396.93 L416.0,397.41 L416.5,397.86 L417.0,398.30 L417.5,398.71 L418.0,399.10 L418.5,399.47 L419.0,399.83 L419.5,400.16 L420.0,400.48 L420.5,400.78 L421.0,401.07 L421.5,401.34 L422.0,401.59 L422.5,401.84 L423.0,402.07 L423.5,402.28 L424.0,402.49 L424.5,402.69 L425.0,402.87 L425.5,403.05 L426.0,403.22 L426.5,403.39 L427.0,403.54 L427.5,403.69 L428.0,403.84 L428.5,403.98 L429.0,404.12 L429.5,404.26 L430.0,404.39 L430.5,404.52 L431.0,404.65 L431.5,404.79 L432.0,404.92 L432.5,405.05 L433.0,405.17 L433.5,405.30 L434.0,405.43 L434.5,405.55 L435.0,405.68 L435.5,405.80 L436.0,405.93 L436.5,406.05 L437.0,406.17 L437.5,406.29 L438.0,406.41 L438.5,406.53 L439.0,406.65 L439.5,406.77 L440.0,406.88 L440.5,407.00 L441.0,407.11 L441.5,407.23 L442.0,407.34 L442.5,407.46 L443.0,407.57 L443.5,407.68 L444.0,407.79 L444.5,407.90 L445.0,408.01 L445.5,408.12 L446.0,408.23 L446.5,408.34 L447.0,408.44 L447.5,408.55 L448.0,408.66 L448.5,408.76 L449.0,408.87 L449.5,408.97 L450.0,409.08 L450.5,409.18 L451.0,409.28 L451.5,409.38 L452.0,409.49 L452.5,409.59 L453.0,409.69 L453.5,409.79 L454.0,409.89 L454.5,409.99 L455.0,410.09 L455.5,410.18 L456.0,410.28 L456.5,410.38 L457.0,410.48 L457.5,410.57 L458.0,410.67 L458.5,410.76 L459.0,410.86 L459.5,410.95 L460.0,411.05 L460.5,411.14 L461.0,411.23 L461.5,411.33 L462.0,411.42 L462.5,411.51 L463.0,411.60 L463.5,411.69 L464.0,411.78 L464.5,411.87 L465.0,411.96 L465.5,412.05 L466.0,412.14 L466.5,412.23 L467.0,412.32 L467.5,412.41 L468.0,412.49 L468.5,412.58 L469.0,412.67 L469.5,412.75 L470.0,412.84 L470.5,412.93 L471.0,413.01 L471.5,413.10 L472.0,413.18 L472.5,413.26 L473.0,413.35 L473.5,413.43 L474.0,413.52 L474.5,413.60 L475.0,413.69 L475.5,413.77 L476.0,413.86 L476.5,413.94 L477.0,414.03 L477.5,414.11 L478.0,414.20 L478.5,414.29 L479.0,414.38 L479.5,414.46 L480.0,414.55 L480.5,414.64 L481.0,414.73 L481.5,414.83 L482.0,414.92 L482.5,415.01 L483.0,415.11 L483.5,415.20 L484.0,415.30 L484.5,415.40 L485.0,415.50 L485.5,415.60 L486.0,415.70 L486.5,415.81 L487.0,415.91 L487.5,416.02 L488.0,416.12 L488.5,416.22 L489.0,416.32 L489.5,416.42 L490.0,416.51 L490.5,416.59 L491.0,416.67 L491.5,416.74 L492.0,416.81 L492.5,416.86 L493.0,416.91 L493.5,416.94 L494.0,416.96 L494.5,416.97 L495.0,416.97 L495.5,416.96 L496.0,416.92 L496.5,416.88 L497.0,416.82 L497.5,416.75 L498.0,416.67 L498.5,416.58 L499.0,416.49 L499.5,416.40 L500.0,416.31 L500.5,416.22 L501.0,416.13 L501.5,416.06 L502.0,415.99 L502.5,415.94 L503.0,415.90 L503.5,415.88 L504.0,415.87 L504.5,415.89 L505.0,415.93 L505.5,415.98 L506.0,416.06 L506.5,416.15 L507.0,416.25 L507.5,416.37 L508.0,416.49 L508.5,416.63 L509.0,416.78 L509.5,416.93 L510.0,417.09 L510.5,417.26 L511.0,417.42 L511.5,417.59 L512.0,417.76 L512.5,417.93 L513.0,418.09 L513.5,418.25 L514.0,418.41 L514.5,418.56 L515.0,418.71 L515.5,418.86 L516.0,419.00 L516.5,419.14 L517.0,419.27 L517.5,419.40 L518.0,419.53 L518.5,419.65 L519.0,419.77 L519.5,419.89 L520.0,420.00 L520.5,420.12 L521.0,420.22 L521.5,420.33 L522.0,420.43 L522.5,420.53 L523.0,420.63 L523.5,420.72 L524.0,420.82 L524.5,420.91 L525.0,420.99 L525.5,421.08 L526.0,421.16 L526.5,421.24 L527.0,421.32 L527.5,421.40 L528.0,421.48 L528.5,421.55 L529.0,421.62 L529.5,421.69 L530.0,421.76 L530.5,421.83 L531.0,421.89 L531.5,421.96 L532.0,422.02 L532.5,422.09 L533.0,422.15 L533.5,422.21 L534.0,422.27 L534.5,422.33 L535.0,422.38 L535.5,422.44 L536.0,422.50 L536.5,422.56 L537.0,422.61 L537.5,422.67 L538.0,422.72 L538.5,422.78 L539.0,422.83 L539.5,422.89 L540.0,422.94 L540.5,423.00 L541.0,423.06 L541.5,423.11 L542.0,423.17 L542.5,423.22 L543.0,423.28 L543.5,423.34 L544.0,423.39 L544.5,423.45 L545.0,423.50 L545.5,423.56 L546.0,423.62 L546.5,423.67 L547.0,423.73 L547.5,423.79 L548.0,423.84 L548.5,423.90 L549.0,423.96 L549.5,424.01 L550.0,424.07 L550.5,424.13 L551.0,424.18 L551.5,424.24 L552.0,424.29 L552.5,424.35 L553.0,424.40 L553.5,424.46 L554.0,424.52 L554.5,424.57 L555.0,424.63 L555.5,424.68 L556.0,424.74 L556.5,424.79 L557.0,424.85 L557.5,424.90 L558.0,424.95 L558.5,425.01 L559.0,425.06 L559.5,425.11 L560.0,425.17 L560.5,425.22 L561.0,425.27 L561.5,425.32 L562.0,425.38 L562.5,425.43 L563.0,425.48 L563.5,425.53 L564.0,425.58 L564.5,425.63 L565.0,425.68 L565.5,425.73 L566.0,425.78 L566.5,425.82 L567.0,425.87 L567.5,425.92 L568.0,425.97 L568.5,426.01 L569.0,426.06 L569.5,426.10 L570.0,426.15 L570.5,426.19 L571.0,426.24 L571.5,426.28 L572.0,426.32 L572.5,426.37 L573.0,426.41 L573.5,426.45 L574.0,426.49 L574.5,426.53 L575.0,426.57 L575.5,426.61 L576.0,426.65 L576.5,426.68 L577.0,426.72 L577.5,426.76 L578.0,426.79 L578.5,426.83 L579.0,426.86 L579.5,426.90 L580.0,426.93 L580.5,426.96 L581.0,426.99 L581.5,427.02 L582.0,427.05 L582.5,427.08 L583.0,427.11 L583.5,427.14 L584.0,427.16 L584.5,427.19 L585.0,427.22 L585.5,427.24 L586.0,427.27 L586.5,427.29 L587.0,427.32 L587.5,427.34 L588.0,427.36 L588.5,427.38 L589.0,427.41 L589.5,427.43 L590.0,427.45 L590.5,427.47 L591.0,427.49 L591.5,427.51 L592.0,427.53 L592.5,427.55 L593.0,427.57 L593.5,427.58 L594.0,427.60 L594.5,427.62 L595.0,427.64 L595.5,427.65 L596.0,427.67 L596.5,427.69 L597.0,427.70 L597.5,427.72 L598.0,427.74 L598.5,427.75 L599.0,427.77 L599.5,427.78 L600.0,427.80 L600.5,427.81 L601.0,427.83 L601.5,427.84 L602.0,427.86 L602.5,427.87 L603.0,427.89 L603.5,427.90 L604.0,427.92 L604.5,427.93 L605.0,427.95 L605.5,427.96 L606.0,427.98 L606.5,427.99 L607.0,428.01 L607.5,428.02 L608.0,428.04 L608.5,428.05 L609.0,428.07 L609.5,428.08 L610.0,428.10 L610.5,428.11 L611.0,428.13 L611.5,428.15 L612.0,428.16 L612.5,428.18 L613.0,428.20 L613.5,428.21 L614.0,428.23 L614.5,428.25 L615.0,428.27 L615.5,428.29 L616.0,428.31 L616.5,428.33 L617.0,428.35 L617.5,428.37 L618.0,428.39 L618.5,428.41 L619.0,428.43 L619.5,428.45 L620.0,428.47 L620.5,428.49 L621.0,428.52 L621.5,428.54 L622.0,428.57 L622.5,428.59 L623.0,428.62 L623.5,428.64 L624.0,428.67 L624.5,428.70 L625.0,428.72 L625.5,428.75 L626.0,428.78 L626.5,428.81 L627.0,428.84 L627.5,428.87 L628.0,428.90 L628.5,428.94 L629.0,428.97 L629.5,429.01 L630.0,429.04 L630.5,429.08 L631.0,429.11 L631.5,429.15 L631.9,429.18" stroke="#000080"/>
</g>
<g stroke="#000" stroke-width="2" fill="none">
<line x1="43.1" y1="546.2" x2="631.9" y2="546.2" />
<line x1="44.1" y1="545.2" x2="44.1" y2="554.7" />
<line x1="93.0" y1="545.2" x2="93.0" y2="550.4" />
<line x1="141.9" y1="545.2" x2="141.9" y2="554.7" />
<line x1="190.8" y1="545.2" x2="190.8" y2="550.4" />
<line x1="239.7" y1="545.2" x2="239.7" y2="554.7" />
<line x1="288.6" y1="545.2" x2="288.6" y2="550.4" />
<line x1="337.5" y1="545.2" x2="337.5" y2="554.7" />
<line x1="386.4" y1="545.2" x2="386.4" y2="550.4" />
<line x1="435.3" y1="545.2" x2="435.3" y2="554.7" />
<line x1="484.2" y1="545.2" x2="484.2" y2="550.4" />
<line x1="533.1" y1="545.2" x2="533.1" y2="554.7" />
<line x1="582.0" y1="545.2" x2="582.0" y2="550.4" />
<line x1="630.9" y1="545.2" x2="630.9" y2="554.7" />
</g>
<g font-family="'Liberation Serif', serif" font-size="25.0" fill="#000">
<text x="36.63" y="580.3" textLength="14.40" lengthAdjust="spacingAndGlyphs">5</text>
<text x="128.09" y="580.3" textLength="26.32" lengthAdjust="spacingAndGlyphs">10</text>
<text x="225.88" y="580.3" textLength="26.34" lengthAdjust="spacingAndGlyphs">15</text>
<text x="324.90" y="580.3" textLength="25.06" lengthAdjust="spacingAndGlyphs">20</text>
<text x="422.70" y="580.3" textLength="25.08" lengthAdjust="spacingAndGlyphs">25</text>
<text x="520.40" y="580.3" textLength="25.16" lengthAdjust="spacingAndGlyphs">30</text>
<text x="618.19" y="580.3" textLength="25.19" lengthAdjust="spacingAndGlyphs">35</text>
<text x="296.00" y="56.7" textLength="69.76" lengthAdjust="spacingAndGlyphs">d=4.45</text>
<text x="369.14" y="56.7" textLength="19.46" lengthAdjust="spacingAndGlyphs">Å</text>
<text x="123.81" y="86.5" textLength="69.66" lengthAdjust="spacingAndGlyphs">d=8.55</text>
<text x="196.93" y="86.5" textLength="19.97" lengthAdjust="spacingAndGlyphs">Å</text>
<text x="392.90" y="75.6" textLength="70.32" lengthAdjust="spacingAndGlyphs">d=3.77</text>
<text x="465.13" y="75.6" textLength="19.87" lengthAdjust="spacingAndGlyphs">Å</text>
<text x="470.50" y="141.2" textLength="69.76" lengthAdjust="spacingAndGlyphs">d=3.15</text>
<text x="543.14" y="141.2" textLength="19.56" lengthAdjust="spacingAndGlyphs">Å</text>
<text x="540.63" y="91.4" textLength="90.48" lengthAdjust="spacingAndGlyphs">As-spun</text>
<text x="572.86" y="154.7" textLength="58.14" lengthAdjust="spacingAndGlyphs">190/3</text>
<text x="571.78" y="200.6" textLength="57.81" lengthAdjust="spacingAndGlyphs">210/3</text>
<text x="572.91" y="248.6" textLength="56.66" lengthAdjust="spacingAndGlyphs">230/3</text>
<text x="572.91" y="292.9" textLength="56.66" lengthAdjust="spacingAndGlyphs">250/3</text>
<text x="572.10" y="379.9" textLength="57.18" lengthAdjust="spacingAndGlyphs">230/3</text>
<text x="571.68" y="424.4" textLength="58.18" lengthAdjust="spacingAndGlyphs">230/6</text>
<text x="571.70" y="467.7" textLength="56.82" lengthAdjust="spacingAndGlyphs">230/9</text>
<text x="563.19" y="519.4" textLength="70.00" lengthAdjust="spacingAndGlyphs">230/12</text>
</g>
<g font-family="'Liberation Serif', serif" font-weight="bold" font-size="28.8" fill="#000" stroke="#fff" stroke-width="0.35">
<text x="427.95" y="21.8" textLength="206.61" lengthAdjust="spacingAndGlyphs">Heat Treat. (°C/h)</text>
<text x="261.61" y="627.0" textLength="151.23" lengthAdjust="spacingAndGlyphs" font-size="29.0">2θ (Degree)</text>
<text transform="translate(23.8,382.5) rotate(-90)" x="-1.07" y="0" textLength="198.47" lengthAdjust="spacingAndGlyphs" font-size="28.5">Intensity (a.u.)</text>
</g>
</svg>
</body></html>
